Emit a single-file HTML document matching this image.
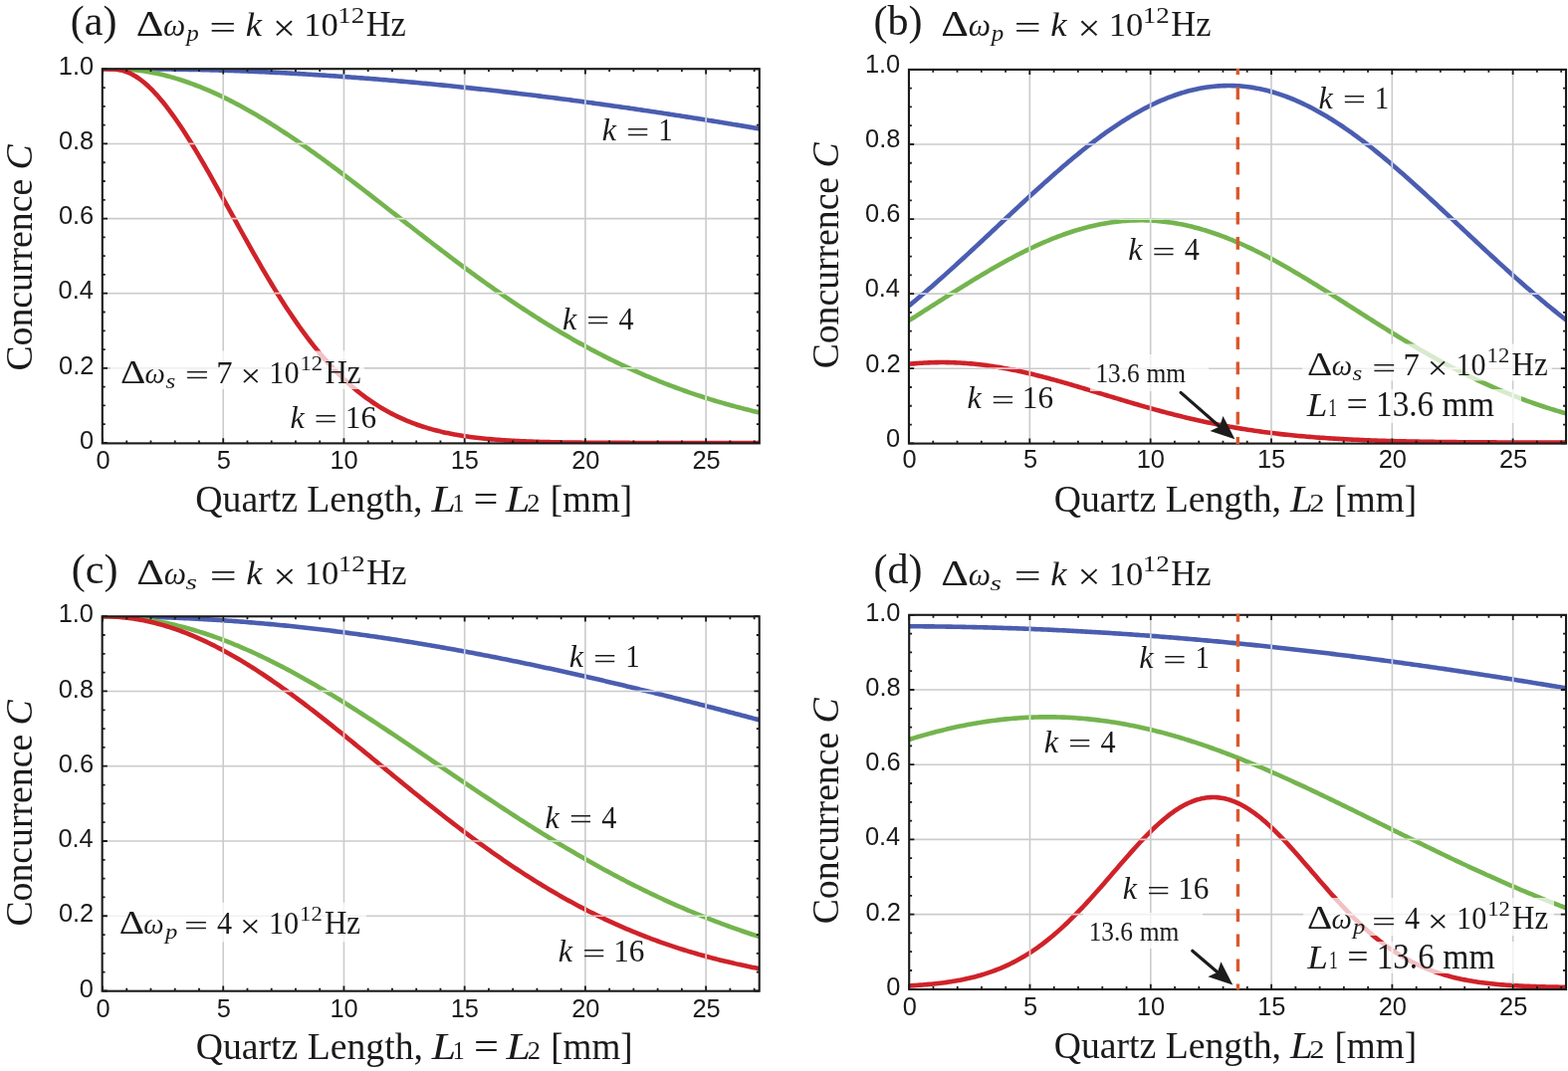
<!DOCTYPE html><html><head><meta charset="utf-8"><title>Concurrence vs quartz length</title><style>html,body{margin:0;padding:0;background:#fff;}svg{display:block;}</style></head><body>
<svg width="1575" height="1076" viewBox="0 0 1575 1076">
<rect width="1575" height="1076" fill="#fff"/>
<defs>
<clipPath id="clipa"><rect x="102.8" y="69.2" width="660.0" height="376.2"/></clipPath>
<clipPath id="clipb"><rect x="912.95" y="69.9" width="660.05" height="375.70000000000005"/></clipPath>
<clipPath id="clipc"><rect x="102.65" y="619.3" width="660.0500000000001" height="376.4000000000001"/></clipPath>
<clipPath id="clipd"><rect x="913.2" y="617.8" width="659.8" height="376.20000000000005"/></clipPath>
</defs>
<g id="panel-a">
<path d="M224.23 69.20V445.40M345.45 69.20V445.40M466.68 69.20V445.40M587.90 69.20V445.40M709.12 69.20V445.40M102.80 369.86H762.80M102.80 294.72H762.80M102.80 219.58H762.80M102.80 144.44H762.80" stroke="#cbcbcb" stroke-width="1.6" fill="none"/>
<g clip-path="url(#clipa)" fill="none" stroke-width="4.6" stroke-linejoin="round" stroke-linecap="round">
<polyline points="103.00,69.30 105.22,69.30 107.44,69.30 109.67,69.30 111.89,69.30 114.11,69.30 116.33,69.30 118.55,69.30 120.77,69.30 123.00,69.30 125.22,69.30 127.44,69.31 129.66,69.31 131.88,69.31 134.10,69.31 136.33,69.32 138.55,69.32 140.77,69.33 142.99,69.34 145.21,69.35 147.44,69.35 149.66,69.37 151.88,69.38 154.10,69.39 156.32,69.41 158.54,69.42 160.77,69.44 162.99,69.46 165.21,69.48 167.43,69.50 169.65,69.53 171.88,69.55 174.10,69.58 176.32,69.61 178.54,69.64 180.76,69.67 182.98,69.71 185.21,69.75 187.43,69.79 189.65,69.83 191.87,69.87 194.09,69.91 196.31,69.96 198.54,70.01 200.76,70.06 202.98,70.11 205.20,70.16 207.42,70.22 209.65,70.28 211.87,70.34 214.09,70.40 216.31,70.46 218.53,70.53 220.75,70.59 222.98,70.66 225.20,70.73 227.42,70.80 229.64,70.88 231.86,70.95 234.09,71.03 236.31,71.11 238.53,71.19 240.75,71.28 242.97,71.36 245.19,71.45 247.42,71.54 249.64,71.63 251.86,71.72 254.08,71.81 256.30,71.91 258.52,72.00 260.75,72.10 262.97,72.20 265.19,72.30 267.41,72.41 269.63,72.51 271.86,72.62 274.08,72.73 276.30,72.84 278.52,72.95 280.74,73.06 282.96,73.18 285.19,73.29 287.41,73.41 289.63,73.53 291.85,73.65 294.07,73.78 296.30,73.90 298.52,74.03 300.74,74.15 302.96,74.28 305.18,74.41 307.40,74.55 309.63,74.68 311.85,74.82 314.07,74.95 316.29,75.09 318.51,75.23 320.73,75.37 322.96,75.52 325.18,75.66 327.40,75.81 329.62,75.95 331.84,76.10 334.07,76.25 336.29,76.41 338.51,76.56 340.73,76.71 342.95,76.87 345.17,77.03 347.40,77.19 349.62,77.35 351.84,77.51 354.06,77.68 356.28,77.84 358.50,78.01 360.73,78.18 362.95,78.35 365.17,78.52 367.39,78.69 369.61,78.87 371.84,79.04 374.06,79.22 376.28,79.40 378.50,79.58 380.72,79.76 382.94,79.94 385.17,80.13 387.39,80.31 389.61,80.50 391.83,80.69 394.05,80.88 396.28,81.07 398.50,81.26 400.72,81.45 402.94,81.65 405.16,81.85 407.38,82.04 409.61,82.24 411.83,82.45 414.05,82.65 416.27,82.85 418.49,83.06 420.71,83.26 422.94,83.47 425.16,83.68 427.38,83.89 429.60,84.10 431.82,84.32 434.05,84.53 436.27,84.75 438.49,84.96 440.71,85.18 442.93,85.40 445.15,85.62 447.38,85.85 449.60,86.07 451.82,86.29 454.04,86.52 456.26,86.75 458.49,86.98 460.71,87.21 462.93,87.44 465.15,87.67 467.37,87.91 469.59,88.14 471.82,88.38 474.04,88.62 476.26,88.86 478.48,89.10 480.70,89.34 482.92,89.59 485.15,89.83 487.37,90.08 489.59,90.32 491.81,90.57 494.03,90.82 496.26,91.07 498.48,91.33 500.70,91.58 502.92,91.84 505.14,92.09 507.36,92.35 509.59,92.61 511.81,92.87 514.03,93.13 516.25,93.39 518.47,93.65 520.70,93.92 522.92,94.19 525.14,94.45 527.36,94.72 529.58,94.99 531.80,95.26 534.03,95.53 536.25,95.81 538.47,96.08 540.69,96.36 542.91,96.63 545.13,96.91 547.36,97.19 549.58,97.47 551.80,97.75 554.02,98.04 556.24,98.32 558.47,98.61 560.69,98.89 562.91,99.18 565.13,99.47 567.35,99.76 569.57,100.05 571.80,100.34 574.02,100.63 576.24,100.93 578.46,101.22 580.68,101.52 582.91,101.82 585.13,102.12 587.35,102.42 589.57,102.72 591.79,103.02 594.01,103.32 596.24,103.63 598.46,103.93 600.68,104.24 602.90,104.55 605.12,104.86 607.34,105.17 609.57,105.48 611.79,105.79 614.01,106.11 616.23,106.42 618.45,106.73 620.68,107.05 622.90,107.37 625.12,107.69 627.34,108.01 629.56,108.33 631.78,108.65 634.01,108.97 636.23,109.30 638.45,109.62 640.67,109.95 642.89,110.27 645.11,110.60 647.34,110.93 649.56,111.26 651.78,111.59 654.00,111.93 656.22,112.26 658.45,112.59 660.67,112.93 662.89,113.26 665.11,113.60 667.33,113.94 669.55,114.28 671.78,114.62 674.00,114.96 676.22,115.30 678.44,115.65 680.66,115.99 682.89,116.33 685.11,116.68 687.33,117.03 689.55,117.38 691.77,117.72 693.99,118.07 696.22,118.43 698.44,118.78 700.66,119.13 702.88,119.48 705.10,119.84 707.32,120.19 709.55,120.55 711.77,120.91 713.99,121.27 716.21,121.62 718.43,121.98 720.66,122.35 722.88,122.71 725.10,123.07 727.32,123.43 729.54,123.80 731.76,124.16 733.99,124.53 736.21,124.90 738.43,125.26 740.65,125.63 742.87,126.00 745.10,126.37 747.32,126.75 749.54,127.12 751.76,127.49 753.98,127.86 756.20,128.24 758.43,128.62 760.65,128.99 762.87,129.37 765.09,129.75 767.31,130.13" stroke="#4a5db0"/>
<polyline points="103.00,69.30 105.22,69.30 107.44,69.30 109.67,69.30 111.89,69.31 114.11,69.32 116.33,69.35 118.55,69.39 120.77,69.44 123.00,69.51 125.22,69.60 127.44,69.72 129.66,69.86 131.88,70.03 134.10,70.22 136.33,70.43 138.55,70.68 140.77,70.95 142.99,71.25 145.21,71.57 147.44,71.92 149.66,72.29 151.88,72.69 154.10,73.12 156.32,73.57 158.54,74.04 160.77,74.54 162.99,75.06 165.21,75.60 167.43,76.17 169.65,76.76 171.88,77.37 174.10,78.00 176.32,78.66 178.54,79.34 180.76,80.03 182.98,80.75 185.21,81.49 187.43,82.25 189.65,83.03 191.87,83.83 194.09,84.65 196.31,85.49 198.54,86.35 200.76,87.22 202.98,88.12 205.20,89.04 207.42,89.97 209.65,90.92 211.87,91.89 214.09,92.88 216.31,93.88 218.53,94.91 220.75,95.95 222.98,97.01 225.20,98.08 227.42,99.17 229.64,100.28 231.86,101.40 234.09,102.55 236.31,103.70 238.53,104.87 240.75,106.06 242.97,107.26 245.19,108.48 247.42,109.72 249.64,110.96 251.86,112.23 254.08,113.50 256.30,114.79 258.52,116.10 260.75,117.42 262.97,118.75 265.19,120.09 267.41,121.45 269.63,122.82 271.86,124.21 274.08,125.60 276.30,127.01 278.52,128.43 280.74,129.86 282.96,131.31 285.19,132.76 287.41,134.23 289.63,135.70 291.85,137.19 294.07,138.69 296.30,140.19 298.52,141.71 300.74,143.24 302.96,144.78 305.18,146.32 307.40,147.88 309.63,149.44 311.85,151.01 314.07,152.60 316.29,154.18 318.51,155.78 320.73,157.39 322.96,159.00 325.18,160.62 327.40,162.24 329.62,163.88 331.84,165.52 334.07,167.16 336.29,168.82 338.51,170.47 340.73,172.14 342.95,173.81 345.17,175.48 347.40,177.16 349.62,178.84 351.84,180.53 354.06,182.23 356.28,183.92 358.50,185.62 360.73,187.33 362.95,189.04 365.17,190.75 367.39,192.46 369.61,194.18 371.84,195.90 374.06,197.62 376.28,199.34 378.50,201.07 380.72,202.80 382.94,204.53 385.17,206.26 387.39,207.99 389.61,209.72 391.83,211.45 394.05,213.19 396.28,214.92 398.50,216.65 400.72,218.39 402.94,220.12 405.16,221.85 407.38,223.59 409.61,225.32 411.83,227.05 414.05,228.78 416.27,230.51 418.49,232.23 420.71,233.96 422.94,235.68 425.16,237.40 427.38,239.11 429.60,240.83 431.82,242.54 434.05,244.25 436.27,245.96 438.49,247.66 440.71,249.36 442.93,251.06 445.15,252.75 447.38,254.44 449.60,256.12 451.82,257.80 454.04,259.48 456.26,261.15 458.49,262.82 460.71,264.48 462.93,266.14 465.15,267.79 467.37,269.43 469.59,271.08 471.82,272.71 474.04,274.34 476.26,275.97 478.48,277.58 480.70,279.20 482.92,280.80 485.15,282.40 487.37,284.00 489.59,285.58 491.81,287.16 494.03,288.74 496.26,290.31 498.48,291.87 500.70,293.42 502.92,294.96 505.14,296.50 507.36,298.03 509.59,299.56 511.81,301.07 514.03,302.58 516.25,304.08 518.47,305.57 520.70,307.06 522.92,308.54 525.14,310.00 527.36,311.47 529.58,312.92 531.80,314.36 534.03,315.80 536.25,317.22 538.47,318.64 540.69,320.05 542.91,321.45 545.13,322.85 547.36,324.23 549.58,325.60 551.80,326.97 554.02,328.33 556.24,329.68 558.47,331.01 560.69,332.34 562.91,333.66 565.13,334.98 567.35,336.28 569.57,337.57 571.80,338.85 574.02,340.13 576.24,341.39 578.46,342.65 580.68,343.89 582.91,345.13 585.13,346.36 587.35,347.58 589.57,348.78 591.79,349.98 594.01,351.17 596.24,352.35 598.46,353.52 600.68,354.68 602.90,355.83 605.12,356.97 607.34,358.10 609.57,359.22 611.79,360.34 614.01,361.44 616.23,362.53 618.45,363.61 620.68,364.69 622.90,365.75 625.12,366.81 627.34,367.85 629.56,368.88 631.78,369.91 634.01,370.93 636.23,371.93 638.45,372.93 640.67,373.92 642.89,374.89 645.11,375.86 647.34,376.82 649.56,377.77 651.78,378.71 654.00,379.64 656.22,380.56 658.45,381.47 660.67,382.37 662.89,383.27 665.11,384.15 667.33,385.03 669.55,385.89 671.78,386.75 674.00,387.59 676.22,388.43 678.44,389.26 680.66,390.08 682.89,390.89 685.11,391.69 687.33,392.49 689.55,393.27 691.77,394.05 693.99,394.81 696.22,395.57 698.44,396.32 700.66,397.06 702.88,397.79 705.10,398.52 707.32,399.23 709.55,399.94 711.77,400.64 713.99,401.33 716.21,402.01 718.43,402.68 720.66,403.35 722.88,404.00 725.10,404.65 727.32,405.29 729.54,405.93 731.76,406.55 733.99,407.17 736.21,407.78 738.43,408.38 740.65,408.98 742.87,409.56 745.10,410.14 747.32,410.71 749.54,411.28 751.76,411.83 753.98,412.38 756.20,412.93 758.43,413.46 760.65,413.99 762.87,414.51 765.09,415.02 767.31,415.53" stroke="#74b44e"/>
<polyline points="103.00,69.30 105.22,69.30 107.44,69.31 109.67,69.33 111.89,69.38 114.11,69.50 116.33,69.68 118.55,69.97 120.77,70.36 123.00,70.87 125.22,71.51 127.44,72.29 129.66,73.20 131.88,74.25 134.10,75.44 136.33,76.76 138.55,78.21 140.77,79.79 142.99,81.49 145.21,83.32 147.44,85.25 149.66,87.31 151.88,89.47 154.10,91.73 156.32,94.10 158.54,96.57 160.77,99.14 162.99,101.79 165.21,104.54 167.43,107.37 169.65,110.29 171.88,113.28 174.10,116.36 176.32,119.50 178.54,122.72 180.76,126.00 182.98,129.35 185.21,132.76 187.43,136.23 189.65,139.75 191.87,143.33 194.09,146.95 196.31,150.62 198.54,154.34 200.76,158.10 202.98,161.89 205.20,165.72 207.42,169.58 209.65,173.48 211.87,177.39 214.09,181.34 216.31,185.30 218.53,189.28 220.75,193.27 222.98,197.28 225.20,201.30 227.42,205.32 229.64,209.36 231.86,213.39 234.09,217.42 236.31,221.45 238.53,225.48 240.75,229.49 242.97,233.50 245.19,237.50 247.42,241.48 249.64,245.45 251.86,249.39 254.08,253.32 256.30,257.23 258.52,261.11 260.75,264.96 262.97,268.79 265.19,272.59 267.41,276.35 269.63,280.09 271.86,283.79 274.08,287.45 276.30,291.08 278.52,294.67 280.74,298.22 282.96,301.73 285.19,305.20 287.41,308.63 289.63,312.01 291.85,315.34 294.07,318.63 296.30,321.88 298.52,325.07 300.74,328.22 302.96,331.32 305.18,334.38 307.40,337.38 309.63,340.33 311.85,343.23 314.07,346.08 316.29,348.88 318.51,351.63 320.73,354.33 322.96,356.98 325.18,359.57 327.40,362.12 329.62,364.61 331.84,367.05 334.07,369.44 336.29,371.78 338.51,374.06 340.73,376.30 342.95,378.48 345.17,380.62 347.40,382.71 349.62,384.74 351.84,386.73 354.06,388.67 356.28,390.56 358.50,392.40 360.73,394.20 362.95,395.95 365.17,397.65 367.39,399.31 369.61,400.92 371.84,402.49 374.06,404.01 376.28,405.50 378.50,406.94 380.72,408.34 382.94,409.69 385.17,411.01 387.39,412.29 389.61,413.53 391.83,414.73 394.05,415.90 396.28,417.03 398.50,418.12 400.72,419.18 402.94,420.20 405.16,421.19 407.38,422.15 409.61,423.08 411.83,423.97 414.05,424.83 416.27,425.67 418.49,426.47 420.71,427.25 422.94,428.00 425.16,428.72 427.38,429.42 429.60,430.09 431.82,430.74 434.05,431.36 436.27,431.96 438.49,432.54 440.71,433.09 442.93,433.63 445.15,434.14 447.38,434.63 449.60,435.11 451.82,435.56 454.04,436.00 456.26,436.42 458.49,436.82 460.71,437.21 462.93,437.58 465.15,437.93 467.37,438.27 469.59,438.59 471.82,438.91 474.04,439.20 476.26,439.49 478.48,439.76 480.70,440.02 482.92,440.27 485.15,440.51 487.37,440.73 489.59,440.95 491.81,441.16 494.03,441.36 496.26,441.54 498.48,441.72 500.70,441.90 502.92,442.06 505.14,442.21 507.36,442.36 509.59,442.50 511.81,442.64 514.03,442.76 516.25,442.89 518.47,443.00 520.70,443.11 522.92,443.21 525.14,443.31 527.36,443.41 529.58,443.50 531.80,443.58 534.03,443.66 536.25,443.74 538.47,443.81 540.69,443.88 542.91,443.94 545.13,444.00 547.36,444.06 549.58,444.12 551.80,444.17 554.02,444.22 556.24,444.26 558.47,444.31 560.69,444.35 562.91,444.39 565.13,444.43 567.35,444.46 569.57,444.49 571.80,444.52 574.02,444.55 576.24,444.58 578.46,444.61 580.68,444.63 582.91,444.66 585.13,444.68 587.35,444.70 589.57,444.72 591.79,444.73 594.01,444.75 596.24,444.77 598.46,444.78 600.68,444.80 602.90,444.81 605.12,444.82 607.34,444.83 609.57,444.85 611.79,444.86 614.01,444.87 616.23,444.87 618.45,444.88 620.68,444.89 622.90,444.90 625.12,444.91 627.34,444.91 629.56,444.92 631.78,444.92 634.01,444.93 636.23,444.93 638.45,444.94 640.67,444.94 642.89,444.95 645.11,444.95 647.34,444.95 649.56,444.96 651.78,444.96 654.00,444.96 656.22,444.97 658.45,444.97 660.67,444.97 662.89,444.97 665.11,444.97 667.33,444.98 669.55,444.98 671.78,444.98 674.00,444.98 676.22,444.98 678.44,444.98 680.66,444.99 682.89,444.99 685.11,444.99 687.33,444.99 689.55,444.99 691.77,444.99 693.99,444.99 696.22,444.99 698.44,444.99 700.66,444.99 702.88,444.99 705.10,444.99 707.32,444.99 709.55,444.99 711.77,445.00 713.99,445.00 716.21,445.00 718.43,445.00 720.66,445.00 722.88,445.00 725.10,445.00 727.32,445.00 729.54,445.00 731.76,445.00 733.99,445.00 736.21,445.00 738.43,445.00 740.65,445.00 742.87,445.00 745.10,445.00 747.32,445.00 749.54,445.00 751.76,445.00 753.98,445.00 756.20,445.00 758.43,445.00 760.65,445.00 762.87,445.00 765.09,445.00 767.31,445.00" stroke="#cf2229"/>
</g>
<mask id="mka" maskUnits="userSpaceOnUse" x="0" y="0" width="1575" height="1076"><g fill="none" stroke="#fff" stroke-width="4.6" stroke-linejoin="round">
<polyline points="103.00,69.30 105.22,69.30 107.44,69.30 109.67,69.30 111.89,69.30 114.11,69.30 116.33,69.30 118.55,69.30 120.77,69.30 123.00,69.30 125.22,69.30 127.44,69.31 129.66,69.31 131.88,69.31 134.10,69.31 136.33,69.32 138.55,69.32 140.77,69.33 142.99,69.34 145.21,69.35 147.44,69.35 149.66,69.37 151.88,69.38 154.10,69.39 156.32,69.41 158.54,69.42 160.77,69.44 162.99,69.46 165.21,69.48 167.43,69.50 169.65,69.53 171.88,69.55 174.10,69.58 176.32,69.61 178.54,69.64 180.76,69.67 182.98,69.71 185.21,69.75 187.43,69.79 189.65,69.83 191.87,69.87 194.09,69.91 196.31,69.96 198.54,70.01 200.76,70.06 202.98,70.11 205.20,70.16 207.42,70.22 209.65,70.28 211.87,70.34 214.09,70.40 216.31,70.46 218.53,70.53 220.75,70.59 222.98,70.66 225.20,70.73 227.42,70.80 229.64,70.88 231.86,70.95 234.09,71.03 236.31,71.11 238.53,71.19 240.75,71.28 242.97,71.36 245.19,71.45 247.42,71.54 249.64,71.63 251.86,71.72 254.08,71.81 256.30,71.91 258.52,72.00 260.75,72.10 262.97,72.20 265.19,72.30 267.41,72.41 269.63,72.51 271.86,72.62 274.08,72.73 276.30,72.84 278.52,72.95 280.74,73.06 282.96,73.18 285.19,73.29 287.41,73.41 289.63,73.53 291.85,73.65 294.07,73.78 296.30,73.90 298.52,74.03 300.74,74.15 302.96,74.28 305.18,74.41 307.40,74.55 309.63,74.68 311.85,74.82 314.07,74.95 316.29,75.09 318.51,75.23 320.73,75.37 322.96,75.52 325.18,75.66 327.40,75.81 329.62,75.95 331.84,76.10 334.07,76.25 336.29,76.41 338.51,76.56 340.73,76.71 342.95,76.87 345.17,77.03 347.40,77.19 349.62,77.35 351.84,77.51 354.06,77.68 356.28,77.84 358.50,78.01 360.73,78.18 362.95,78.35 365.17,78.52 367.39,78.69 369.61,78.87 371.84,79.04 374.06,79.22 376.28,79.40 378.50,79.58 380.72,79.76 382.94,79.94 385.17,80.13 387.39,80.31 389.61,80.50 391.83,80.69 394.05,80.88 396.28,81.07 398.50,81.26 400.72,81.45 402.94,81.65 405.16,81.85 407.38,82.04 409.61,82.24 411.83,82.45 414.05,82.65 416.27,82.85 418.49,83.06 420.71,83.26 422.94,83.47 425.16,83.68 427.38,83.89 429.60,84.10 431.82,84.32 434.05,84.53 436.27,84.75 438.49,84.96 440.71,85.18 442.93,85.40 445.15,85.62 447.38,85.85 449.60,86.07 451.82,86.29 454.04,86.52 456.26,86.75 458.49,86.98 460.71,87.21 462.93,87.44 465.15,87.67 467.37,87.91 469.59,88.14 471.82,88.38 474.04,88.62 476.26,88.86 478.48,89.10 480.70,89.34 482.92,89.59 485.15,89.83 487.37,90.08 489.59,90.32 491.81,90.57 494.03,90.82 496.26,91.07 498.48,91.33 500.70,91.58 502.92,91.84 505.14,92.09 507.36,92.35 509.59,92.61 511.81,92.87 514.03,93.13 516.25,93.39 518.47,93.65 520.70,93.92 522.92,94.19 525.14,94.45 527.36,94.72 529.58,94.99 531.80,95.26 534.03,95.53 536.25,95.81 538.47,96.08 540.69,96.36 542.91,96.63 545.13,96.91 547.36,97.19 549.58,97.47 551.80,97.75 554.02,98.04 556.24,98.32 558.47,98.61 560.69,98.89 562.91,99.18 565.13,99.47 567.35,99.76 569.57,100.05 571.80,100.34 574.02,100.63 576.24,100.93 578.46,101.22 580.68,101.52 582.91,101.82 585.13,102.12 587.35,102.42 589.57,102.72 591.79,103.02 594.01,103.32 596.24,103.63 598.46,103.93 600.68,104.24 602.90,104.55 605.12,104.86 607.34,105.17 609.57,105.48 611.79,105.79 614.01,106.11 616.23,106.42 618.45,106.73 620.68,107.05 622.90,107.37 625.12,107.69 627.34,108.01 629.56,108.33 631.78,108.65 634.01,108.97 636.23,109.30 638.45,109.62 640.67,109.95 642.89,110.27 645.11,110.60 647.34,110.93 649.56,111.26 651.78,111.59 654.00,111.93 656.22,112.26 658.45,112.59 660.67,112.93 662.89,113.26 665.11,113.60 667.33,113.94 669.55,114.28 671.78,114.62 674.00,114.96 676.22,115.30 678.44,115.65 680.66,115.99 682.89,116.33 685.11,116.68 687.33,117.03 689.55,117.38 691.77,117.72 693.99,118.07 696.22,118.43 698.44,118.78 700.66,119.13 702.88,119.48 705.10,119.84 707.32,120.19 709.55,120.55 711.77,120.91 713.99,121.27 716.21,121.62 718.43,121.98 720.66,122.35 722.88,122.71 725.10,123.07 727.32,123.43 729.54,123.80 731.76,124.16 733.99,124.53 736.21,124.90 738.43,125.26 740.65,125.63 742.87,126.00 745.10,126.37 747.32,126.75 749.54,127.12 751.76,127.49 753.98,127.86 756.20,128.24 758.43,128.62 760.65,128.99 762.87,129.37 765.09,129.75 767.31,130.13"/>
<polyline points="103.00,69.30 105.22,69.30 107.44,69.30 109.67,69.30 111.89,69.31 114.11,69.32 116.33,69.35 118.55,69.39 120.77,69.44 123.00,69.51 125.22,69.60 127.44,69.72 129.66,69.86 131.88,70.03 134.10,70.22 136.33,70.43 138.55,70.68 140.77,70.95 142.99,71.25 145.21,71.57 147.44,71.92 149.66,72.29 151.88,72.69 154.10,73.12 156.32,73.57 158.54,74.04 160.77,74.54 162.99,75.06 165.21,75.60 167.43,76.17 169.65,76.76 171.88,77.37 174.10,78.00 176.32,78.66 178.54,79.34 180.76,80.03 182.98,80.75 185.21,81.49 187.43,82.25 189.65,83.03 191.87,83.83 194.09,84.65 196.31,85.49 198.54,86.35 200.76,87.22 202.98,88.12 205.20,89.04 207.42,89.97 209.65,90.92 211.87,91.89 214.09,92.88 216.31,93.88 218.53,94.91 220.75,95.95 222.98,97.01 225.20,98.08 227.42,99.17 229.64,100.28 231.86,101.40 234.09,102.55 236.31,103.70 238.53,104.87 240.75,106.06 242.97,107.26 245.19,108.48 247.42,109.72 249.64,110.96 251.86,112.23 254.08,113.50 256.30,114.79 258.52,116.10 260.75,117.42 262.97,118.75 265.19,120.09 267.41,121.45 269.63,122.82 271.86,124.21 274.08,125.60 276.30,127.01 278.52,128.43 280.74,129.86 282.96,131.31 285.19,132.76 287.41,134.23 289.63,135.70 291.85,137.19 294.07,138.69 296.30,140.19 298.52,141.71 300.74,143.24 302.96,144.78 305.18,146.32 307.40,147.88 309.63,149.44 311.85,151.01 314.07,152.60 316.29,154.18 318.51,155.78 320.73,157.39 322.96,159.00 325.18,160.62 327.40,162.24 329.62,163.88 331.84,165.52 334.07,167.16 336.29,168.82 338.51,170.47 340.73,172.14 342.95,173.81 345.17,175.48 347.40,177.16 349.62,178.84 351.84,180.53 354.06,182.23 356.28,183.92 358.50,185.62 360.73,187.33 362.95,189.04 365.17,190.75 367.39,192.46 369.61,194.18 371.84,195.90 374.06,197.62 376.28,199.34 378.50,201.07 380.72,202.80 382.94,204.53 385.17,206.26 387.39,207.99 389.61,209.72 391.83,211.45 394.05,213.19 396.28,214.92 398.50,216.65 400.72,218.39 402.94,220.12 405.16,221.85 407.38,223.59 409.61,225.32 411.83,227.05 414.05,228.78 416.27,230.51 418.49,232.23 420.71,233.96 422.94,235.68 425.16,237.40 427.38,239.11 429.60,240.83 431.82,242.54 434.05,244.25 436.27,245.96 438.49,247.66 440.71,249.36 442.93,251.06 445.15,252.75 447.38,254.44 449.60,256.12 451.82,257.80 454.04,259.48 456.26,261.15 458.49,262.82 460.71,264.48 462.93,266.14 465.15,267.79 467.37,269.43 469.59,271.08 471.82,272.71 474.04,274.34 476.26,275.97 478.48,277.58 480.70,279.20 482.92,280.80 485.15,282.40 487.37,284.00 489.59,285.58 491.81,287.16 494.03,288.74 496.26,290.31 498.48,291.87 500.70,293.42 502.92,294.96 505.14,296.50 507.36,298.03 509.59,299.56 511.81,301.07 514.03,302.58 516.25,304.08 518.47,305.57 520.70,307.06 522.92,308.54 525.14,310.00 527.36,311.47 529.58,312.92 531.80,314.36 534.03,315.80 536.25,317.22 538.47,318.64 540.69,320.05 542.91,321.45 545.13,322.85 547.36,324.23 549.58,325.60 551.80,326.97 554.02,328.33 556.24,329.68 558.47,331.01 560.69,332.34 562.91,333.66 565.13,334.98 567.35,336.28 569.57,337.57 571.80,338.85 574.02,340.13 576.24,341.39 578.46,342.65 580.68,343.89 582.91,345.13 585.13,346.36 587.35,347.58 589.57,348.78 591.79,349.98 594.01,351.17 596.24,352.35 598.46,353.52 600.68,354.68 602.90,355.83 605.12,356.97 607.34,358.10 609.57,359.22 611.79,360.34 614.01,361.44 616.23,362.53 618.45,363.61 620.68,364.69 622.90,365.75 625.12,366.81 627.34,367.85 629.56,368.88 631.78,369.91 634.01,370.93 636.23,371.93 638.45,372.93 640.67,373.92 642.89,374.89 645.11,375.86 647.34,376.82 649.56,377.77 651.78,378.71 654.00,379.64 656.22,380.56 658.45,381.47 660.67,382.37 662.89,383.27 665.11,384.15 667.33,385.03 669.55,385.89 671.78,386.75 674.00,387.59 676.22,388.43 678.44,389.26 680.66,390.08 682.89,390.89 685.11,391.69 687.33,392.49 689.55,393.27 691.77,394.05 693.99,394.81 696.22,395.57 698.44,396.32 700.66,397.06 702.88,397.79 705.10,398.52 707.32,399.23 709.55,399.94 711.77,400.64 713.99,401.33 716.21,402.01 718.43,402.68 720.66,403.35 722.88,404.00 725.10,404.65 727.32,405.29 729.54,405.93 731.76,406.55 733.99,407.17 736.21,407.78 738.43,408.38 740.65,408.98 742.87,409.56 745.10,410.14 747.32,410.71 749.54,411.28 751.76,411.83 753.98,412.38 756.20,412.93 758.43,413.46 760.65,413.99 762.87,414.51 765.09,415.02 767.31,415.53"/>
<polyline points="103.00,69.30 105.22,69.30 107.44,69.31 109.67,69.33 111.89,69.38 114.11,69.50 116.33,69.68 118.55,69.97 120.77,70.36 123.00,70.87 125.22,71.51 127.44,72.29 129.66,73.20 131.88,74.25 134.10,75.44 136.33,76.76 138.55,78.21 140.77,79.79 142.99,81.49 145.21,83.32 147.44,85.25 149.66,87.31 151.88,89.47 154.10,91.73 156.32,94.10 158.54,96.57 160.77,99.14 162.99,101.79 165.21,104.54 167.43,107.37 169.65,110.29 171.88,113.28 174.10,116.36 176.32,119.50 178.54,122.72 180.76,126.00 182.98,129.35 185.21,132.76 187.43,136.23 189.65,139.75 191.87,143.33 194.09,146.95 196.31,150.62 198.54,154.34 200.76,158.10 202.98,161.89 205.20,165.72 207.42,169.58 209.65,173.48 211.87,177.39 214.09,181.34 216.31,185.30 218.53,189.28 220.75,193.27 222.98,197.28 225.20,201.30 227.42,205.32 229.64,209.36 231.86,213.39 234.09,217.42 236.31,221.45 238.53,225.48 240.75,229.49 242.97,233.50 245.19,237.50 247.42,241.48 249.64,245.45 251.86,249.39 254.08,253.32 256.30,257.23 258.52,261.11 260.75,264.96 262.97,268.79 265.19,272.59 267.41,276.35 269.63,280.09 271.86,283.79 274.08,287.45 276.30,291.08 278.52,294.67 280.74,298.22 282.96,301.73 285.19,305.20 287.41,308.63 289.63,312.01 291.85,315.34 294.07,318.63 296.30,321.88 298.52,325.07 300.74,328.22 302.96,331.32 305.18,334.38 307.40,337.38 309.63,340.33 311.85,343.23 314.07,346.08 316.29,348.88 318.51,351.63 320.73,354.33 322.96,356.98 325.18,359.57 327.40,362.12 329.62,364.61 331.84,367.05 334.07,369.44 336.29,371.78 338.51,374.06 340.73,376.30 342.95,378.48 345.17,380.62 347.40,382.71 349.62,384.74 351.84,386.73 354.06,388.67 356.28,390.56 358.50,392.40 360.73,394.20 362.95,395.95 365.17,397.65 367.39,399.31 369.61,400.92 371.84,402.49 374.06,404.01 376.28,405.50 378.50,406.94 380.72,408.34 382.94,409.69 385.17,411.01 387.39,412.29 389.61,413.53 391.83,414.73 394.05,415.90 396.28,417.03 398.50,418.12 400.72,419.18 402.94,420.20 405.16,421.19 407.38,422.15 409.61,423.08 411.83,423.97 414.05,424.83 416.27,425.67 418.49,426.47 420.71,427.25 422.94,428.00 425.16,428.72 427.38,429.42 429.60,430.09 431.82,430.74 434.05,431.36 436.27,431.96 438.49,432.54 440.71,433.09 442.93,433.63 445.15,434.14 447.38,434.63 449.60,435.11 451.82,435.56 454.04,436.00 456.26,436.42 458.49,436.82 460.71,437.21 462.93,437.58 465.15,437.93 467.37,438.27 469.59,438.59 471.82,438.91 474.04,439.20 476.26,439.49 478.48,439.76 480.70,440.02 482.92,440.27 485.15,440.51 487.37,440.73 489.59,440.95 491.81,441.16 494.03,441.36 496.26,441.54 498.48,441.72 500.70,441.90 502.92,442.06 505.14,442.21 507.36,442.36 509.59,442.50 511.81,442.64 514.03,442.76 516.25,442.89 518.47,443.00 520.70,443.11 522.92,443.21 525.14,443.31 527.36,443.41 529.58,443.50 531.80,443.58 534.03,443.66 536.25,443.74 538.47,443.81 540.69,443.88 542.91,443.94 545.13,444.00 547.36,444.06 549.58,444.12 551.80,444.17 554.02,444.22 556.24,444.26 558.47,444.31 560.69,444.35 562.91,444.39 565.13,444.43 567.35,444.46 569.57,444.49 571.80,444.52 574.02,444.55 576.24,444.58 578.46,444.61 580.68,444.63 582.91,444.66 585.13,444.68 587.35,444.70 589.57,444.72 591.79,444.73 594.01,444.75 596.24,444.77 598.46,444.78 600.68,444.80 602.90,444.81 605.12,444.82 607.34,444.83 609.57,444.85 611.79,444.86 614.01,444.87 616.23,444.87 618.45,444.88 620.68,444.89 622.90,444.90 625.12,444.91 627.34,444.91 629.56,444.92 631.78,444.92 634.01,444.93 636.23,444.93 638.45,444.94 640.67,444.94 642.89,444.95 645.11,444.95 647.34,444.95 649.56,444.96 651.78,444.96 654.00,444.96 656.22,444.97 658.45,444.97 660.67,444.97 662.89,444.97 665.11,444.97 667.33,444.98 669.55,444.98 671.78,444.98 674.00,444.98 676.22,444.98 678.44,444.98 680.66,444.99 682.89,444.99 685.11,444.99 687.33,444.99 689.55,444.99 691.77,444.99 693.99,444.99 696.22,444.99 698.44,444.99 700.66,444.99 702.88,444.99 705.10,444.99 707.32,444.99 709.55,444.99 711.77,445.00 713.99,445.00 716.21,445.00 718.43,445.00 720.66,445.00 722.88,445.00 725.10,445.00 727.32,445.00 729.54,445.00 731.76,445.00 733.99,445.00 736.21,445.00 738.43,445.00 740.65,445.00 742.87,445.00 745.10,445.00 747.32,445.00 749.54,445.00 751.76,445.00 753.98,445.00 756.20,445.00 758.43,445.00 760.65,445.00 762.87,445.00 765.09,445.00 767.31,445.00"/>
</g></mask>
<path d="M224.23 69.20V445.40M345.45 69.20V445.40M466.68 69.20V445.40M587.90 69.20V445.40M709.12 69.20V445.40M102.80 369.86H762.80M102.80 294.72H762.80M102.80 219.58H762.80M102.80 144.44H762.80" stroke="#fff" stroke-opacity="0.72" stroke-width="1.7" fill="none" mask="url(#mka)" clip-path="url(#clipa)"/>
<rect x="111" y="352.5" width="255" height="38.5" fill="#fff" fill-opacity="0.72"/>
<path d="M103.00 445.40v-5.2M103.00 69.20v5.2M127.25 445.40v-2.9M127.25 69.20v2.9M151.49 445.40v-2.9M151.49 69.20v2.9M175.74 445.40v-2.9M175.74 69.20v2.9M199.98 445.40v-2.9M199.98 69.20v2.9M224.23 445.40v-5.2M224.23 69.20v5.2M248.47 445.40v-2.9M248.47 69.20v2.9M272.72 445.40v-2.9M272.72 69.20v2.9M296.96 445.40v-2.9M296.96 69.20v2.9M321.21 445.40v-2.9M321.21 69.20v2.9M345.45 445.40v-5.2M345.45 69.20v5.2M369.69 445.40v-2.9M369.69 69.20v2.9M393.94 445.40v-2.9M393.94 69.20v2.9M418.19 445.40v-2.9M418.19 69.20v2.9M442.43 445.40v-2.9M442.43 69.20v2.9M466.68 445.40v-5.2M466.68 69.20v5.2M490.92 445.40v-2.9M490.92 69.20v2.9M515.16 445.40v-2.9M515.16 69.20v2.9M539.41 445.40v-2.9M539.41 69.20v2.9M563.65 445.40v-2.9M563.65 69.20v2.9M587.90 445.40v-5.2M587.90 69.20v5.2M612.14 445.40v-2.9M612.14 69.20v2.9M636.39 445.40v-2.9M636.39 69.20v2.9M660.63 445.40v-2.9M660.63 69.20v2.9M684.88 445.40v-2.9M684.88 69.20v2.9M709.12 445.40v-5.2M709.12 69.20v5.2M733.37 445.40v-2.9M733.37 69.20v2.9M757.62 445.40v-2.9M757.62 69.20v2.9M102.80 445.00h5.2M762.80 445.00h-5.2M102.80 426.21h2.9M762.80 426.21h-2.9M102.80 407.43h2.9M762.80 407.43h-2.9M102.80 388.64h2.9M762.80 388.64h-2.9M102.80 369.86h5.2M762.80 369.86h-5.2M102.80 351.07h2.9M762.80 351.07h-2.9M102.80 332.29h2.9M762.80 332.29h-2.9M102.80 313.50h2.9M762.80 313.50h-2.9M102.80 294.72h5.2M762.80 294.72h-5.2M102.80 275.94h2.9M762.80 275.94h-2.9M102.80 257.15h2.9M762.80 257.15h-2.9M102.80 238.36h2.9M762.80 238.36h-2.9M102.80 219.58h5.2M762.80 219.58h-5.2M102.80 200.79h2.9M762.80 200.79h-2.9M102.80 182.01h2.9M762.80 182.01h-2.9M102.80 163.23h2.9M762.80 163.23h-2.9M102.80 144.44h5.2M762.80 144.44h-5.2M102.80 125.65h2.9M762.80 125.65h-2.9M102.80 106.87h2.9M762.80 106.87h-2.9M102.80 88.08h2.9M762.80 88.08h-2.9M102.80 69.30h5.2M762.80 69.30h-5.2" stroke="#1a1a1a" stroke-width="1.8" fill="none"/>
<rect x="102.80" y="69.20" width="660.00" height="376.20" fill="none" stroke="#1a1a1a" stroke-width="2.1"/>
<text x="79.97" y="450.75" font-family="'Liberation Sans',sans-serif" font-size="25.4" style="" fill="#1a1a1a" >0</text>
<text x="59.07" y="375.61" font-family="'Liberation Sans',sans-serif" font-size="25.4" style="" fill="#1a1a1a" >0.2</text>
<text x="58.53" y="300.47" font-family="'Liberation Sans',sans-serif" font-size="25.4" style="" fill="#1a1a1a" >0.4</text>
<text x="58.91" y="225.33" font-family="'Liberation Sans',sans-serif" font-size="25.4" style="" fill="#1a1a1a" >0.6</text>
<text x="58.89" y="150.19" font-family="'Liberation Sans',sans-serif" font-size="25.4" style="" fill="#1a1a1a" >0.8</text>
<text x="58.78" y="75.05" font-family="'Liberation Sans',sans-serif" font-size="25.4" style="" fill="#1a1a1a" >1.0</text>
<text x="96.54" y="471.30" font-family="'Liberation Sans',sans-serif" font-size="25.4" style="" fill="#1a1a1a" >0</text>
<text x="217.79" y="471.30" font-family="'Liberation Sans',sans-serif" font-size="25.4" style="" fill="#1a1a1a" >5</text>
<text x="331.45" y="471.30" font-family="'Liberation Sans',sans-serif" font-size="25.4" style="" fill="#1a1a1a" >10</text>
<text x="452.71" y="471.30" font-family="'Liberation Sans',sans-serif" font-size="25.4" style="" fill="#1a1a1a" >15</text>
<text x="574.23" y="471.30" font-family="'Liberation Sans',sans-serif" font-size="25.4" style="" fill="#1a1a1a" >20</text>
<text x="695.49" y="471.30" font-family="'Liberation Sans',sans-serif" font-size="25.4" style="" fill="#1a1a1a" >25</text>
</g>
<g id="panel-b">
<path d="M1034.33 69.90V445.60M1155.65 69.90V445.60M1276.97 69.90V445.60M1398.30 69.90V445.60M1519.62 69.90V445.60M912.95 370.22H1573.00M912.95 295.14H1573.00M912.95 220.06H1573.00M912.95 144.98H1573.00" stroke="#cbcbcb" stroke-width="1.6" fill="none"/>
<g clip-path="url(#clipb)" fill="none" stroke-width="4.6" stroke-linejoin="round" stroke-linecap="round">
<polyline points="913.00,307.21 915.22,305.38 917.45,303.53 919.67,301.68 921.89,299.81 924.12,297.93 926.34,296.04 928.57,294.14 930.79,292.23 933.01,290.31 935.24,288.39 937.46,286.45 939.68,284.50 941.91,282.54 944.13,280.58 946.35,278.60 948.58,276.62 950.80,274.63 953.03,272.63 955.25,270.63 957.47,268.62 959.70,266.60 961.92,264.57 964.14,262.54 966.37,260.50 968.59,258.46 970.81,256.41 973.04,254.36 975.26,252.30 977.48,250.24 979.71,248.17 981.93,246.10 984.16,244.03 986.38,241.95 988.60,239.88 990.83,237.79 993.05,235.71 995.27,233.63 997.50,231.54 999.72,229.46 1001.94,227.37 1004.17,225.28 1006.39,223.20 1008.62,221.11 1010.84,219.03 1013.06,216.95 1015.29,214.87 1017.51,212.79 1019.73,210.71 1021.96,208.64 1024.18,206.57 1026.40,204.51 1028.63,202.45 1030.85,200.39 1033.08,198.34 1035.30,196.30 1037.52,194.26 1039.75,192.23 1041.97,190.20 1044.19,188.19 1046.42,186.18 1048.64,184.17 1050.86,182.18 1053.09,180.20 1055.31,178.22 1057.54,176.26 1059.76,174.31 1061.98,172.36 1064.21,170.43 1066.43,168.51 1068.65,166.60 1070.88,164.71 1073.10,162.83 1075.32,160.96 1077.55,159.10 1079.77,157.26 1081.99,155.44 1084.22,153.62 1086.44,151.83 1088.67,150.05 1090.89,148.29 1093.11,146.54 1095.34,144.81 1097.56,143.10 1099.78,141.41 1102.01,139.74 1104.23,138.08 1106.45,136.44 1108.68,134.83 1110.90,133.23 1113.13,131.66 1115.35,130.10 1117.57,128.57 1119.80,127.06 1122.02,125.57 1124.24,124.10 1126.47,122.66 1128.69,121.24 1130.91,119.84 1133.14,118.47 1135.36,117.12 1137.59,115.79 1139.81,114.49 1142.03,113.22 1144.26,111.97 1146.48,110.75 1148.70,109.55 1150.93,108.38 1153.15,107.24 1155.37,106.13 1157.60,105.04 1159.82,103.98 1162.04,102.95 1164.27,101.94 1166.49,100.97 1168.72,100.02 1170.94,99.11 1173.16,98.22 1175.39,97.36 1177.61,96.53 1179.83,95.73 1182.06,94.97 1184.28,94.23 1186.50,93.52 1188.73,92.85 1190.95,92.20 1193.18,91.59 1195.40,91.01 1197.62,90.46 1199.85,89.94 1202.07,89.45 1204.29,89.00 1206.52,88.58 1208.74,88.19 1210.96,87.83 1213.19,87.50 1215.41,87.21 1217.64,86.95 1219.86,86.72 1222.08,86.53 1224.31,86.36 1226.53,86.24 1228.75,86.14 1230.98,86.08 1233.20,86.05 1235.42,86.05 1237.65,86.08 1239.87,86.15 1242.10,86.25 1244.32,86.39 1246.54,86.55 1248.77,86.75 1250.99,86.99 1253.21,87.25 1255.44,87.55 1257.66,87.88 1259.88,88.24 1262.11,88.64 1264.33,89.06 1266.55,89.52 1268.78,90.01 1271.00,90.54 1273.23,91.09 1275.45,91.68 1277.67,92.30 1279.90,92.95 1282.12,93.63 1284.34,94.34 1286.57,95.08 1288.79,95.85 1291.01,96.65 1293.24,97.49 1295.46,98.35 1297.69,99.24 1299.91,100.16 1302.13,101.11 1304.36,102.09 1306.58,103.10 1308.80,104.13 1311.03,105.20 1313.25,106.29 1315.47,107.41 1317.70,108.56 1319.92,109.73 1322.15,110.93 1324.37,112.16 1326.59,113.41 1328.82,114.69 1331.04,115.99 1333.26,117.32 1335.49,118.67 1337.71,120.05 1339.93,121.45 1342.16,122.87 1344.38,124.32 1346.61,125.79 1348.83,127.28 1351.05,128.80 1353.28,130.33 1355.50,131.89 1357.72,133.47 1359.95,135.07 1362.17,136.69 1364.39,138.32 1366.62,139.98 1368.84,141.66 1371.06,143.36 1373.29,145.07 1375.51,146.80 1377.74,148.55 1379.96,150.31 1382.18,152.09 1384.41,153.89 1386.63,155.71 1388.85,157.53 1391.08,159.38 1393.30,161.23 1395.52,163.10 1397.75,164.99 1399.97,166.89 1402.20,168.80 1404.42,170.72 1406.64,172.65 1408.87,174.60 1411.09,176.55 1413.31,178.52 1415.54,180.49 1417.76,182.48 1419.98,184.47 1422.21,186.47 1424.43,188.48 1426.66,190.50 1428.88,192.53 1431.10,194.56 1433.33,196.60 1435.55,198.65 1437.77,200.70 1440.00,202.75 1442.22,204.81 1444.44,206.88 1446.67,208.95 1448.89,211.02 1451.11,213.10 1453.34,215.18 1455.56,217.26 1457.79,219.34 1460.01,221.42 1462.23,223.51 1464.46,225.59 1466.68,227.68 1468.90,229.77 1471.13,231.85 1473.35,233.94 1475.57,236.02 1477.80,238.10 1480.02,240.18 1482.25,242.26 1484.47,244.34 1486.69,246.41 1488.92,248.48 1491.14,250.55 1493.36,252.61 1495.59,254.66 1497.81,256.72 1500.03,258.76 1502.26,260.81 1504.48,262.84 1506.71,264.87 1508.93,266.90 1511.15,268.92 1513.38,270.93 1515.60,272.93 1517.82,274.93 1520.05,276.92 1522.27,278.90 1524.49,280.87 1526.72,282.83 1528.94,284.79 1531.17,286.74 1533.39,288.67 1535.61,290.60 1537.84,292.52 1540.06,294.43 1542.28,296.32 1544.51,298.21 1546.73,300.09 1548.95,301.95 1551.18,303.81 1553.40,305.65 1555.62,307.49 1557.85,309.31 1560.07,311.12 1562.30,312.91 1564.52,314.70 1566.74,316.47 1568.97,318.23 1571.19,319.98 1573.41,321.71 1575.64,323.44 1577.86,325.15" stroke="#4a5db0"/>
<polyline points="913.00,322.08 915.22,320.67 917.45,319.26 919.67,317.85 921.89,316.43 924.12,315.02 926.34,313.60 928.57,312.18 930.79,310.76 933.01,309.34 935.24,307.93 937.46,306.51 939.68,305.09 941.91,303.67 944.13,302.26 946.35,300.84 948.58,299.43 950.80,298.02 953.03,296.61 955.25,295.21 957.47,293.81 959.70,292.41 961.92,291.02 964.14,289.63 966.37,288.24 968.59,286.87 970.81,285.49 973.04,284.12 975.26,282.76 977.48,281.40 979.71,280.05 981.93,278.71 984.16,277.38 986.38,276.05 988.60,274.73 990.83,273.42 993.05,272.12 995.27,270.82 997.50,269.54 999.72,268.27 1001.94,267.01 1004.17,265.75 1006.39,264.51 1008.62,263.28 1010.84,262.06 1013.06,260.85 1015.29,259.66 1017.51,258.48 1019.73,257.31 1021.96,256.15 1024.18,255.01 1026.40,253.88 1028.63,252.77 1030.85,251.67 1033.08,250.59 1035.30,249.52 1037.52,248.47 1039.75,247.43 1041.97,246.41 1044.19,245.40 1046.42,244.42 1048.64,243.44 1050.86,242.49 1053.09,241.56 1055.31,240.64 1057.54,239.74 1059.76,238.86 1061.98,238.00 1064.21,237.16 1066.43,236.33 1068.65,235.53 1070.88,234.74 1073.10,233.98 1075.32,233.24 1077.55,232.52 1079.77,231.81 1081.99,231.13 1084.22,230.47 1086.44,229.84 1088.67,229.22 1090.89,228.62 1093.11,228.05 1095.34,227.50 1097.56,226.97 1099.78,226.47 1102.01,225.99 1104.23,225.53 1106.45,225.09 1108.68,224.68 1110.90,224.29 1113.13,223.92 1115.35,223.58 1117.57,223.26 1119.80,222.96 1122.02,222.69 1124.24,222.44 1126.47,222.22 1128.69,222.02 1130.91,221.85 1133.14,221.69 1135.36,221.57 1137.59,221.47 1139.81,221.39 1142.03,221.33 1144.26,221.30 1146.48,221.30 1148.70,221.32 1150.93,221.36 1153.15,221.43 1155.37,221.53 1157.60,221.64 1159.82,221.78 1162.04,221.95 1164.27,222.14 1166.49,222.35 1168.72,222.59 1170.94,222.85 1173.16,223.14 1175.39,223.45 1177.61,223.78 1179.83,224.14 1182.06,224.52 1184.28,224.93 1186.50,225.35 1188.73,225.81 1190.95,226.28 1193.18,226.78 1195.40,227.29 1197.62,227.84 1199.85,228.40 1202.07,228.99 1204.29,229.59 1206.52,230.22 1208.74,230.87 1210.96,231.55 1213.19,232.24 1215.41,232.96 1217.64,233.69 1219.86,234.45 1222.08,235.22 1224.31,236.02 1226.53,236.83 1228.75,237.67 1230.98,238.52 1233.20,239.40 1235.42,240.29 1237.65,241.20 1239.87,242.13 1242.10,243.07 1244.32,244.04 1246.54,245.02 1248.77,246.02 1250.99,247.03 1253.21,248.06 1255.44,249.11 1257.66,250.17 1259.88,251.25 1262.11,252.34 1264.33,253.45 1266.55,254.57 1268.78,255.71 1271.00,256.86 1273.23,258.02 1275.45,259.20 1277.67,260.39 1279.90,261.59 1282.12,262.81 1284.34,264.03 1286.57,265.27 1288.79,266.52 1291.01,267.78 1293.24,269.05 1295.46,270.33 1297.69,271.62 1299.91,272.91 1302.13,274.22 1304.36,275.54 1306.58,276.86 1308.80,278.19 1311.03,279.53 1313.25,280.88 1315.47,282.23 1317.70,283.59 1319.92,284.96 1322.15,286.33 1324.37,287.71 1326.59,289.09 1328.82,290.48 1331.04,291.87 1333.26,293.27 1335.49,294.67 1337.71,296.07 1339.93,297.48 1342.16,298.88 1344.38,300.30 1346.61,301.71 1348.83,303.12 1351.05,304.54 1353.28,305.96 1355.50,307.38 1357.72,308.79 1359.95,310.21 1362.17,311.63 1364.39,313.05 1366.62,314.47 1368.84,315.88 1371.06,317.30 1373.29,318.71 1375.51,320.12 1377.74,321.53 1379.96,322.94 1382.18,324.34 1384.41,325.74 1386.63,327.14 1388.85,328.53 1391.08,329.92 1393.30,331.31 1395.52,332.69 1397.75,334.07 1399.97,335.44 1402.20,336.81 1404.42,338.17 1406.64,339.53 1408.87,340.88 1411.09,342.22 1413.31,343.56 1415.54,344.89 1417.76,346.21 1419.98,347.53 1422.21,348.84 1424.43,350.15 1426.66,351.44 1428.88,352.73 1431.10,354.01 1433.33,355.29 1435.55,356.55 1437.77,357.81 1440.00,359.06 1442.22,360.30 1444.44,361.53 1446.67,362.75 1448.89,363.97 1451.11,365.17 1453.34,366.37 1455.56,367.55 1457.79,368.73 1460.01,369.89 1462.23,371.05 1464.46,372.20 1466.68,373.34 1468.90,374.46 1471.13,375.58 1473.35,376.69 1475.57,377.79 1477.80,378.87 1480.02,379.95 1482.25,381.02 1484.47,382.07 1486.69,383.12 1488.92,384.15 1491.14,385.17 1493.36,386.19 1495.59,387.19 1497.81,388.18 1500.03,389.16 1502.26,390.13 1504.48,391.09 1506.71,392.04 1508.93,392.98 1511.15,393.90 1513.38,394.82 1515.60,395.72 1517.82,396.62 1520.05,397.50 1522.27,398.37 1524.49,399.23 1526.72,400.08 1528.94,400.92 1531.17,401.75 1533.39,402.57 1535.61,403.37 1537.84,404.17 1540.06,404.96 1542.28,405.73 1544.51,406.49 1546.73,407.25 1548.95,407.99 1551.18,408.72 1553.40,409.45 1555.62,410.16 1557.85,410.86 1560.07,411.55 1562.30,412.23 1564.52,412.90 1566.74,413.56 1568.97,414.21 1571.19,414.85 1573.41,415.48 1575.64,416.10 1577.86,416.71" stroke="#74b44e"/>
<polyline points="913.00,365.77 915.22,365.55 917.45,365.35 919.67,365.16 921.89,364.98 924.12,364.82 926.34,364.68 928.57,364.55 930.79,364.43 933.01,364.34 935.24,364.25 937.46,364.18 939.68,364.13 941.91,364.09 944.13,364.07 946.35,364.06 948.58,364.07 950.80,364.10 953.03,364.14 955.25,364.19 957.47,364.26 959.70,364.35 961.92,364.45 964.14,364.56 966.37,364.70 968.59,364.84 970.81,365.00 973.04,365.18 975.26,365.37 977.48,365.58 979.71,365.80 981.93,366.03 984.16,366.28 986.38,366.54 988.60,366.82 990.83,367.11 993.05,367.42 995.27,367.74 997.50,368.07 999.72,368.41 1001.94,368.77 1004.17,369.14 1006.39,369.53 1008.62,369.92 1010.84,370.33 1013.06,370.75 1015.29,371.18 1017.51,371.62 1019.73,372.08 1021.96,372.54 1024.18,373.02 1026.40,373.51 1028.63,374.00 1030.85,374.51 1033.08,375.03 1035.30,375.55 1037.52,376.09 1039.75,376.63 1041.97,377.18 1044.19,377.75 1046.42,378.31 1048.64,378.89 1050.86,379.48 1053.09,380.07 1055.31,380.66 1057.54,381.27 1059.76,381.88 1061.98,382.50 1064.21,383.12 1066.43,383.75 1068.65,384.38 1070.88,385.02 1073.10,385.66 1075.32,386.31 1077.55,386.96 1079.77,387.62 1081.99,388.28 1084.22,388.94 1086.44,389.60 1088.67,390.27 1090.89,390.94 1093.11,391.61 1095.34,392.28 1097.56,392.95 1099.78,393.63 1102.01,394.30 1104.23,394.98 1106.45,395.66 1108.68,396.33 1110.90,397.01 1113.13,397.69 1115.35,398.36 1117.57,399.03 1119.80,399.71 1122.02,400.38 1124.24,401.05 1126.47,401.72 1128.69,402.38 1130.91,403.05 1133.14,403.71 1135.36,404.37 1137.59,405.02 1139.81,405.67 1142.03,406.32 1144.26,406.97 1146.48,407.61 1148.70,408.24 1150.93,408.88 1153.15,409.51 1155.37,410.13 1157.60,410.75 1159.82,411.37 1162.04,411.98 1164.27,412.58 1166.49,413.18 1168.72,413.78 1170.94,414.36 1173.16,414.95 1175.39,415.53 1177.61,416.10 1179.83,416.66 1182.06,417.22 1184.28,417.78 1186.50,418.33 1188.73,418.87 1190.95,419.40 1193.18,419.93 1195.40,420.46 1197.62,420.97 1199.85,421.48 1202.07,421.98 1204.29,422.48 1206.52,422.97 1208.74,423.45 1210.96,423.93 1213.19,424.40 1215.41,424.86 1217.64,425.31 1219.86,425.76 1222.08,426.20 1224.31,426.64 1226.53,427.07 1228.75,427.49 1230.98,427.90 1233.20,428.31 1235.42,428.71 1237.65,429.10 1239.87,429.49 1242.10,429.87 1244.32,430.24 1246.54,430.61 1248.77,430.97 1250.99,431.32 1253.21,431.67 1255.44,432.01 1257.66,432.34 1259.88,432.67 1262.11,432.99 1264.33,433.30 1266.55,433.61 1268.78,433.91 1271.00,434.20 1273.23,434.49 1275.45,434.78 1277.67,435.05 1279.90,435.32 1282.12,435.59 1284.34,435.85 1286.57,436.10 1288.79,436.35 1291.01,436.59 1293.24,436.83 1295.46,437.06 1297.69,437.28 1299.91,437.50 1302.13,437.72 1304.36,437.93 1306.58,438.13 1308.80,438.33 1311.03,438.52 1313.25,438.71 1315.47,438.90 1317.70,439.08 1319.92,439.25 1322.15,439.42 1324.37,439.59 1326.59,439.75 1328.82,439.91 1331.04,440.06 1333.26,440.21 1335.49,440.36 1337.71,440.50 1339.93,440.64 1342.16,440.77 1344.38,440.90 1346.61,441.03 1348.83,441.15 1351.05,441.27 1353.28,441.38 1355.50,441.49 1357.72,441.60 1359.95,441.71 1362.17,441.81 1364.39,441.91 1366.62,442.01 1368.84,442.10 1371.06,442.19 1373.29,442.28 1375.51,442.36 1377.74,442.45 1379.96,442.53 1382.18,442.60 1384.41,442.68 1386.63,442.75 1388.85,442.82 1391.08,442.89 1393.30,442.95 1395.52,443.02 1397.75,443.08 1399.97,443.14 1402.20,443.19 1404.42,443.25 1406.64,443.30 1408.87,443.35 1411.09,443.40 1413.31,443.45 1415.54,443.50 1417.76,443.54 1419.98,443.59 1422.21,443.63 1424.43,443.67 1426.66,443.71 1428.88,443.74 1431.10,443.78 1433.33,443.82 1435.55,443.85 1437.77,443.88 1440.00,443.91 1442.22,443.94 1444.44,443.97 1446.67,444.00 1448.89,444.02 1451.11,444.05 1453.34,444.07 1455.56,444.10 1457.79,444.12 1460.01,444.14 1462.23,444.16 1464.46,444.18 1466.68,444.20 1468.90,444.22 1471.13,444.24 1473.35,444.26 1475.57,444.27 1477.80,444.29 1480.02,444.30 1482.25,444.32 1484.47,444.33 1486.69,444.34 1488.92,444.36 1491.14,444.37 1493.36,444.38 1495.59,444.39 1497.81,444.40 1500.03,444.41 1502.26,444.42 1504.48,444.43 1506.71,444.44 1508.93,444.45 1511.15,444.46 1513.38,444.47 1515.60,444.47 1517.82,444.48 1520.05,444.49 1522.27,444.49 1524.49,444.50 1526.72,444.51 1528.94,444.51 1531.17,444.52 1533.39,444.52 1535.61,444.53 1537.84,444.53 1540.06,444.54 1542.28,444.54 1544.51,444.55 1546.73,444.55 1548.95,444.55 1551.18,444.56 1553.40,444.56 1555.62,444.56 1557.85,444.57 1560.07,444.57 1562.30,444.57 1564.52,444.58 1566.74,444.58 1568.97,444.58 1571.19,444.58 1573.41,444.59 1575.64,444.59 1577.86,444.59" stroke="#cf2229"/>
</g>
<mask id="mkb" maskUnits="userSpaceOnUse" x="0" y="0" width="1575" height="1076"><g fill="none" stroke="#fff" stroke-width="4.6" stroke-linejoin="round">
<polyline points="913.00,307.21 915.22,305.38 917.45,303.53 919.67,301.68 921.89,299.81 924.12,297.93 926.34,296.04 928.57,294.14 930.79,292.23 933.01,290.31 935.24,288.39 937.46,286.45 939.68,284.50 941.91,282.54 944.13,280.58 946.35,278.60 948.58,276.62 950.80,274.63 953.03,272.63 955.25,270.63 957.47,268.62 959.70,266.60 961.92,264.57 964.14,262.54 966.37,260.50 968.59,258.46 970.81,256.41 973.04,254.36 975.26,252.30 977.48,250.24 979.71,248.17 981.93,246.10 984.16,244.03 986.38,241.95 988.60,239.88 990.83,237.79 993.05,235.71 995.27,233.63 997.50,231.54 999.72,229.46 1001.94,227.37 1004.17,225.28 1006.39,223.20 1008.62,221.11 1010.84,219.03 1013.06,216.95 1015.29,214.87 1017.51,212.79 1019.73,210.71 1021.96,208.64 1024.18,206.57 1026.40,204.51 1028.63,202.45 1030.85,200.39 1033.08,198.34 1035.30,196.30 1037.52,194.26 1039.75,192.23 1041.97,190.20 1044.19,188.19 1046.42,186.18 1048.64,184.17 1050.86,182.18 1053.09,180.20 1055.31,178.22 1057.54,176.26 1059.76,174.31 1061.98,172.36 1064.21,170.43 1066.43,168.51 1068.65,166.60 1070.88,164.71 1073.10,162.83 1075.32,160.96 1077.55,159.10 1079.77,157.26 1081.99,155.44 1084.22,153.62 1086.44,151.83 1088.67,150.05 1090.89,148.29 1093.11,146.54 1095.34,144.81 1097.56,143.10 1099.78,141.41 1102.01,139.74 1104.23,138.08 1106.45,136.44 1108.68,134.83 1110.90,133.23 1113.13,131.66 1115.35,130.10 1117.57,128.57 1119.80,127.06 1122.02,125.57 1124.24,124.10 1126.47,122.66 1128.69,121.24 1130.91,119.84 1133.14,118.47 1135.36,117.12 1137.59,115.79 1139.81,114.49 1142.03,113.22 1144.26,111.97 1146.48,110.75 1148.70,109.55 1150.93,108.38 1153.15,107.24 1155.37,106.13 1157.60,105.04 1159.82,103.98 1162.04,102.95 1164.27,101.94 1166.49,100.97 1168.72,100.02 1170.94,99.11 1173.16,98.22 1175.39,97.36 1177.61,96.53 1179.83,95.73 1182.06,94.97 1184.28,94.23 1186.50,93.52 1188.73,92.85 1190.95,92.20 1193.18,91.59 1195.40,91.01 1197.62,90.46 1199.85,89.94 1202.07,89.45 1204.29,89.00 1206.52,88.58 1208.74,88.19 1210.96,87.83 1213.19,87.50 1215.41,87.21 1217.64,86.95 1219.86,86.72 1222.08,86.53 1224.31,86.36 1226.53,86.24 1228.75,86.14 1230.98,86.08 1233.20,86.05 1235.42,86.05 1237.65,86.08 1239.87,86.15 1242.10,86.25 1244.32,86.39 1246.54,86.55 1248.77,86.75 1250.99,86.99 1253.21,87.25 1255.44,87.55 1257.66,87.88 1259.88,88.24 1262.11,88.64 1264.33,89.06 1266.55,89.52 1268.78,90.01 1271.00,90.54 1273.23,91.09 1275.45,91.68 1277.67,92.30 1279.90,92.95 1282.12,93.63 1284.34,94.34 1286.57,95.08 1288.79,95.85 1291.01,96.65 1293.24,97.49 1295.46,98.35 1297.69,99.24 1299.91,100.16 1302.13,101.11 1304.36,102.09 1306.58,103.10 1308.80,104.13 1311.03,105.20 1313.25,106.29 1315.47,107.41 1317.70,108.56 1319.92,109.73 1322.15,110.93 1324.37,112.16 1326.59,113.41 1328.82,114.69 1331.04,115.99 1333.26,117.32 1335.49,118.67 1337.71,120.05 1339.93,121.45 1342.16,122.87 1344.38,124.32 1346.61,125.79 1348.83,127.28 1351.05,128.80 1353.28,130.33 1355.50,131.89 1357.72,133.47 1359.95,135.07 1362.17,136.69 1364.39,138.32 1366.62,139.98 1368.84,141.66 1371.06,143.36 1373.29,145.07 1375.51,146.80 1377.74,148.55 1379.96,150.31 1382.18,152.09 1384.41,153.89 1386.63,155.71 1388.85,157.53 1391.08,159.38 1393.30,161.23 1395.52,163.10 1397.75,164.99 1399.97,166.89 1402.20,168.80 1404.42,170.72 1406.64,172.65 1408.87,174.60 1411.09,176.55 1413.31,178.52 1415.54,180.49 1417.76,182.48 1419.98,184.47 1422.21,186.47 1424.43,188.48 1426.66,190.50 1428.88,192.53 1431.10,194.56 1433.33,196.60 1435.55,198.65 1437.77,200.70 1440.00,202.75 1442.22,204.81 1444.44,206.88 1446.67,208.95 1448.89,211.02 1451.11,213.10 1453.34,215.18 1455.56,217.26 1457.79,219.34 1460.01,221.42 1462.23,223.51 1464.46,225.59 1466.68,227.68 1468.90,229.77 1471.13,231.85 1473.35,233.94 1475.57,236.02 1477.80,238.10 1480.02,240.18 1482.25,242.26 1484.47,244.34 1486.69,246.41 1488.92,248.48 1491.14,250.55 1493.36,252.61 1495.59,254.66 1497.81,256.72 1500.03,258.76 1502.26,260.81 1504.48,262.84 1506.71,264.87 1508.93,266.90 1511.15,268.92 1513.38,270.93 1515.60,272.93 1517.82,274.93 1520.05,276.92 1522.27,278.90 1524.49,280.87 1526.72,282.83 1528.94,284.79 1531.17,286.74 1533.39,288.67 1535.61,290.60 1537.84,292.52 1540.06,294.43 1542.28,296.32 1544.51,298.21 1546.73,300.09 1548.95,301.95 1551.18,303.81 1553.40,305.65 1555.62,307.49 1557.85,309.31 1560.07,311.12 1562.30,312.91 1564.52,314.70 1566.74,316.47 1568.97,318.23 1571.19,319.98 1573.41,321.71 1575.64,323.44 1577.86,325.15"/>
<polyline points="913.00,322.08 915.22,320.67 917.45,319.26 919.67,317.85 921.89,316.43 924.12,315.02 926.34,313.60 928.57,312.18 930.79,310.76 933.01,309.34 935.24,307.93 937.46,306.51 939.68,305.09 941.91,303.67 944.13,302.26 946.35,300.84 948.58,299.43 950.80,298.02 953.03,296.61 955.25,295.21 957.47,293.81 959.70,292.41 961.92,291.02 964.14,289.63 966.37,288.24 968.59,286.87 970.81,285.49 973.04,284.12 975.26,282.76 977.48,281.40 979.71,280.05 981.93,278.71 984.16,277.38 986.38,276.05 988.60,274.73 990.83,273.42 993.05,272.12 995.27,270.82 997.50,269.54 999.72,268.27 1001.94,267.01 1004.17,265.75 1006.39,264.51 1008.62,263.28 1010.84,262.06 1013.06,260.85 1015.29,259.66 1017.51,258.48 1019.73,257.31 1021.96,256.15 1024.18,255.01 1026.40,253.88 1028.63,252.77 1030.85,251.67 1033.08,250.59 1035.30,249.52 1037.52,248.47 1039.75,247.43 1041.97,246.41 1044.19,245.40 1046.42,244.42 1048.64,243.44 1050.86,242.49 1053.09,241.56 1055.31,240.64 1057.54,239.74 1059.76,238.86 1061.98,238.00 1064.21,237.16 1066.43,236.33 1068.65,235.53 1070.88,234.74 1073.10,233.98 1075.32,233.24 1077.55,232.52 1079.77,231.81 1081.99,231.13 1084.22,230.47 1086.44,229.84 1088.67,229.22 1090.89,228.62 1093.11,228.05 1095.34,227.50 1097.56,226.97 1099.78,226.47 1102.01,225.99 1104.23,225.53 1106.45,225.09 1108.68,224.68 1110.90,224.29 1113.13,223.92 1115.35,223.58 1117.57,223.26 1119.80,222.96 1122.02,222.69 1124.24,222.44 1126.47,222.22 1128.69,222.02 1130.91,221.85 1133.14,221.69 1135.36,221.57 1137.59,221.47 1139.81,221.39 1142.03,221.33 1144.26,221.30 1146.48,221.30 1148.70,221.32 1150.93,221.36 1153.15,221.43 1155.37,221.53 1157.60,221.64 1159.82,221.78 1162.04,221.95 1164.27,222.14 1166.49,222.35 1168.72,222.59 1170.94,222.85 1173.16,223.14 1175.39,223.45 1177.61,223.78 1179.83,224.14 1182.06,224.52 1184.28,224.93 1186.50,225.35 1188.73,225.81 1190.95,226.28 1193.18,226.78 1195.40,227.29 1197.62,227.84 1199.85,228.40 1202.07,228.99 1204.29,229.59 1206.52,230.22 1208.74,230.87 1210.96,231.55 1213.19,232.24 1215.41,232.96 1217.64,233.69 1219.86,234.45 1222.08,235.22 1224.31,236.02 1226.53,236.83 1228.75,237.67 1230.98,238.52 1233.20,239.40 1235.42,240.29 1237.65,241.20 1239.87,242.13 1242.10,243.07 1244.32,244.04 1246.54,245.02 1248.77,246.02 1250.99,247.03 1253.21,248.06 1255.44,249.11 1257.66,250.17 1259.88,251.25 1262.11,252.34 1264.33,253.45 1266.55,254.57 1268.78,255.71 1271.00,256.86 1273.23,258.02 1275.45,259.20 1277.67,260.39 1279.90,261.59 1282.12,262.81 1284.34,264.03 1286.57,265.27 1288.79,266.52 1291.01,267.78 1293.24,269.05 1295.46,270.33 1297.69,271.62 1299.91,272.91 1302.13,274.22 1304.36,275.54 1306.58,276.86 1308.80,278.19 1311.03,279.53 1313.25,280.88 1315.47,282.23 1317.70,283.59 1319.92,284.96 1322.15,286.33 1324.37,287.71 1326.59,289.09 1328.82,290.48 1331.04,291.87 1333.26,293.27 1335.49,294.67 1337.71,296.07 1339.93,297.48 1342.16,298.88 1344.38,300.30 1346.61,301.71 1348.83,303.12 1351.05,304.54 1353.28,305.96 1355.50,307.38 1357.72,308.79 1359.95,310.21 1362.17,311.63 1364.39,313.05 1366.62,314.47 1368.84,315.88 1371.06,317.30 1373.29,318.71 1375.51,320.12 1377.74,321.53 1379.96,322.94 1382.18,324.34 1384.41,325.74 1386.63,327.14 1388.85,328.53 1391.08,329.92 1393.30,331.31 1395.52,332.69 1397.75,334.07 1399.97,335.44 1402.20,336.81 1404.42,338.17 1406.64,339.53 1408.87,340.88 1411.09,342.22 1413.31,343.56 1415.54,344.89 1417.76,346.21 1419.98,347.53 1422.21,348.84 1424.43,350.15 1426.66,351.44 1428.88,352.73 1431.10,354.01 1433.33,355.29 1435.55,356.55 1437.77,357.81 1440.00,359.06 1442.22,360.30 1444.44,361.53 1446.67,362.75 1448.89,363.97 1451.11,365.17 1453.34,366.37 1455.56,367.55 1457.79,368.73 1460.01,369.89 1462.23,371.05 1464.46,372.20 1466.68,373.34 1468.90,374.46 1471.13,375.58 1473.35,376.69 1475.57,377.79 1477.80,378.87 1480.02,379.95 1482.25,381.02 1484.47,382.07 1486.69,383.12 1488.92,384.15 1491.14,385.17 1493.36,386.19 1495.59,387.19 1497.81,388.18 1500.03,389.16 1502.26,390.13 1504.48,391.09 1506.71,392.04 1508.93,392.98 1511.15,393.90 1513.38,394.82 1515.60,395.72 1517.82,396.62 1520.05,397.50 1522.27,398.37 1524.49,399.23 1526.72,400.08 1528.94,400.92 1531.17,401.75 1533.39,402.57 1535.61,403.37 1537.84,404.17 1540.06,404.96 1542.28,405.73 1544.51,406.49 1546.73,407.25 1548.95,407.99 1551.18,408.72 1553.40,409.45 1555.62,410.16 1557.85,410.86 1560.07,411.55 1562.30,412.23 1564.52,412.90 1566.74,413.56 1568.97,414.21 1571.19,414.85 1573.41,415.48 1575.64,416.10 1577.86,416.71"/>
<polyline points="913.00,365.77 915.22,365.55 917.45,365.35 919.67,365.16 921.89,364.98 924.12,364.82 926.34,364.68 928.57,364.55 930.79,364.43 933.01,364.34 935.24,364.25 937.46,364.18 939.68,364.13 941.91,364.09 944.13,364.07 946.35,364.06 948.58,364.07 950.80,364.10 953.03,364.14 955.25,364.19 957.47,364.26 959.70,364.35 961.92,364.45 964.14,364.56 966.37,364.70 968.59,364.84 970.81,365.00 973.04,365.18 975.26,365.37 977.48,365.58 979.71,365.80 981.93,366.03 984.16,366.28 986.38,366.54 988.60,366.82 990.83,367.11 993.05,367.42 995.27,367.74 997.50,368.07 999.72,368.41 1001.94,368.77 1004.17,369.14 1006.39,369.53 1008.62,369.92 1010.84,370.33 1013.06,370.75 1015.29,371.18 1017.51,371.62 1019.73,372.08 1021.96,372.54 1024.18,373.02 1026.40,373.51 1028.63,374.00 1030.85,374.51 1033.08,375.03 1035.30,375.55 1037.52,376.09 1039.75,376.63 1041.97,377.18 1044.19,377.75 1046.42,378.31 1048.64,378.89 1050.86,379.48 1053.09,380.07 1055.31,380.66 1057.54,381.27 1059.76,381.88 1061.98,382.50 1064.21,383.12 1066.43,383.75 1068.65,384.38 1070.88,385.02 1073.10,385.66 1075.32,386.31 1077.55,386.96 1079.77,387.62 1081.99,388.28 1084.22,388.94 1086.44,389.60 1088.67,390.27 1090.89,390.94 1093.11,391.61 1095.34,392.28 1097.56,392.95 1099.78,393.63 1102.01,394.30 1104.23,394.98 1106.45,395.66 1108.68,396.33 1110.90,397.01 1113.13,397.69 1115.35,398.36 1117.57,399.03 1119.80,399.71 1122.02,400.38 1124.24,401.05 1126.47,401.72 1128.69,402.38 1130.91,403.05 1133.14,403.71 1135.36,404.37 1137.59,405.02 1139.81,405.67 1142.03,406.32 1144.26,406.97 1146.48,407.61 1148.70,408.24 1150.93,408.88 1153.15,409.51 1155.37,410.13 1157.60,410.75 1159.82,411.37 1162.04,411.98 1164.27,412.58 1166.49,413.18 1168.72,413.78 1170.94,414.36 1173.16,414.95 1175.39,415.53 1177.61,416.10 1179.83,416.66 1182.06,417.22 1184.28,417.78 1186.50,418.33 1188.73,418.87 1190.95,419.40 1193.18,419.93 1195.40,420.46 1197.62,420.97 1199.85,421.48 1202.07,421.98 1204.29,422.48 1206.52,422.97 1208.74,423.45 1210.96,423.93 1213.19,424.40 1215.41,424.86 1217.64,425.31 1219.86,425.76 1222.08,426.20 1224.31,426.64 1226.53,427.07 1228.75,427.49 1230.98,427.90 1233.20,428.31 1235.42,428.71 1237.65,429.10 1239.87,429.49 1242.10,429.87 1244.32,430.24 1246.54,430.61 1248.77,430.97 1250.99,431.32 1253.21,431.67 1255.44,432.01 1257.66,432.34 1259.88,432.67 1262.11,432.99 1264.33,433.30 1266.55,433.61 1268.78,433.91 1271.00,434.20 1273.23,434.49 1275.45,434.78 1277.67,435.05 1279.90,435.32 1282.12,435.59 1284.34,435.85 1286.57,436.10 1288.79,436.35 1291.01,436.59 1293.24,436.83 1295.46,437.06 1297.69,437.28 1299.91,437.50 1302.13,437.72 1304.36,437.93 1306.58,438.13 1308.80,438.33 1311.03,438.52 1313.25,438.71 1315.47,438.90 1317.70,439.08 1319.92,439.25 1322.15,439.42 1324.37,439.59 1326.59,439.75 1328.82,439.91 1331.04,440.06 1333.26,440.21 1335.49,440.36 1337.71,440.50 1339.93,440.64 1342.16,440.77 1344.38,440.90 1346.61,441.03 1348.83,441.15 1351.05,441.27 1353.28,441.38 1355.50,441.49 1357.72,441.60 1359.95,441.71 1362.17,441.81 1364.39,441.91 1366.62,442.01 1368.84,442.10 1371.06,442.19 1373.29,442.28 1375.51,442.36 1377.74,442.45 1379.96,442.53 1382.18,442.60 1384.41,442.68 1386.63,442.75 1388.85,442.82 1391.08,442.89 1393.30,442.95 1395.52,443.02 1397.75,443.08 1399.97,443.14 1402.20,443.19 1404.42,443.25 1406.64,443.30 1408.87,443.35 1411.09,443.40 1413.31,443.45 1415.54,443.50 1417.76,443.54 1419.98,443.59 1422.21,443.63 1424.43,443.67 1426.66,443.71 1428.88,443.74 1431.10,443.78 1433.33,443.82 1435.55,443.85 1437.77,443.88 1440.00,443.91 1442.22,443.94 1444.44,443.97 1446.67,444.00 1448.89,444.02 1451.11,444.05 1453.34,444.07 1455.56,444.10 1457.79,444.12 1460.01,444.14 1462.23,444.16 1464.46,444.18 1466.68,444.20 1468.90,444.22 1471.13,444.24 1473.35,444.26 1475.57,444.27 1477.80,444.29 1480.02,444.30 1482.25,444.32 1484.47,444.33 1486.69,444.34 1488.92,444.36 1491.14,444.37 1493.36,444.38 1495.59,444.39 1497.81,444.40 1500.03,444.41 1502.26,444.42 1504.48,444.43 1506.71,444.44 1508.93,444.45 1511.15,444.46 1513.38,444.47 1515.60,444.47 1517.82,444.48 1520.05,444.49 1522.27,444.49 1524.49,444.50 1526.72,444.51 1528.94,444.51 1531.17,444.52 1533.39,444.52 1535.61,444.53 1537.84,444.53 1540.06,444.54 1542.28,444.54 1544.51,444.55 1546.73,444.55 1548.95,444.55 1551.18,444.56 1553.40,444.56 1555.62,444.56 1557.85,444.57 1560.07,444.57 1562.30,444.57 1564.52,444.58 1566.74,444.58 1568.97,444.58 1571.19,444.58 1573.41,444.59 1575.64,444.59 1577.86,444.59"/>
</g></mask>
<path d="M1034.33 69.90V445.60M1155.65 69.90V445.60M1276.97 69.90V445.60M1398.30 69.90V445.60M1519.62 69.90V445.60M912.95 370.22H1573.00M912.95 295.14H1573.00M912.95 220.06H1573.00M912.95 144.98H1573.00" stroke="#fff" stroke-opacity="0.72" stroke-width="1.7" fill="none" mask="url(#mkb)" clip-path="url(#clipb)"/>
<rect x="1095" y="356" width="119" height="37" fill="#fff" fill-opacity="0.72"/>
<rect x="1308" y="345.5" width="251" height="37.0" fill="#fff" fill-opacity="0.72"/>
<rect x="1308" y="391" width="220" height="34" fill="#fff" fill-opacity="0.72"/>
<path d="M913.00 445.60v-5.2M913.00 69.90v5.2M937.26 445.60v-2.9M937.26 69.90v2.9M961.53 445.60v-2.9M961.53 69.90v2.9M985.79 445.60v-2.9M985.79 69.90v2.9M1010.06 445.60v-2.9M1010.06 69.90v2.9M1034.33 445.60v-5.2M1034.33 69.90v5.2M1058.59 445.60v-2.9M1058.59 69.90v2.9M1082.86 445.60v-2.9M1082.86 69.90v2.9M1107.12 445.60v-2.9M1107.12 69.90v2.9M1131.38 445.60v-2.9M1131.38 69.90v2.9M1155.65 445.60v-5.2M1155.65 69.90v5.2M1179.91 445.60v-2.9M1179.91 69.90v2.9M1204.18 445.60v-2.9M1204.18 69.90v2.9M1228.44 445.60v-2.9M1228.44 69.90v2.9M1252.71 445.60v-2.9M1252.71 69.90v2.9M1276.97 445.60v-5.2M1276.97 69.90v5.2M1301.24 445.60v-2.9M1301.24 69.90v2.9M1325.51 445.60v-2.9M1325.51 69.90v2.9M1349.77 445.60v-2.9M1349.77 69.90v2.9M1374.04 445.60v-2.9M1374.04 69.90v2.9M1398.30 445.60v-5.2M1398.30 69.90v5.2M1422.57 445.60v-2.9M1422.57 69.90v2.9M1446.83 445.60v-2.9M1446.83 69.90v2.9M1471.10 445.60v-2.9M1471.10 69.90v2.9M1495.36 445.60v-2.9M1495.36 69.90v2.9M1519.62 445.60v-5.2M1519.62 69.90v5.2M1543.89 445.60v-2.9M1543.89 69.90v2.9M1568.15 445.60v-2.9M1568.15 69.90v2.9M912.95 445.30h5.2M1573.00 445.30h-5.2M912.95 426.53h2.9M1573.00 426.53h-2.9M912.95 407.76h2.9M1573.00 407.76h-2.9M912.95 388.99h2.9M1573.00 388.99h-2.9M912.95 370.22h5.2M1573.00 370.22h-5.2M912.95 351.45h2.9M1573.00 351.45h-2.9M912.95 332.68h2.9M1573.00 332.68h-2.9M912.95 313.91h2.9M1573.00 313.91h-2.9M912.95 295.14h5.2M1573.00 295.14h-5.2M912.95 276.37h2.9M1573.00 276.37h-2.9M912.95 257.60h2.9M1573.00 257.60h-2.9M912.95 238.83h2.9M1573.00 238.83h-2.9M912.95 220.06h5.2M1573.00 220.06h-5.2M912.95 201.29h2.9M1573.00 201.29h-2.9M912.95 182.52h2.9M1573.00 182.52h-2.9M912.95 163.75h2.9M1573.00 163.75h-2.9M912.95 144.98h5.2M1573.00 144.98h-5.2M912.95 126.21h2.9M1573.00 126.21h-2.9M912.95 107.44h2.9M1573.00 107.44h-2.9M912.95 88.67h2.9M1573.00 88.67h-2.9M912.95 69.90h5.2M1573.00 69.90h-5.2" stroke="#1a1a1a" stroke-width="1.8" fill="none"/>
<rect x="912.95" y="69.90" width="660.05" height="375.70" fill="none" stroke="#1a1a1a" stroke-width="2.1"/>
<line x1="1243.30" y1="68.90" x2="1243.30" y2="446.20" stroke="#d9582c" stroke-width="3.4" stroke-dasharray="12.6 12.5" stroke-dashoffset="6.5"/>
<text x="890.12" y="448.65" font-family="'Liberation Sans',sans-serif" font-size="25.4" style="" fill="#1a1a1a" >0</text>
<text x="869.22" y="373.57" font-family="'Liberation Sans',sans-serif" font-size="25.4" style="" fill="#1a1a1a" >0.2</text>
<text x="868.68" y="298.49" font-family="'Liberation Sans',sans-serif" font-size="25.4" style="" fill="#1a1a1a" >0.4</text>
<text x="869.06" y="223.41" font-family="'Liberation Sans',sans-serif" font-size="25.4" style="" fill="#1a1a1a" >0.6</text>
<text x="869.04" y="148.33" font-family="'Liberation Sans',sans-serif" font-size="25.4" style="" fill="#1a1a1a" >0.8</text>
<text x="868.93" y="73.25" font-family="'Liberation Sans',sans-serif" font-size="25.4" style="" fill="#1a1a1a" >1.0</text>
<text x="906.54" y="469.80" font-family="'Liberation Sans',sans-serif" font-size="25.4" style="" fill="#1a1a1a" >0</text>
<text x="1027.89" y="469.80" font-family="'Liberation Sans',sans-serif" font-size="25.4" style="" fill="#1a1a1a" >5</text>
<text x="1141.65" y="469.80" font-family="'Liberation Sans',sans-serif" font-size="25.4" style="" fill="#1a1a1a" >10</text>
<text x="1263.01" y="469.80" font-family="'Liberation Sans',sans-serif" font-size="25.4" style="" fill="#1a1a1a" >15</text>
<text x="1384.63" y="469.80" font-family="'Liberation Sans',sans-serif" font-size="25.4" style="" fill="#1a1a1a" >20</text>
<text x="1505.99" y="469.80" font-family="'Liberation Sans',sans-serif" font-size="25.4" style="" fill="#1a1a1a" >25</text>
</g>
<g id="panel-c">
<path d="M224.23 619.30V995.70M345.45 619.30V995.70M466.68 619.30V995.70M587.90 619.30V995.70M709.12 619.30V995.70M102.65 920.24H762.70M102.65 844.98H762.70M102.65 769.72H762.70M102.65 694.46H762.70" stroke="#cbcbcb" stroke-width="1.6" fill="none"/>
<g clip-path="url(#clipc)" fill="none" stroke-width="4.6" stroke-linejoin="round" stroke-linecap="round">
<polyline points="103.00,619.20 105.22,619.20 107.44,619.21 109.67,619.21 111.89,619.22 114.11,619.23 116.33,619.25 118.55,619.27 120.77,619.29 123.00,619.31 125.22,619.34 127.44,619.37 129.66,619.40 131.88,619.43 134.10,619.47 136.33,619.51 138.55,619.55 140.77,619.60 142.99,619.65 145.21,619.70 147.44,619.75 149.66,619.81 151.88,619.87 154.10,619.93 156.32,620.00 158.54,620.06 160.77,620.13 162.99,620.21 165.21,620.28 167.43,620.36 169.65,620.44 171.88,620.53 174.10,620.61 176.32,620.70 178.54,620.80 180.76,620.89 182.98,620.99 185.21,621.09 187.43,621.19 189.65,621.30 191.87,621.41 194.09,621.52 196.31,621.63 198.54,621.75 200.76,621.87 202.98,621.99 205.20,622.12 207.42,622.24 209.65,622.37 211.87,622.51 214.09,622.64 216.31,622.78 218.53,622.92 220.75,623.06 222.98,623.21 225.20,623.36 227.42,623.51 229.64,623.67 231.86,623.82 234.09,623.98 236.31,624.15 238.53,624.31 240.75,624.48 242.97,624.65 245.19,624.82 247.42,625.00 249.64,625.18 251.86,625.36 254.08,625.54 256.30,625.73 258.52,625.92 260.75,626.11 262.97,626.30 265.19,626.50 267.41,626.70 269.63,626.90 271.86,627.10 274.08,627.31 276.30,627.52 278.52,627.73 280.74,627.95 282.96,628.17 285.19,628.39 287.41,628.61 289.63,628.83 291.85,629.06 294.07,629.29 296.30,629.52 298.52,629.76 300.74,630.00 302.96,630.24 305.18,630.48 307.40,630.73 309.63,630.97 311.85,631.22 314.07,631.48 316.29,631.73 318.51,631.99 320.73,632.25 322.96,632.51 325.18,632.78 327.40,633.05 329.62,633.32 331.84,633.59 334.07,633.87 336.29,634.14 338.51,634.42 340.73,634.71 342.95,634.99 345.17,635.28 347.40,635.57 349.62,635.86 351.84,636.16 354.06,636.45 356.28,636.75 358.50,637.05 360.73,637.36 362.95,637.66 365.17,637.97 367.39,638.28 369.61,638.60 371.84,638.91 374.06,639.23 376.28,639.55 378.50,639.88 380.72,640.20 382.94,640.53 385.17,640.86 387.39,641.19 389.61,641.53 391.83,641.86 394.05,642.20 396.28,642.54 398.50,642.89 400.72,643.23 402.94,643.58 405.16,643.93 407.38,644.28 409.61,644.64 411.83,645.00 414.05,645.35 416.27,645.72 418.49,646.08 420.71,646.45 422.94,646.81 425.16,647.18 427.38,647.56 429.60,647.93 431.82,648.31 434.05,648.69 436.27,649.07 438.49,649.45 440.71,649.83 442.93,650.22 445.15,650.61 447.38,651.00 449.60,651.40 451.82,651.79 454.04,652.19 456.26,652.59 458.49,652.99 460.71,653.40 462.93,653.80 465.15,654.21 467.37,654.62 469.59,655.03 471.82,655.44 474.04,655.86 476.26,656.28 478.48,656.70 480.70,657.12 482.92,657.54 485.15,657.97 487.37,658.40 489.59,658.83 491.81,659.26 494.03,659.69 496.26,660.13 498.48,660.57 500.70,661.00 502.92,661.45 505.14,661.89 507.36,662.33 509.59,662.78 511.81,663.23 514.03,663.68 516.25,664.13 518.47,664.58 520.70,665.04 522.92,665.50 525.14,665.96 527.36,666.42 529.58,666.88 531.80,667.35 534.03,667.81 536.25,668.28 538.47,668.75 540.69,669.22 542.91,669.70 545.13,670.17 547.36,670.65 549.58,671.13 551.80,671.61 554.02,672.09 556.24,672.57 558.47,673.06 560.69,673.54 562.91,674.03 565.13,674.52 567.35,675.01 569.57,675.51 571.80,676.00 574.02,676.50 576.24,677.00 578.46,677.49 580.68,678.00 582.91,678.50 585.13,679.00 587.35,679.51 589.57,680.01 591.79,680.52 594.01,681.03 596.24,681.55 598.46,682.06 600.68,682.57 602.90,683.09 605.12,683.61 607.34,684.13 609.57,684.65 611.79,685.17 614.01,685.69 616.23,686.21 618.45,686.74 620.68,687.27 622.90,687.80 625.12,688.33 627.34,688.86 629.56,689.39 631.78,689.92 634.01,690.46 636.23,691.00 638.45,691.53 640.67,692.07 642.89,692.61 645.11,693.15 647.34,693.70 649.56,694.24 651.78,694.79 654.00,695.33 656.22,695.88 658.45,696.43 660.67,696.98 662.89,697.53 665.11,698.08 667.33,698.64 669.55,699.19 671.78,699.75 674.00,700.31 676.22,700.86 678.44,701.42 680.66,701.98 682.89,702.55 685.11,703.11 687.33,703.67 689.55,704.24 691.77,704.80 693.99,705.37 696.22,705.94 698.44,706.51 700.66,707.08 702.88,707.65 705.10,708.22 707.32,708.79 709.55,709.36 711.77,709.94 713.99,710.52 716.21,711.09 718.43,711.67 720.66,712.25 722.88,712.83 725.10,713.41 727.32,713.99 729.54,714.57 731.76,715.15 733.99,715.74 736.21,716.32 738.43,716.91 740.65,717.49 742.87,718.08 745.10,718.67 747.32,719.26 749.54,719.84 751.76,720.43 753.98,721.03 756.20,721.62 758.43,722.21 760.65,722.80 762.87,723.40 765.09,723.99 767.31,724.59" stroke="#4a5db0"/>
<polyline points="103.00,619.20 105.22,619.21 107.44,619.23 109.67,619.27 111.89,619.33 114.11,619.41 116.33,619.50 118.55,619.60 120.77,619.73 123.00,619.87 125.22,620.02 127.44,620.20 129.66,620.39 131.88,620.59 134.10,620.81 136.33,621.05 138.55,621.31 140.77,621.58 142.99,621.86 145.21,622.17 147.44,622.49 149.66,622.82 151.88,623.17 154.10,623.54 156.32,623.92 158.54,624.32 160.77,624.74 162.99,625.17 165.21,625.61 167.43,626.08 169.65,626.55 171.88,627.05 174.10,627.55 176.32,628.08 178.54,628.62 180.76,629.17 182.98,629.74 185.21,630.33 187.43,630.93 189.65,631.54 191.87,632.17 194.09,632.82 196.31,633.48 198.54,634.15 200.76,634.84 202.98,635.54 205.20,636.26 207.42,636.99 209.65,637.74 211.87,638.50 214.09,639.27 216.31,640.06 218.53,640.86 220.75,641.68 222.98,642.51 225.20,643.35 227.42,644.21 229.64,645.08 231.86,645.96 234.09,646.85 236.31,647.76 238.53,648.68 240.75,649.62 242.97,650.56 245.19,651.52 247.42,652.49 249.64,653.48 251.86,654.47 254.08,655.48 256.30,656.50 258.52,657.53 260.75,658.58 262.97,659.63 265.19,660.70 267.41,661.78 269.63,662.86 271.86,663.96 274.08,665.07 276.30,666.20 278.52,667.33 280.74,668.47 282.96,669.62 285.19,670.78 287.41,671.96 289.63,673.14 291.85,674.33 294.07,675.53 296.30,676.75 298.52,677.97 300.74,679.20 302.96,680.44 305.18,681.68 307.40,682.94 309.63,684.21 311.85,685.48 314.07,686.76 316.29,688.05 318.51,689.35 320.73,690.66 322.96,691.97 325.18,693.29 327.40,694.62 329.62,695.96 331.84,697.30 334.07,698.65 336.29,700.01 338.51,701.37 340.73,702.74 342.95,704.12 345.17,705.50 347.40,706.89 349.62,708.29 351.84,709.69 354.06,711.09 356.28,712.51 358.50,713.92 360.73,715.35 362.95,716.77 365.17,718.21 367.39,719.64 369.61,721.09 371.84,722.53 374.06,723.98 376.28,725.44 378.50,726.90 380.72,728.36 382.94,729.82 385.17,731.29 387.39,732.77 389.61,734.24 391.83,735.72 394.05,737.21 396.28,738.69 398.50,740.18 400.72,741.67 402.94,743.16 405.16,744.66 407.38,746.15 409.61,747.65 411.83,749.15 414.05,750.66 416.27,752.16 418.49,753.67 420.71,755.17 422.94,756.68 425.16,758.19 427.38,759.70 429.60,761.21 431.82,762.72 434.05,764.23 436.27,765.74 438.49,767.25 440.71,768.76 442.93,770.27 445.15,771.79 447.38,773.30 449.60,774.81 451.82,776.32 454.04,777.82 456.26,779.33 458.49,780.84 460.71,782.34 462.93,783.85 465.15,785.35 467.37,786.85 469.59,788.35 471.82,789.85 474.04,791.35 476.26,792.84 478.48,794.33 480.70,795.82 482.92,797.31 485.15,798.80 487.37,800.28 489.59,801.76 491.81,803.23 494.03,804.71 496.26,806.18 498.48,807.65 500.70,809.11 502.92,810.57 505.14,812.03 507.36,813.49 509.59,814.94 511.81,816.38 514.03,817.83 516.25,819.27 518.47,820.70 520.70,822.13 522.92,823.56 525.14,824.98 527.36,826.40 529.58,827.82 531.80,829.23 534.03,830.63 536.25,832.03 538.47,833.43 540.69,834.82 542.91,836.20 545.13,837.58 547.36,838.96 549.58,840.33 551.80,841.70 554.02,843.06 556.24,844.41 558.47,845.76 560.69,847.10 562.91,848.44 565.13,849.77 567.35,851.10 569.57,852.42 571.80,853.73 574.02,855.04 576.24,856.35 578.46,857.64 580.68,858.93 582.91,860.22 585.13,861.50 587.35,862.77 589.57,864.03 591.79,865.29 594.01,866.55 596.24,867.79 598.46,869.03 600.68,870.27 602.90,871.49 605.12,872.71 607.34,873.93 609.57,875.13 611.79,876.33 614.01,877.53 616.23,878.71 618.45,879.89 620.68,881.07 622.90,882.23 625.12,883.39 627.34,884.54 629.56,885.69 631.78,886.83 634.01,887.96 636.23,889.08 638.45,890.20 640.67,891.31 642.89,892.41 645.11,893.50 647.34,894.59 649.56,895.67 651.78,896.74 654.00,897.81 656.22,898.87 658.45,899.92 660.67,900.96 662.89,902.00 665.11,903.03 667.33,904.05 669.55,905.07 671.78,906.08 674.00,907.08 676.22,908.07 678.44,909.05 680.66,910.03 682.89,911.00 685.11,911.97 687.33,912.92 689.55,913.87 691.77,914.81 693.99,915.75 696.22,916.67 698.44,917.59 700.66,918.51 702.88,919.41 705.10,920.31 707.32,921.20 709.55,922.08 711.77,922.96 713.99,923.82 716.21,924.68 718.43,925.54 720.66,926.38 722.88,927.22 725.10,928.05 727.32,928.88 729.54,929.70 731.76,930.51 733.99,931.31 736.21,932.11 738.43,932.89 740.65,933.68 742.87,934.45 745.10,935.22 747.32,935.98 749.54,936.73 751.76,937.48 753.98,938.22 756.20,938.95 758.43,939.68 760.65,940.40 762.87,941.11 765.09,941.81 767.31,942.51" stroke="#74b44e"/>
<polyline points="103.00,619.20 105.22,619.21 107.44,619.25 109.67,619.31 111.89,619.39 114.11,619.50 116.33,619.63 118.55,619.79 120.77,619.97 123.00,620.18 125.22,620.40 127.44,620.66 129.66,620.93 131.88,621.23 134.10,621.56 136.33,621.90 138.55,622.27 140.77,622.67 142.99,623.09 145.21,623.53 147.44,623.99 149.66,624.48 151.88,624.99 154.10,625.52 156.32,626.08 158.54,626.66 160.77,627.26 162.99,627.89 165.21,628.53 167.43,629.20 169.65,629.90 171.88,630.61 174.10,631.34 176.32,632.10 178.54,632.88 180.76,633.68 182.98,634.50 185.21,635.35 187.43,636.21 189.65,637.10 191.87,638.00 194.09,638.93 196.31,639.88 198.54,640.84 200.76,641.83 202.98,642.84 205.20,643.86 207.42,644.91 209.65,645.98 211.87,647.06 214.09,648.16 216.31,649.29 218.53,650.43 220.75,651.59 222.98,652.76 225.20,653.96 227.42,655.17 229.64,656.40 231.86,657.65 234.09,658.91 236.31,660.19 238.53,661.49 240.75,662.80 242.97,664.13 245.19,665.48 247.42,666.84 249.64,668.22 251.86,669.61 254.08,671.01 256.30,672.43 258.52,673.87 260.75,675.32 262.97,676.78 265.19,678.26 267.41,679.75 269.63,681.25 271.86,682.77 274.08,684.30 276.30,685.84 278.52,687.40 280.74,688.96 282.96,690.54 285.19,692.13 287.41,693.73 289.63,695.34 291.85,696.96 294.07,698.59 296.30,700.23 298.52,701.88 300.74,703.54 302.96,705.21 305.18,706.89 307.40,708.58 309.63,710.27 311.85,711.98 314.07,713.69 316.29,715.41 318.51,717.13 320.73,718.87 322.96,720.61 325.18,722.35 327.40,724.11 329.62,725.87 331.84,727.63 334.07,729.40 336.29,731.18 338.51,732.96 340.73,734.74 342.95,736.53 345.17,738.33 347.40,740.13 349.62,741.93 351.84,743.73 354.06,745.54 356.28,747.35 358.50,749.17 360.73,750.98 362.95,752.80 365.17,754.62 367.39,756.44 369.61,758.27 371.84,760.09 374.06,761.92 376.28,763.74 378.50,765.57 380.72,767.40 382.94,769.22 385.17,771.05 387.39,772.88 389.61,774.70 391.83,776.53 394.05,778.35 396.28,780.17 398.50,781.99 400.72,783.81 402.94,785.63 405.16,787.44 407.38,789.25 409.61,791.06 411.83,792.87 414.05,794.67 416.27,796.47 418.49,798.27 420.71,800.06 422.94,801.85 425.16,803.64 427.38,805.42 429.60,807.19 431.82,808.96 434.05,810.73 436.27,812.49 438.49,814.25 440.71,816.00 442.93,817.74 445.15,819.48 447.38,821.22 449.60,822.95 451.82,824.67 454.04,826.38 456.26,828.09 458.49,829.79 460.71,831.49 462.93,833.18 465.15,834.86 467.37,836.53 469.59,838.20 471.82,839.86 474.04,841.51 476.26,843.16 478.48,844.79 480.70,846.42 482.92,848.04 485.15,849.65 487.37,851.25 489.59,852.85 491.81,854.43 494.03,856.01 496.26,857.58 498.48,859.14 500.70,860.69 502.92,862.23 505.14,863.77 507.36,865.29 509.59,866.80 511.81,868.31 514.03,869.80 516.25,871.29 518.47,872.76 520.70,874.23 522.92,875.68 525.14,877.13 527.36,878.57 529.58,879.99 531.80,881.41 534.03,882.81 536.25,884.21 538.47,885.60 540.69,886.97 542.91,888.33 545.13,889.69 547.36,891.03 549.58,892.37 551.80,893.69 554.02,895.00 556.24,896.30 558.47,897.60 560.69,898.88 562.91,900.15 565.13,901.41 567.35,902.65 569.57,903.89 571.80,905.12 574.02,906.34 576.24,907.54 578.46,908.74 580.68,909.92 582.91,911.10 585.13,912.26 587.35,913.41 589.57,914.55 591.79,915.68 594.01,916.80 596.24,917.91 598.46,919.01 600.68,920.10 602.90,921.17 605.12,922.24 607.34,923.30 609.57,924.34 611.79,925.37 614.01,926.40 616.23,927.41 618.45,928.41 620.68,929.41 622.90,930.39 625.12,931.36 627.34,932.32 629.56,933.27 631.78,934.21 634.01,935.14 636.23,936.06 638.45,936.97 640.67,937.87 642.89,938.75 645.11,939.63 647.34,940.50 649.56,941.36 651.78,942.21 654.00,943.05 656.22,943.88 658.45,944.69 660.67,945.50 662.89,946.30 665.11,947.09 667.33,947.87 669.55,948.64 671.78,949.40 674.00,950.15 676.22,950.90 678.44,951.63 680.66,952.35 682.89,953.07 685.11,953.77 687.33,954.47 689.55,955.15 691.77,955.83 693.99,956.50 696.22,957.16 698.44,957.81 700.66,958.46 702.88,959.09 705.10,959.72 707.32,960.33 709.55,960.94 711.77,961.54 713.99,962.13 716.21,962.72 718.43,963.29 720.66,963.86 722.88,964.42 725.10,964.97 727.32,965.52 729.54,966.05 731.76,966.58 733.99,967.10 736.21,967.61 738.43,968.12 740.65,968.62 742.87,969.11 745.10,969.59 747.32,970.07 749.54,970.54 751.76,971.00 753.98,971.45 756.20,971.90 758.43,972.34 760.65,972.78 762.87,973.21 765.09,973.63 767.31,974.04" stroke="#cf2229"/>
</g>
<mask id="mkc" maskUnits="userSpaceOnUse" x="0" y="0" width="1575" height="1076"><g fill="none" stroke="#fff" stroke-width="4.6" stroke-linejoin="round">
<polyline points="103.00,619.20 105.22,619.20 107.44,619.21 109.67,619.21 111.89,619.22 114.11,619.23 116.33,619.25 118.55,619.27 120.77,619.29 123.00,619.31 125.22,619.34 127.44,619.37 129.66,619.40 131.88,619.43 134.10,619.47 136.33,619.51 138.55,619.55 140.77,619.60 142.99,619.65 145.21,619.70 147.44,619.75 149.66,619.81 151.88,619.87 154.10,619.93 156.32,620.00 158.54,620.06 160.77,620.13 162.99,620.21 165.21,620.28 167.43,620.36 169.65,620.44 171.88,620.53 174.10,620.61 176.32,620.70 178.54,620.80 180.76,620.89 182.98,620.99 185.21,621.09 187.43,621.19 189.65,621.30 191.87,621.41 194.09,621.52 196.31,621.63 198.54,621.75 200.76,621.87 202.98,621.99 205.20,622.12 207.42,622.24 209.65,622.37 211.87,622.51 214.09,622.64 216.31,622.78 218.53,622.92 220.75,623.06 222.98,623.21 225.20,623.36 227.42,623.51 229.64,623.67 231.86,623.82 234.09,623.98 236.31,624.15 238.53,624.31 240.75,624.48 242.97,624.65 245.19,624.82 247.42,625.00 249.64,625.18 251.86,625.36 254.08,625.54 256.30,625.73 258.52,625.92 260.75,626.11 262.97,626.30 265.19,626.50 267.41,626.70 269.63,626.90 271.86,627.10 274.08,627.31 276.30,627.52 278.52,627.73 280.74,627.95 282.96,628.17 285.19,628.39 287.41,628.61 289.63,628.83 291.85,629.06 294.07,629.29 296.30,629.52 298.52,629.76 300.74,630.00 302.96,630.24 305.18,630.48 307.40,630.73 309.63,630.97 311.85,631.22 314.07,631.48 316.29,631.73 318.51,631.99 320.73,632.25 322.96,632.51 325.18,632.78 327.40,633.05 329.62,633.32 331.84,633.59 334.07,633.87 336.29,634.14 338.51,634.42 340.73,634.71 342.95,634.99 345.17,635.28 347.40,635.57 349.62,635.86 351.84,636.16 354.06,636.45 356.28,636.75 358.50,637.05 360.73,637.36 362.95,637.66 365.17,637.97 367.39,638.28 369.61,638.60 371.84,638.91 374.06,639.23 376.28,639.55 378.50,639.88 380.72,640.20 382.94,640.53 385.17,640.86 387.39,641.19 389.61,641.53 391.83,641.86 394.05,642.20 396.28,642.54 398.50,642.89 400.72,643.23 402.94,643.58 405.16,643.93 407.38,644.28 409.61,644.64 411.83,645.00 414.05,645.35 416.27,645.72 418.49,646.08 420.71,646.45 422.94,646.81 425.16,647.18 427.38,647.56 429.60,647.93 431.82,648.31 434.05,648.69 436.27,649.07 438.49,649.45 440.71,649.83 442.93,650.22 445.15,650.61 447.38,651.00 449.60,651.40 451.82,651.79 454.04,652.19 456.26,652.59 458.49,652.99 460.71,653.40 462.93,653.80 465.15,654.21 467.37,654.62 469.59,655.03 471.82,655.44 474.04,655.86 476.26,656.28 478.48,656.70 480.70,657.12 482.92,657.54 485.15,657.97 487.37,658.40 489.59,658.83 491.81,659.26 494.03,659.69 496.26,660.13 498.48,660.57 500.70,661.00 502.92,661.45 505.14,661.89 507.36,662.33 509.59,662.78 511.81,663.23 514.03,663.68 516.25,664.13 518.47,664.58 520.70,665.04 522.92,665.50 525.14,665.96 527.36,666.42 529.58,666.88 531.80,667.35 534.03,667.81 536.25,668.28 538.47,668.75 540.69,669.22 542.91,669.70 545.13,670.17 547.36,670.65 549.58,671.13 551.80,671.61 554.02,672.09 556.24,672.57 558.47,673.06 560.69,673.54 562.91,674.03 565.13,674.52 567.35,675.01 569.57,675.51 571.80,676.00 574.02,676.50 576.24,677.00 578.46,677.49 580.68,678.00 582.91,678.50 585.13,679.00 587.35,679.51 589.57,680.01 591.79,680.52 594.01,681.03 596.24,681.55 598.46,682.06 600.68,682.57 602.90,683.09 605.12,683.61 607.34,684.13 609.57,684.65 611.79,685.17 614.01,685.69 616.23,686.21 618.45,686.74 620.68,687.27 622.90,687.80 625.12,688.33 627.34,688.86 629.56,689.39 631.78,689.92 634.01,690.46 636.23,691.00 638.45,691.53 640.67,692.07 642.89,692.61 645.11,693.15 647.34,693.70 649.56,694.24 651.78,694.79 654.00,695.33 656.22,695.88 658.45,696.43 660.67,696.98 662.89,697.53 665.11,698.08 667.33,698.64 669.55,699.19 671.78,699.75 674.00,700.31 676.22,700.86 678.44,701.42 680.66,701.98 682.89,702.55 685.11,703.11 687.33,703.67 689.55,704.24 691.77,704.80 693.99,705.37 696.22,705.94 698.44,706.51 700.66,707.08 702.88,707.65 705.10,708.22 707.32,708.79 709.55,709.36 711.77,709.94 713.99,710.52 716.21,711.09 718.43,711.67 720.66,712.25 722.88,712.83 725.10,713.41 727.32,713.99 729.54,714.57 731.76,715.15 733.99,715.74 736.21,716.32 738.43,716.91 740.65,717.49 742.87,718.08 745.10,718.67 747.32,719.26 749.54,719.84 751.76,720.43 753.98,721.03 756.20,721.62 758.43,722.21 760.65,722.80 762.87,723.40 765.09,723.99 767.31,724.59"/>
<polyline points="103.00,619.20 105.22,619.21 107.44,619.23 109.67,619.27 111.89,619.33 114.11,619.41 116.33,619.50 118.55,619.60 120.77,619.73 123.00,619.87 125.22,620.02 127.44,620.20 129.66,620.39 131.88,620.59 134.10,620.81 136.33,621.05 138.55,621.31 140.77,621.58 142.99,621.86 145.21,622.17 147.44,622.49 149.66,622.82 151.88,623.17 154.10,623.54 156.32,623.92 158.54,624.32 160.77,624.74 162.99,625.17 165.21,625.61 167.43,626.08 169.65,626.55 171.88,627.05 174.10,627.55 176.32,628.08 178.54,628.62 180.76,629.17 182.98,629.74 185.21,630.33 187.43,630.93 189.65,631.54 191.87,632.17 194.09,632.82 196.31,633.48 198.54,634.15 200.76,634.84 202.98,635.54 205.20,636.26 207.42,636.99 209.65,637.74 211.87,638.50 214.09,639.27 216.31,640.06 218.53,640.86 220.75,641.68 222.98,642.51 225.20,643.35 227.42,644.21 229.64,645.08 231.86,645.96 234.09,646.85 236.31,647.76 238.53,648.68 240.75,649.62 242.97,650.56 245.19,651.52 247.42,652.49 249.64,653.48 251.86,654.47 254.08,655.48 256.30,656.50 258.52,657.53 260.75,658.58 262.97,659.63 265.19,660.70 267.41,661.78 269.63,662.86 271.86,663.96 274.08,665.07 276.30,666.20 278.52,667.33 280.74,668.47 282.96,669.62 285.19,670.78 287.41,671.96 289.63,673.14 291.85,674.33 294.07,675.53 296.30,676.75 298.52,677.97 300.74,679.20 302.96,680.44 305.18,681.68 307.40,682.94 309.63,684.21 311.85,685.48 314.07,686.76 316.29,688.05 318.51,689.35 320.73,690.66 322.96,691.97 325.18,693.29 327.40,694.62 329.62,695.96 331.84,697.30 334.07,698.65 336.29,700.01 338.51,701.37 340.73,702.74 342.95,704.12 345.17,705.50 347.40,706.89 349.62,708.29 351.84,709.69 354.06,711.09 356.28,712.51 358.50,713.92 360.73,715.35 362.95,716.77 365.17,718.21 367.39,719.64 369.61,721.09 371.84,722.53 374.06,723.98 376.28,725.44 378.50,726.90 380.72,728.36 382.94,729.82 385.17,731.29 387.39,732.77 389.61,734.24 391.83,735.72 394.05,737.21 396.28,738.69 398.50,740.18 400.72,741.67 402.94,743.16 405.16,744.66 407.38,746.15 409.61,747.65 411.83,749.15 414.05,750.66 416.27,752.16 418.49,753.67 420.71,755.17 422.94,756.68 425.16,758.19 427.38,759.70 429.60,761.21 431.82,762.72 434.05,764.23 436.27,765.74 438.49,767.25 440.71,768.76 442.93,770.27 445.15,771.79 447.38,773.30 449.60,774.81 451.82,776.32 454.04,777.82 456.26,779.33 458.49,780.84 460.71,782.34 462.93,783.85 465.15,785.35 467.37,786.85 469.59,788.35 471.82,789.85 474.04,791.35 476.26,792.84 478.48,794.33 480.70,795.82 482.92,797.31 485.15,798.80 487.37,800.28 489.59,801.76 491.81,803.23 494.03,804.71 496.26,806.18 498.48,807.65 500.70,809.11 502.92,810.57 505.14,812.03 507.36,813.49 509.59,814.94 511.81,816.38 514.03,817.83 516.25,819.27 518.47,820.70 520.70,822.13 522.92,823.56 525.14,824.98 527.36,826.40 529.58,827.82 531.80,829.23 534.03,830.63 536.25,832.03 538.47,833.43 540.69,834.82 542.91,836.20 545.13,837.58 547.36,838.96 549.58,840.33 551.80,841.70 554.02,843.06 556.24,844.41 558.47,845.76 560.69,847.10 562.91,848.44 565.13,849.77 567.35,851.10 569.57,852.42 571.80,853.73 574.02,855.04 576.24,856.35 578.46,857.64 580.68,858.93 582.91,860.22 585.13,861.50 587.35,862.77 589.57,864.03 591.79,865.29 594.01,866.55 596.24,867.79 598.46,869.03 600.68,870.27 602.90,871.49 605.12,872.71 607.34,873.93 609.57,875.13 611.79,876.33 614.01,877.53 616.23,878.71 618.45,879.89 620.68,881.07 622.90,882.23 625.12,883.39 627.34,884.54 629.56,885.69 631.78,886.83 634.01,887.96 636.23,889.08 638.45,890.20 640.67,891.31 642.89,892.41 645.11,893.50 647.34,894.59 649.56,895.67 651.78,896.74 654.00,897.81 656.22,898.87 658.45,899.92 660.67,900.96 662.89,902.00 665.11,903.03 667.33,904.05 669.55,905.07 671.78,906.08 674.00,907.08 676.22,908.07 678.44,909.05 680.66,910.03 682.89,911.00 685.11,911.97 687.33,912.92 689.55,913.87 691.77,914.81 693.99,915.75 696.22,916.67 698.44,917.59 700.66,918.51 702.88,919.41 705.10,920.31 707.32,921.20 709.55,922.08 711.77,922.96 713.99,923.82 716.21,924.68 718.43,925.54 720.66,926.38 722.88,927.22 725.10,928.05 727.32,928.88 729.54,929.70 731.76,930.51 733.99,931.31 736.21,932.11 738.43,932.89 740.65,933.68 742.87,934.45 745.10,935.22 747.32,935.98 749.54,936.73 751.76,937.48 753.98,938.22 756.20,938.95 758.43,939.68 760.65,940.40 762.87,941.11 765.09,941.81 767.31,942.51"/>
<polyline points="103.00,619.20 105.22,619.21 107.44,619.25 109.67,619.31 111.89,619.39 114.11,619.50 116.33,619.63 118.55,619.79 120.77,619.97 123.00,620.18 125.22,620.40 127.44,620.66 129.66,620.93 131.88,621.23 134.10,621.56 136.33,621.90 138.55,622.27 140.77,622.67 142.99,623.09 145.21,623.53 147.44,623.99 149.66,624.48 151.88,624.99 154.10,625.52 156.32,626.08 158.54,626.66 160.77,627.26 162.99,627.89 165.21,628.53 167.43,629.20 169.65,629.90 171.88,630.61 174.10,631.34 176.32,632.10 178.54,632.88 180.76,633.68 182.98,634.50 185.21,635.35 187.43,636.21 189.65,637.10 191.87,638.00 194.09,638.93 196.31,639.88 198.54,640.84 200.76,641.83 202.98,642.84 205.20,643.86 207.42,644.91 209.65,645.98 211.87,647.06 214.09,648.16 216.31,649.29 218.53,650.43 220.75,651.59 222.98,652.76 225.20,653.96 227.42,655.17 229.64,656.40 231.86,657.65 234.09,658.91 236.31,660.19 238.53,661.49 240.75,662.80 242.97,664.13 245.19,665.48 247.42,666.84 249.64,668.22 251.86,669.61 254.08,671.01 256.30,672.43 258.52,673.87 260.75,675.32 262.97,676.78 265.19,678.26 267.41,679.75 269.63,681.25 271.86,682.77 274.08,684.30 276.30,685.84 278.52,687.40 280.74,688.96 282.96,690.54 285.19,692.13 287.41,693.73 289.63,695.34 291.85,696.96 294.07,698.59 296.30,700.23 298.52,701.88 300.74,703.54 302.96,705.21 305.18,706.89 307.40,708.58 309.63,710.27 311.85,711.98 314.07,713.69 316.29,715.41 318.51,717.13 320.73,718.87 322.96,720.61 325.18,722.35 327.40,724.11 329.62,725.87 331.84,727.63 334.07,729.40 336.29,731.18 338.51,732.96 340.73,734.74 342.95,736.53 345.17,738.33 347.40,740.13 349.62,741.93 351.84,743.73 354.06,745.54 356.28,747.35 358.50,749.17 360.73,750.98 362.95,752.80 365.17,754.62 367.39,756.44 369.61,758.27 371.84,760.09 374.06,761.92 376.28,763.74 378.50,765.57 380.72,767.40 382.94,769.22 385.17,771.05 387.39,772.88 389.61,774.70 391.83,776.53 394.05,778.35 396.28,780.17 398.50,781.99 400.72,783.81 402.94,785.63 405.16,787.44 407.38,789.25 409.61,791.06 411.83,792.87 414.05,794.67 416.27,796.47 418.49,798.27 420.71,800.06 422.94,801.85 425.16,803.64 427.38,805.42 429.60,807.19 431.82,808.96 434.05,810.73 436.27,812.49 438.49,814.25 440.71,816.00 442.93,817.74 445.15,819.48 447.38,821.22 449.60,822.95 451.82,824.67 454.04,826.38 456.26,828.09 458.49,829.79 460.71,831.49 462.93,833.18 465.15,834.86 467.37,836.53 469.59,838.20 471.82,839.86 474.04,841.51 476.26,843.16 478.48,844.79 480.70,846.42 482.92,848.04 485.15,849.65 487.37,851.25 489.59,852.85 491.81,854.43 494.03,856.01 496.26,857.58 498.48,859.14 500.70,860.69 502.92,862.23 505.14,863.77 507.36,865.29 509.59,866.80 511.81,868.31 514.03,869.80 516.25,871.29 518.47,872.76 520.70,874.23 522.92,875.68 525.14,877.13 527.36,878.57 529.58,879.99 531.80,881.41 534.03,882.81 536.25,884.21 538.47,885.60 540.69,886.97 542.91,888.33 545.13,889.69 547.36,891.03 549.58,892.37 551.80,893.69 554.02,895.00 556.24,896.30 558.47,897.60 560.69,898.88 562.91,900.15 565.13,901.41 567.35,902.65 569.57,903.89 571.80,905.12 574.02,906.34 576.24,907.54 578.46,908.74 580.68,909.92 582.91,911.10 585.13,912.26 587.35,913.41 589.57,914.55 591.79,915.68 594.01,916.80 596.24,917.91 598.46,919.01 600.68,920.10 602.90,921.17 605.12,922.24 607.34,923.30 609.57,924.34 611.79,925.37 614.01,926.40 616.23,927.41 618.45,928.41 620.68,929.41 622.90,930.39 625.12,931.36 627.34,932.32 629.56,933.27 631.78,934.21 634.01,935.14 636.23,936.06 638.45,936.97 640.67,937.87 642.89,938.75 645.11,939.63 647.34,940.50 649.56,941.36 651.78,942.21 654.00,943.05 656.22,943.88 658.45,944.69 660.67,945.50 662.89,946.30 665.11,947.09 667.33,947.87 669.55,948.64 671.78,949.40 674.00,950.15 676.22,950.90 678.44,951.63 680.66,952.35 682.89,953.07 685.11,953.77 687.33,954.47 689.55,955.15 691.77,955.83 693.99,956.50 696.22,957.16 698.44,957.81 700.66,958.46 702.88,959.09 705.10,959.72 707.32,960.33 709.55,960.94 711.77,961.54 713.99,962.13 716.21,962.72 718.43,963.29 720.66,963.86 722.88,964.42 725.10,964.97 727.32,965.52 729.54,966.05 731.76,966.58 733.99,967.10 736.21,967.61 738.43,968.12 740.65,968.62 742.87,969.11 745.10,969.59 747.32,970.07 749.54,970.54 751.76,971.00 753.98,971.45 756.20,971.90 758.43,972.34 760.65,972.78 762.87,973.21 765.09,973.63 767.31,974.04"/>
</g></mask>
<path d="M224.23 619.30V995.70M345.45 619.30V995.70M466.68 619.30V995.70M587.90 619.30V995.70M709.12 619.30V995.70M102.65 920.24H762.70M102.65 844.98H762.70M102.65 769.72H762.70M102.65 694.46H762.70" stroke="#fff" stroke-opacity="0.72" stroke-width="1.7" fill="none" mask="url(#mkc)" clip-path="url(#clipc)"/>
<rect x="108" y="906.7" width="260" height="39.59999999999991" fill="#fff" fill-opacity="0.72"/>
<path d="M103.00 995.70v-5.2M103.00 619.30v5.2M127.25 995.70v-2.9M127.25 619.30v2.9M151.49 995.70v-2.9M151.49 619.30v2.9M175.74 995.70v-2.9M175.74 619.30v2.9M199.98 995.70v-2.9M199.98 619.30v2.9M224.23 995.70v-5.2M224.23 619.30v5.2M248.47 995.70v-2.9M248.47 619.30v2.9M272.72 995.70v-2.9M272.72 619.30v2.9M296.96 995.70v-2.9M296.96 619.30v2.9M321.21 995.70v-2.9M321.21 619.30v2.9M345.45 995.70v-5.2M345.45 619.30v5.2M369.69 995.70v-2.9M369.69 619.30v2.9M393.94 995.70v-2.9M393.94 619.30v2.9M418.19 995.70v-2.9M418.19 619.30v2.9M442.43 995.70v-2.9M442.43 619.30v2.9M466.68 995.70v-5.2M466.68 619.30v5.2M490.92 995.70v-2.9M490.92 619.30v2.9M515.16 995.70v-2.9M515.16 619.30v2.9M539.41 995.70v-2.9M539.41 619.30v2.9M563.65 995.70v-2.9M563.65 619.30v2.9M587.90 995.70v-5.2M587.90 619.30v5.2M612.14 995.70v-2.9M612.14 619.30v2.9M636.39 995.70v-2.9M636.39 619.30v2.9M660.63 995.70v-2.9M660.63 619.30v2.9M684.88 995.70v-2.9M684.88 619.30v2.9M709.12 995.70v-5.2M709.12 619.30v5.2M733.37 995.70v-2.9M733.37 619.30v2.9M757.62 995.70v-2.9M757.62 619.30v2.9M102.65 995.50h5.2M762.70 995.50h-5.2M102.65 976.68h2.9M762.70 976.68h-2.9M102.65 957.87h2.9M762.70 957.87h-2.9M102.65 939.05h2.9M762.70 939.05h-2.9M102.65 920.24h5.2M762.70 920.24h-5.2M102.65 901.42h2.9M762.70 901.42h-2.9M102.65 882.61h2.9M762.70 882.61h-2.9M102.65 863.80h2.9M762.70 863.80h-2.9M102.65 844.98h5.2M762.70 844.98h-5.2M102.65 826.16h2.9M762.70 826.16h-2.9M102.65 807.35h2.9M762.70 807.35h-2.9M102.65 788.53h2.9M762.70 788.53h-2.9M102.65 769.72h5.2M762.70 769.72h-5.2M102.65 750.90h2.9M762.70 750.90h-2.9M102.65 732.09h2.9M762.70 732.09h-2.9M102.65 713.28h2.9M762.70 713.28h-2.9M102.65 694.46h5.2M762.70 694.46h-5.2M102.65 675.64h2.9M762.70 675.64h-2.9M102.65 656.83h2.9M762.70 656.83h-2.9M102.65 638.02h2.9M762.70 638.02h-2.9M102.65 619.20h5.2M762.70 619.20h-5.2" stroke="#1a1a1a" stroke-width="1.8" fill="none"/>
<rect x="102.65" y="619.30" width="660.05" height="376.40" fill="none" stroke="#1a1a1a" stroke-width="2.1"/>
<text x="79.82" y="1001.55" font-family="'Liberation Sans',sans-serif" font-size="25.4" style="" fill="#1a1a1a" >0</text>
<text x="58.92" y="926.29" font-family="'Liberation Sans',sans-serif" font-size="25.4" style="" fill="#1a1a1a" >0.2</text>
<text x="58.38" y="851.03" font-family="'Liberation Sans',sans-serif" font-size="25.4" style="" fill="#1a1a1a" >0.4</text>
<text x="58.76" y="775.77" font-family="'Liberation Sans',sans-serif" font-size="25.4" style="" fill="#1a1a1a" >0.6</text>
<text x="58.74" y="700.51" font-family="'Liberation Sans',sans-serif" font-size="25.4" style="" fill="#1a1a1a" >0.8</text>
<text x="58.63" y="625.25" font-family="'Liberation Sans',sans-serif" font-size="25.4" style="" fill="#1a1a1a" >1.0</text>
<text x="96.54" y="1021.90" font-family="'Liberation Sans',sans-serif" font-size="25.4" style="" fill="#1a1a1a" >0</text>
<text x="217.79" y="1021.90" font-family="'Liberation Sans',sans-serif" font-size="25.4" style="" fill="#1a1a1a" >5</text>
<text x="331.45" y="1021.90" font-family="'Liberation Sans',sans-serif" font-size="25.4" style="" fill="#1a1a1a" >10</text>
<text x="452.71" y="1021.90" font-family="'Liberation Sans',sans-serif" font-size="25.4" style="" fill="#1a1a1a" >15</text>
<text x="574.23" y="1021.90" font-family="'Liberation Sans',sans-serif" font-size="25.4" style="" fill="#1a1a1a" >20</text>
<text x="695.49" y="1021.90" font-family="'Liberation Sans',sans-serif" font-size="25.4" style="" fill="#1a1a1a" >25</text>
</g>
<g id="panel-d">
<path d="M1034.50 617.80V994.00M1155.80 617.80V994.00M1277.10 617.80V994.00M1398.40 617.80V994.00M1519.70 617.80V994.00M913.20 918.60H1573.00M913.20 843.40H1573.00M913.20 768.20H1573.00M913.20 693.00H1573.00" stroke="#cbcbcb" stroke-width="1.6" fill="none"/>
<g clip-path="url(#clipd)" fill="none" stroke-width="4.6" stroke-linejoin="round" stroke-linecap="round">
<polyline points="913.20,629.25 915.42,629.26 917.65,629.27 919.87,629.28 922.09,629.29 924.32,629.30 926.54,629.32 928.76,629.34 930.99,629.36 933.21,629.38 935.43,629.40 937.65,629.42 939.88,629.45 942.10,629.47 944.32,629.50 946.55,629.53 948.77,629.56 950.99,629.59 953.22,629.62 955.44,629.66 957.66,629.70 959.89,629.73 962.11,629.77 964.33,629.81 966.56,629.86 968.78,629.90 971.00,629.95 973.23,629.99 975.45,630.04 977.67,630.09 979.89,630.14 982.12,630.20 984.34,630.25 986.56,630.31 988.79,630.36 991.01,630.42 993.23,630.48 995.46,630.55 997.68,630.61 999.90,630.67 1002.13,630.74 1004.35,630.81 1006.57,630.88 1008.80,630.95 1011.02,631.02 1013.24,631.09 1015.47,631.17 1017.69,631.24 1019.91,631.32 1022.13,631.40 1024.36,631.48 1026.58,631.57 1028.80,631.65 1031.03,631.74 1033.25,631.82 1035.47,631.91 1037.70,632.00 1039.92,632.09 1042.14,632.18 1044.37,632.28 1046.59,632.37 1048.81,632.47 1051.04,632.57 1053.26,632.67 1055.48,632.77 1057.71,632.87 1059.93,632.98 1062.15,633.08 1064.37,633.19 1066.60,633.30 1068.82,633.41 1071.04,633.52 1073.27,633.64 1075.49,633.75 1077.71,633.87 1079.94,633.98 1082.16,634.10 1084.38,634.22 1086.61,634.34 1088.83,634.47 1091.05,634.59 1093.28,634.72 1095.50,634.85 1097.72,634.97 1099.95,635.10 1102.17,635.24 1104.39,635.37 1106.61,635.50 1108.84,635.64 1111.06,635.78 1113.28,635.92 1115.51,636.06 1117.73,636.20 1119.95,636.34 1122.18,636.49 1124.40,636.63 1126.62,636.78 1128.85,636.93 1131.07,637.08 1133.29,637.23 1135.52,637.38 1137.74,637.54 1139.96,637.69 1142.19,637.85 1144.41,638.01 1146.63,638.17 1148.85,638.33 1151.08,638.49 1153.30,638.65 1155.52,638.82 1157.75,638.99 1159.97,639.16 1162.19,639.32 1164.42,639.50 1166.64,639.67 1168.86,639.84 1171.09,640.02 1173.31,640.19 1175.53,640.37 1177.76,640.55 1179.98,640.73 1182.20,640.91 1184.43,641.09 1186.65,641.28 1188.87,641.47 1191.09,641.65 1193.32,641.84 1195.54,642.03 1197.76,642.22 1199.99,642.41 1202.21,642.61 1204.43,642.80 1206.66,643.00 1208.88,643.20 1211.10,643.40 1213.33,643.60 1215.55,643.80 1217.77,644.00 1220.00,644.21 1222.22,644.41 1224.44,644.62 1226.67,644.83 1228.89,645.04 1231.11,645.25 1233.33,645.46 1235.56,645.68 1237.78,645.89 1240.00,646.11 1242.23,646.32 1244.45,646.54 1246.67,646.76 1248.90,646.99 1251.12,647.21 1253.34,647.43 1255.57,647.66 1257.79,647.88 1260.01,648.11 1262.24,648.34 1264.46,648.57 1266.68,648.80 1268.91,649.04 1271.13,649.27 1273.35,649.50 1275.57,649.74 1277.80,649.98 1280.02,650.22 1282.24,650.46 1284.47,650.70 1286.69,650.94 1288.91,651.19 1291.14,651.43 1293.36,651.68 1295.58,651.93 1297.81,652.18 1300.03,652.43 1302.25,652.68 1304.48,652.93 1306.70,653.18 1308.92,653.44 1311.15,653.70 1313.37,653.95 1315.59,654.21 1317.81,654.47 1320.04,654.73 1322.26,654.99 1324.48,655.26 1326.71,655.52 1328.93,655.79 1331.15,656.06 1333.38,656.32 1335.60,656.59 1337.82,656.86 1340.05,657.14 1342.27,657.41 1344.49,657.68 1346.72,657.96 1348.94,658.23 1351.16,658.51 1353.39,658.79 1355.61,659.07 1357.83,659.35 1360.05,659.63 1362.28,659.91 1364.50,660.20 1366.72,660.48 1368.95,660.77 1371.17,661.06 1373.39,661.35 1375.62,661.64 1377.84,661.93 1380.06,662.22 1382.29,662.51 1384.51,662.81 1386.73,663.10 1388.96,663.40 1391.18,663.70 1393.40,664.00 1395.63,664.30 1397.85,664.60 1400.07,664.90 1402.29,665.20 1404.52,665.51 1406.74,665.81 1408.96,666.12 1411.19,666.42 1413.41,666.73 1415.63,667.04 1417.86,667.35 1420.08,667.66 1422.30,667.98 1424.53,668.29 1426.75,668.60 1428.97,668.92 1431.20,669.24 1433.42,669.55 1435.64,669.87 1437.87,670.19 1440.09,670.51 1442.31,670.83 1444.53,671.16 1446.76,671.48 1448.98,671.80 1451.20,672.13 1453.43,672.46 1455.65,672.78 1457.87,673.11 1460.10,673.44 1462.32,673.77 1464.54,674.10 1466.77,674.44 1468.99,674.77 1471.21,675.10 1473.44,675.44 1475.66,675.78 1477.88,676.11 1480.11,676.45 1482.33,676.79 1484.55,677.13 1486.77,677.47 1489.00,677.81 1491.22,678.16 1493.44,678.50 1495.67,678.85 1497.89,679.19 1500.11,679.54 1502.34,679.89 1504.56,680.23 1506.78,680.58 1509.01,680.93 1511.23,681.28 1513.45,681.64 1515.68,681.99 1517.90,682.34 1520.12,682.70 1522.35,683.05 1524.57,683.41 1526.79,683.77 1529.01,684.12 1531.24,684.48 1533.46,684.84 1535.68,685.20 1537.91,685.57 1540.13,685.93 1542.35,686.29 1544.58,686.65 1546.80,687.02 1549.02,687.38 1551.25,687.75 1553.47,688.12 1555.69,688.49 1557.92,688.86 1560.14,689.23 1562.36,689.60 1564.59,689.97 1566.81,690.34 1569.03,690.71 1571.25,691.09 1573.48,691.46 1575.70,691.84 1577.92,692.21" stroke="#4a5db0"/>
<polyline points="913.20,742.95 915.42,742.26 917.65,741.58 919.87,740.92 922.09,740.26 924.32,739.61 926.54,738.97 928.76,738.34 930.99,737.71 933.21,737.10 935.43,736.50 937.65,735.91 939.88,735.33 942.10,734.76 944.32,734.20 946.55,733.65 948.77,733.11 950.99,732.58 953.22,732.06 955.44,731.55 957.66,731.05 959.89,730.56 962.11,730.08 964.33,729.62 966.56,729.16 968.78,728.72 971.00,728.28 973.23,727.86 975.45,727.45 977.67,727.05 979.89,726.66 982.12,726.28 984.34,725.91 986.56,725.56 988.79,725.21 991.01,724.88 993.23,724.56 995.46,724.25 997.68,723.95 999.90,723.67 1002.13,723.39 1004.35,723.13 1006.57,722.88 1008.80,722.64 1011.02,722.41 1013.24,722.19 1015.47,721.99 1017.69,721.79 1019.91,721.61 1022.13,721.44 1024.36,721.29 1026.58,721.14 1028.80,721.01 1031.03,720.89 1033.25,720.78 1035.47,720.68 1037.70,720.60 1039.92,720.52 1042.14,720.46 1044.37,720.41 1046.59,720.38 1048.81,720.35 1051.04,720.34 1053.26,720.34 1055.48,720.35 1057.71,720.37 1059.93,720.41 1062.15,720.45 1064.37,720.51 1066.60,720.58 1068.82,720.67 1071.04,720.76 1073.27,720.87 1075.49,720.99 1077.71,721.12 1079.94,721.26 1082.16,721.42 1084.38,721.59 1086.61,721.76 1088.83,721.95 1091.05,722.16 1093.28,722.37 1095.50,722.60 1097.72,722.84 1099.95,723.09 1102.17,723.35 1104.39,723.62 1106.61,723.91 1108.84,724.20 1111.06,724.51 1113.28,724.83 1115.51,725.16 1117.73,725.50 1119.95,725.85 1122.18,726.22 1124.40,726.60 1126.62,726.98 1128.85,727.38 1131.07,727.79 1133.29,728.21 1135.52,728.64 1137.74,729.09 1139.96,729.54 1142.19,730.01 1144.41,730.48 1146.63,730.97 1148.85,731.46 1151.08,731.97 1153.30,732.49 1155.52,733.02 1157.75,733.56 1159.97,734.11 1162.19,734.66 1164.42,735.23 1166.64,735.81 1168.86,736.40 1171.09,737.00 1173.31,737.61 1175.53,738.23 1177.76,738.86 1179.98,739.50 1182.20,740.15 1184.43,740.81 1186.65,741.47 1188.87,742.15 1191.09,742.84 1193.32,743.53 1195.54,744.24 1197.76,744.95 1199.99,745.67 1202.21,746.40 1204.43,747.14 1206.66,747.89 1208.88,748.65 1211.10,749.41 1213.33,750.18 1215.55,750.97 1217.77,751.76 1220.00,752.55 1222.22,753.36 1224.44,754.17 1226.67,755.00 1228.89,755.82 1231.11,756.66 1233.33,757.51 1235.56,758.36 1237.78,759.22 1240.00,760.08 1242.23,760.96 1244.45,761.84 1246.67,762.72 1248.90,763.62 1251.12,764.52 1253.34,765.42 1255.57,766.34 1257.79,767.26 1260.01,768.18 1262.24,769.11 1264.46,770.05 1266.68,771.00 1268.91,771.95 1271.13,772.90 1273.35,773.86 1275.57,774.83 1277.80,775.80 1280.02,776.78 1282.24,777.76 1284.47,778.75 1286.69,779.74 1288.91,780.74 1291.14,781.74 1293.36,782.75 1295.58,783.76 1297.81,784.77 1300.03,785.79 1302.25,786.81 1304.48,787.84 1306.70,788.87 1308.92,789.91 1311.15,790.95 1313.37,791.99 1315.59,793.04 1317.81,794.09 1320.04,795.14 1322.26,796.20 1324.48,797.26 1326.71,798.32 1328.93,799.38 1331.15,800.45 1333.38,801.52 1335.60,802.59 1337.82,803.67 1340.05,804.74 1342.27,805.82 1344.49,806.91 1346.72,807.99 1348.94,809.08 1351.16,810.16 1353.39,811.25 1355.61,812.34 1357.83,813.43 1360.05,814.53 1362.28,815.62 1364.50,816.72 1366.72,817.81 1368.95,818.91 1371.17,820.01 1373.39,821.11 1375.62,822.21 1377.84,823.31 1380.06,824.41 1382.29,825.51 1384.51,826.61 1386.73,827.71 1388.96,828.81 1391.18,829.91 1393.40,831.01 1395.63,832.11 1397.85,833.22 1400.07,834.32 1402.29,835.41 1404.52,836.51 1406.74,837.61 1408.96,838.71 1411.19,839.80 1413.41,840.90 1415.63,841.99 1417.86,843.09 1420.08,844.18 1422.30,845.27 1424.53,846.36 1426.75,847.44 1428.97,848.53 1431.20,849.61 1433.42,850.70 1435.64,851.78 1437.87,852.85 1440.09,853.93 1442.31,855.01 1444.53,856.08 1446.76,857.15 1448.98,858.21 1451.20,859.28 1453.43,860.34 1455.65,861.40 1457.87,862.46 1460.10,863.51 1462.32,864.57 1464.54,865.62 1466.77,866.66 1468.99,867.71 1471.21,868.75 1473.44,869.78 1475.66,870.82 1477.88,871.85 1480.11,872.87 1482.33,873.90 1484.55,874.92 1486.77,875.94 1489.00,876.95 1491.22,877.96 1493.44,878.97 1495.67,879.97 1497.89,880.97 1500.11,881.96 1502.34,882.95 1504.56,883.94 1506.78,884.92 1509.01,885.90 1511.23,886.88 1513.45,887.85 1515.68,888.81 1517.90,889.78 1520.12,890.73 1522.35,891.69 1524.57,892.64 1526.79,893.58 1529.01,894.52 1531.24,895.46 1533.46,896.39 1535.68,897.32 1537.91,898.24 1540.13,899.16 1542.35,900.07 1544.58,900.98 1546.80,901.88 1549.02,902.78 1551.25,903.67 1553.47,904.56 1555.69,905.45 1557.92,906.33 1560.14,907.20 1562.36,908.07 1564.59,908.94 1566.81,909.79 1569.03,910.65 1571.25,911.50 1573.48,912.34 1575.70,913.18 1577.92,914.02" stroke="#74b44e"/>
<polyline points="913.20,990.34 915.42,990.21 917.65,990.08 919.87,989.94 922.09,989.79 924.32,989.63 926.54,989.47 928.76,989.29 930.99,989.10 933.21,988.90 935.43,988.69 937.65,988.47 939.88,988.24 942.10,987.99 944.32,987.73 946.55,987.45 948.77,987.16 950.99,986.86 953.22,986.53 955.44,986.20 957.66,985.84 959.89,985.47 962.11,985.07 964.33,984.66 966.56,984.23 968.78,983.77 971.00,983.30 973.23,982.80 975.45,982.28 977.67,981.73 979.89,981.16 982.12,980.56 984.34,979.94 986.56,979.29 988.79,978.61 991.01,977.90 993.23,977.17 995.46,976.40 997.68,975.60 999.90,974.77 1002.13,973.91 1004.35,973.01 1006.57,972.08 1008.80,971.12 1011.02,970.12 1013.24,969.08 1015.47,968.01 1017.69,966.89 1019.91,965.74 1022.13,964.56 1024.36,963.33 1026.58,962.06 1028.80,960.75 1031.03,959.40 1033.25,958.01 1035.47,956.58 1037.70,955.11 1039.92,953.59 1042.14,952.04 1044.37,950.44 1046.59,948.80 1048.81,947.11 1051.04,945.39 1053.26,943.62 1055.48,941.81 1057.71,939.95 1059.93,938.06 1062.15,936.13 1064.37,934.15 1066.60,932.14 1068.82,930.08 1071.04,927.99 1073.27,925.86 1075.49,923.69 1077.71,921.49 1079.94,919.25 1082.16,916.98 1084.38,914.68 1086.61,912.35 1088.83,909.98 1091.05,907.59 1093.28,905.17 1095.50,902.73 1097.72,900.26 1099.95,897.77 1102.17,895.27 1104.39,892.74 1106.61,890.20 1108.84,887.65 1111.06,885.09 1113.28,882.52 1115.51,879.94 1117.73,877.36 1119.95,874.77 1122.18,872.19 1124.40,869.62 1126.62,867.05 1128.85,864.49 1131.07,861.94 1133.29,859.40 1135.52,856.89 1137.74,854.39 1139.96,851.92 1142.19,849.48 1144.41,847.06 1146.63,844.68 1148.85,842.33 1151.08,840.02 1153.30,837.75 1155.52,835.53 1157.75,833.35 1159.97,831.22 1162.19,829.14 1164.42,827.12 1166.64,825.16 1168.86,823.26 1171.09,821.42 1173.31,819.64 1175.53,817.94 1177.76,816.30 1179.98,814.74 1182.20,813.25 1184.43,811.84 1186.65,810.51 1188.87,809.26 1191.09,808.09 1193.32,807.01 1195.54,806.01 1197.76,805.10 1199.99,804.28 1202.21,803.55 1204.43,802.91 1206.66,802.36 1208.88,801.91 1211.10,801.55 1213.33,801.28 1215.55,801.11 1217.77,801.03 1220.00,801.05 1222.22,801.16 1224.44,801.36 1226.67,801.67 1228.89,802.06 1231.11,802.55 1233.33,803.13 1235.56,803.80 1237.78,804.56 1240.00,805.42 1242.23,806.36 1244.45,807.39 1246.67,808.50 1248.90,809.70 1251.12,810.98 1253.34,812.34 1255.57,813.78 1257.79,815.29 1260.01,816.88 1262.24,818.54 1264.46,820.27 1266.68,822.07 1268.91,823.93 1271.13,825.85 1273.35,827.84 1275.57,829.88 1277.80,831.97 1280.02,834.12 1282.24,836.32 1284.47,838.56 1286.69,840.84 1288.91,843.16 1291.14,845.52 1293.36,847.92 1295.58,850.35 1297.81,852.80 1300.03,855.28 1302.25,857.78 1304.48,860.31 1306.70,862.84 1308.92,865.40 1311.15,867.96 1313.37,870.53 1315.59,873.11 1317.81,875.70 1320.04,878.28 1322.26,880.86 1324.48,883.43 1326.71,886.00 1328.93,888.56 1331.15,891.11 1333.38,893.64 1335.60,896.16 1337.82,898.66 1340.05,901.14 1342.27,903.60 1344.49,906.04 1346.72,908.45 1348.94,910.83 1351.16,913.18 1353.39,915.50 1355.61,917.80 1357.83,920.06 1360.05,922.28 1362.28,924.47 1364.50,926.62 1366.72,928.74 1368.95,930.82 1371.17,932.86 1373.39,934.86 1375.62,936.82 1377.84,938.74 1380.06,940.62 1382.29,942.46 1384.51,944.25 1386.73,946.01 1388.96,947.72 1391.18,949.39 1393.40,951.01 1395.63,952.60 1397.85,954.14 1400.07,955.64 1402.29,957.10 1404.52,958.51 1406.74,959.89 1408.96,961.22 1411.19,962.52 1413.41,963.77 1415.63,964.98 1417.86,966.16 1420.08,967.30 1422.30,968.39 1424.53,969.45 1426.75,970.48 1428.97,971.47 1431.20,972.42 1433.42,973.34 1435.64,974.22 1437.87,975.07 1440.09,975.89 1442.31,976.68 1444.53,977.43 1446.76,978.16 1448.98,978.86 1451.20,979.52 1453.43,980.16 1455.65,980.78 1457.87,981.37 1460.10,981.93 1462.32,982.46 1464.54,982.98 1466.77,983.47 1468.99,983.94 1471.21,984.38 1473.44,984.81 1475.66,985.21 1477.88,985.60 1480.11,985.97 1482.33,986.32 1484.55,986.65 1486.77,986.97 1489.00,987.27 1491.22,987.55 1493.44,987.82 1495.67,988.08 1497.89,988.32 1500.11,988.55 1502.34,988.77 1504.56,988.98 1506.78,989.17 1509.01,989.35 1511.23,989.53 1513.45,989.69 1515.68,989.85 1517.90,989.99 1520.12,990.13 1522.35,990.26 1524.57,990.38 1526.79,990.49 1529.01,990.60 1531.24,990.70 1533.46,990.80 1535.68,990.89 1537.91,990.97 1540.13,991.05 1542.35,991.12 1544.58,991.19 1546.80,991.26 1549.02,991.32 1551.25,991.37 1553.47,991.43 1555.69,991.48 1557.92,991.52 1560.14,991.56 1562.36,991.60 1564.59,991.64 1566.81,991.68 1569.03,991.71 1571.25,991.74 1573.48,991.77 1575.70,991.79 1577.92,991.82" stroke="#cf2229"/>
</g>
<mask id="mkd" maskUnits="userSpaceOnUse" x="0" y="0" width="1575" height="1076"><g fill="none" stroke="#fff" stroke-width="4.6" stroke-linejoin="round">
<polyline points="913.20,629.25 915.42,629.26 917.65,629.27 919.87,629.28 922.09,629.29 924.32,629.30 926.54,629.32 928.76,629.34 930.99,629.36 933.21,629.38 935.43,629.40 937.65,629.42 939.88,629.45 942.10,629.47 944.32,629.50 946.55,629.53 948.77,629.56 950.99,629.59 953.22,629.62 955.44,629.66 957.66,629.70 959.89,629.73 962.11,629.77 964.33,629.81 966.56,629.86 968.78,629.90 971.00,629.95 973.23,629.99 975.45,630.04 977.67,630.09 979.89,630.14 982.12,630.20 984.34,630.25 986.56,630.31 988.79,630.36 991.01,630.42 993.23,630.48 995.46,630.55 997.68,630.61 999.90,630.67 1002.13,630.74 1004.35,630.81 1006.57,630.88 1008.80,630.95 1011.02,631.02 1013.24,631.09 1015.47,631.17 1017.69,631.24 1019.91,631.32 1022.13,631.40 1024.36,631.48 1026.58,631.57 1028.80,631.65 1031.03,631.74 1033.25,631.82 1035.47,631.91 1037.70,632.00 1039.92,632.09 1042.14,632.18 1044.37,632.28 1046.59,632.37 1048.81,632.47 1051.04,632.57 1053.26,632.67 1055.48,632.77 1057.71,632.87 1059.93,632.98 1062.15,633.08 1064.37,633.19 1066.60,633.30 1068.82,633.41 1071.04,633.52 1073.27,633.64 1075.49,633.75 1077.71,633.87 1079.94,633.98 1082.16,634.10 1084.38,634.22 1086.61,634.34 1088.83,634.47 1091.05,634.59 1093.28,634.72 1095.50,634.85 1097.72,634.97 1099.95,635.10 1102.17,635.24 1104.39,635.37 1106.61,635.50 1108.84,635.64 1111.06,635.78 1113.28,635.92 1115.51,636.06 1117.73,636.20 1119.95,636.34 1122.18,636.49 1124.40,636.63 1126.62,636.78 1128.85,636.93 1131.07,637.08 1133.29,637.23 1135.52,637.38 1137.74,637.54 1139.96,637.69 1142.19,637.85 1144.41,638.01 1146.63,638.17 1148.85,638.33 1151.08,638.49 1153.30,638.65 1155.52,638.82 1157.75,638.99 1159.97,639.16 1162.19,639.32 1164.42,639.50 1166.64,639.67 1168.86,639.84 1171.09,640.02 1173.31,640.19 1175.53,640.37 1177.76,640.55 1179.98,640.73 1182.20,640.91 1184.43,641.09 1186.65,641.28 1188.87,641.47 1191.09,641.65 1193.32,641.84 1195.54,642.03 1197.76,642.22 1199.99,642.41 1202.21,642.61 1204.43,642.80 1206.66,643.00 1208.88,643.20 1211.10,643.40 1213.33,643.60 1215.55,643.80 1217.77,644.00 1220.00,644.21 1222.22,644.41 1224.44,644.62 1226.67,644.83 1228.89,645.04 1231.11,645.25 1233.33,645.46 1235.56,645.68 1237.78,645.89 1240.00,646.11 1242.23,646.32 1244.45,646.54 1246.67,646.76 1248.90,646.99 1251.12,647.21 1253.34,647.43 1255.57,647.66 1257.79,647.88 1260.01,648.11 1262.24,648.34 1264.46,648.57 1266.68,648.80 1268.91,649.04 1271.13,649.27 1273.35,649.50 1275.57,649.74 1277.80,649.98 1280.02,650.22 1282.24,650.46 1284.47,650.70 1286.69,650.94 1288.91,651.19 1291.14,651.43 1293.36,651.68 1295.58,651.93 1297.81,652.18 1300.03,652.43 1302.25,652.68 1304.48,652.93 1306.70,653.18 1308.92,653.44 1311.15,653.70 1313.37,653.95 1315.59,654.21 1317.81,654.47 1320.04,654.73 1322.26,654.99 1324.48,655.26 1326.71,655.52 1328.93,655.79 1331.15,656.06 1333.38,656.32 1335.60,656.59 1337.82,656.86 1340.05,657.14 1342.27,657.41 1344.49,657.68 1346.72,657.96 1348.94,658.23 1351.16,658.51 1353.39,658.79 1355.61,659.07 1357.83,659.35 1360.05,659.63 1362.28,659.91 1364.50,660.20 1366.72,660.48 1368.95,660.77 1371.17,661.06 1373.39,661.35 1375.62,661.64 1377.84,661.93 1380.06,662.22 1382.29,662.51 1384.51,662.81 1386.73,663.10 1388.96,663.40 1391.18,663.70 1393.40,664.00 1395.63,664.30 1397.85,664.60 1400.07,664.90 1402.29,665.20 1404.52,665.51 1406.74,665.81 1408.96,666.12 1411.19,666.42 1413.41,666.73 1415.63,667.04 1417.86,667.35 1420.08,667.66 1422.30,667.98 1424.53,668.29 1426.75,668.60 1428.97,668.92 1431.20,669.24 1433.42,669.55 1435.64,669.87 1437.87,670.19 1440.09,670.51 1442.31,670.83 1444.53,671.16 1446.76,671.48 1448.98,671.80 1451.20,672.13 1453.43,672.46 1455.65,672.78 1457.87,673.11 1460.10,673.44 1462.32,673.77 1464.54,674.10 1466.77,674.44 1468.99,674.77 1471.21,675.10 1473.44,675.44 1475.66,675.78 1477.88,676.11 1480.11,676.45 1482.33,676.79 1484.55,677.13 1486.77,677.47 1489.00,677.81 1491.22,678.16 1493.44,678.50 1495.67,678.85 1497.89,679.19 1500.11,679.54 1502.34,679.89 1504.56,680.23 1506.78,680.58 1509.01,680.93 1511.23,681.28 1513.45,681.64 1515.68,681.99 1517.90,682.34 1520.12,682.70 1522.35,683.05 1524.57,683.41 1526.79,683.77 1529.01,684.12 1531.24,684.48 1533.46,684.84 1535.68,685.20 1537.91,685.57 1540.13,685.93 1542.35,686.29 1544.58,686.65 1546.80,687.02 1549.02,687.38 1551.25,687.75 1553.47,688.12 1555.69,688.49 1557.92,688.86 1560.14,689.23 1562.36,689.60 1564.59,689.97 1566.81,690.34 1569.03,690.71 1571.25,691.09 1573.48,691.46 1575.70,691.84 1577.92,692.21"/>
<polyline points="913.20,742.95 915.42,742.26 917.65,741.58 919.87,740.92 922.09,740.26 924.32,739.61 926.54,738.97 928.76,738.34 930.99,737.71 933.21,737.10 935.43,736.50 937.65,735.91 939.88,735.33 942.10,734.76 944.32,734.20 946.55,733.65 948.77,733.11 950.99,732.58 953.22,732.06 955.44,731.55 957.66,731.05 959.89,730.56 962.11,730.08 964.33,729.62 966.56,729.16 968.78,728.72 971.00,728.28 973.23,727.86 975.45,727.45 977.67,727.05 979.89,726.66 982.12,726.28 984.34,725.91 986.56,725.56 988.79,725.21 991.01,724.88 993.23,724.56 995.46,724.25 997.68,723.95 999.90,723.67 1002.13,723.39 1004.35,723.13 1006.57,722.88 1008.80,722.64 1011.02,722.41 1013.24,722.19 1015.47,721.99 1017.69,721.79 1019.91,721.61 1022.13,721.44 1024.36,721.29 1026.58,721.14 1028.80,721.01 1031.03,720.89 1033.25,720.78 1035.47,720.68 1037.70,720.60 1039.92,720.52 1042.14,720.46 1044.37,720.41 1046.59,720.38 1048.81,720.35 1051.04,720.34 1053.26,720.34 1055.48,720.35 1057.71,720.37 1059.93,720.41 1062.15,720.45 1064.37,720.51 1066.60,720.58 1068.82,720.67 1071.04,720.76 1073.27,720.87 1075.49,720.99 1077.71,721.12 1079.94,721.26 1082.16,721.42 1084.38,721.59 1086.61,721.76 1088.83,721.95 1091.05,722.16 1093.28,722.37 1095.50,722.60 1097.72,722.84 1099.95,723.09 1102.17,723.35 1104.39,723.62 1106.61,723.91 1108.84,724.20 1111.06,724.51 1113.28,724.83 1115.51,725.16 1117.73,725.50 1119.95,725.85 1122.18,726.22 1124.40,726.60 1126.62,726.98 1128.85,727.38 1131.07,727.79 1133.29,728.21 1135.52,728.64 1137.74,729.09 1139.96,729.54 1142.19,730.01 1144.41,730.48 1146.63,730.97 1148.85,731.46 1151.08,731.97 1153.30,732.49 1155.52,733.02 1157.75,733.56 1159.97,734.11 1162.19,734.66 1164.42,735.23 1166.64,735.81 1168.86,736.40 1171.09,737.00 1173.31,737.61 1175.53,738.23 1177.76,738.86 1179.98,739.50 1182.20,740.15 1184.43,740.81 1186.65,741.47 1188.87,742.15 1191.09,742.84 1193.32,743.53 1195.54,744.24 1197.76,744.95 1199.99,745.67 1202.21,746.40 1204.43,747.14 1206.66,747.89 1208.88,748.65 1211.10,749.41 1213.33,750.18 1215.55,750.97 1217.77,751.76 1220.00,752.55 1222.22,753.36 1224.44,754.17 1226.67,755.00 1228.89,755.82 1231.11,756.66 1233.33,757.51 1235.56,758.36 1237.78,759.22 1240.00,760.08 1242.23,760.96 1244.45,761.84 1246.67,762.72 1248.90,763.62 1251.12,764.52 1253.34,765.42 1255.57,766.34 1257.79,767.26 1260.01,768.18 1262.24,769.11 1264.46,770.05 1266.68,771.00 1268.91,771.95 1271.13,772.90 1273.35,773.86 1275.57,774.83 1277.80,775.80 1280.02,776.78 1282.24,777.76 1284.47,778.75 1286.69,779.74 1288.91,780.74 1291.14,781.74 1293.36,782.75 1295.58,783.76 1297.81,784.77 1300.03,785.79 1302.25,786.81 1304.48,787.84 1306.70,788.87 1308.92,789.91 1311.15,790.95 1313.37,791.99 1315.59,793.04 1317.81,794.09 1320.04,795.14 1322.26,796.20 1324.48,797.26 1326.71,798.32 1328.93,799.38 1331.15,800.45 1333.38,801.52 1335.60,802.59 1337.82,803.67 1340.05,804.74 1342.27,805.82 1344.49,806.91 1346.72,807.99 1348.94,809.08 1351.16,810.16 1353.39,811.25 1355.61,812.34 1357.83,813.43 1360.05,814.53 1362.28,815.62 1364.50,816.72 1366.72,817.81 1368.95,818.91 1371.17,820.01 1373.39,821.11 1375.62,822.21 1377.84,823.31 1380.06,824.41 1382.29,825.51 1384.51,826.61 1386.73,827.71 1388.96,828.81 1391.18,829.91 1393.40,831.01 1395.63,832.11 1397.85,833.22 1400.07,834.32 1402.29,835.41 1404.52,836.51 1406.74,837.61 1408.96,838.71 1411.19,839.80 1413.41,840.90 1415.63,841.99 1417.86,843.09 1420.08,844.18 1422.30,845.27 1424.53,846.36 1426.75,847.44 1428.97,848.53 1431.20,849.61 1433.42,850.70 1435.64,851.78 1437.87,852.85 1440.09,853.93 1442.31,855.01 1444.53,856.08 1446.76,857.15 1448.98,858.21 1451.20,859.28 1453.43,860.34 1455.65,861.40 1457.87,862.46 1460.10,863.51 1462.32,864.57 1464.54,865.62 1466.77,866.66 1468.99,867.71 1471.21,868.75 1473.44,869.78 1475.66,870.82 1477.88,871.85 1480.11,872.87 1482.33,873.90 1484.55,874.92 1486.77,875.94 1489.00,876.95 1491.22,877.96 1493.44,878.97 1495.67,879.97 1497.89,880.97 1500.11,881.96 1502.34,882.95 1504.56,883.94 1506.78,884.92 1509.01,885.90 1511.23,886.88 1513.45,887.85 1515.68,888.81 1517.90,889.78 1520.12,890.73 1522.35,891.69 1524.57,892.64 1526.79,893.58 1529.01,894.52 1531.24,895.46 1533.46,896.39 1535.68,897.32 1537.91,898.24 1540.13,899.16 1542.35,900.07 1544.58,900.98 1546.80,901.88 1549.02,902.78 1551.25,903.67 1553.47,904.56 1555.69,905.45 1557.92,906.33 1560.14,907.20 1562.36,908.07 1564.59,908.94 1566.81,909.79 1569.03,910.65 1571.25,911.50 1573.48,912.34 1575.70,913.18 1577.92,914.02"/>
<polyline points="913.20,990.34 915.42,990.21 917.65,990.08 919.87,989.94 922.09,989.79 924.32,989.63 926.54,989.47 928.76,989.29 930.99,989.10 933.21,988.90 935.43,988.69 937.65,988.47 939.88,988.24 942.10,987.99 944.32,987.73 946.55,987.45 948.77,987.16 950.99,986.86 953.22,986.53 955.44,986.20 957.66,985.84 959.89,985.47 962.11,985.07 964.33,984.66 966.56,984.23 968.78,983.77 971.00,983.30 973.23,982.80 975.45,982.28 977.67,981.73 979.89,981.16 982.12,980.56 984.34,979.94 986.56,979.29 988.79,978.61 991.01,977.90 993.23,977.17 995.46,976.40 997.68,975.60 999.90,974.77 1002.13,973.91 1004.35,973.01 1006.57,972.08 1008.80,971.12 1011.02,970.12 1013.24,969.08 1015.47,968.01 1017.69,966.89 1019.91,965.74 1022.13,964.56 1024.36,963.33 1026.58,962.06 1028.80,960.75 1031.03,959.40 1033.25,958.01 1035.47,956.58 1037.70,955.11 1039.92,953.59 1042.14,952.04 1044.37,950.44 1046.59,948.80 1048.81,947.11 1051.04,945.39 1053.26,943.62 1055.48,941.81 1057.71,939.95 1059.93,938.06 1062.15,936.13 1064.37,934.15 1066.60,932.14 1068.82,930.08 1071.04,927.99 1073.27,925.86 1075.49,923.69 1077.71,921.49 1079.94,919.25 1082.16,916.98 1084.38,914.68 1086.61,912.35 1088.83,909.98 1091.05,907.59 1093.28,905.17 1095.50,902.73 1097.72,900.26 1099.95,897.77 1102.17,895.27 1104.39,892.74 1106.61,890.20 1108.84,887.65 1111.06,885.09 1113.28,882.52 1115.51,879.94 1117.73,877.36 1119.95,874.77 1122.18,872.19 1124.40,869.62 1126.62,867.05 1128.85,864.49 1131.07,861.94 1133.29,859.40 1135.52,856.89 1137.74,854.39 1139.96,851.92 1142.19,849.48 1144.41,847.06 1146.63,844.68 1148.85,842.33 1151.08,840.02 1153.30,837.75 1155.52,835.53 1157.75,833.35 1159.97,831.22 1162.19,829.14 1164.42,827.12 1166.64,825.16 1168.86,823.26 1171.09,821.42 1173.31,819.64 1175.53,817.94 1177.76,816.30 1179.98,814.74 1182.20,813.25 1184.43,811.84 1186.65,810.51 1188.87,809.26 1191.09,808.09 1193.32,807.01 1195.54,806.01 1197.76,805.10 1199.99,804.28 1202.21,803.55 1204.43,802.91 1206.66,802.36 1208.88,801.91 1211.10,801.55 1213.33,801.28 1215.55,801.11 1217.77,801.03 1220.00,801.05 1222.22,801.16 1224.44,801.36 1226.67,801.67 1228.89,802.06 1231.11,802.55 1233.33,803.13 1235.56,803.80 1237.78,804.56 1240.00,805.42 1242.23,806.36 1244.45,807.39 1246.67,808.50 1248.90,809.70 1251.12,810.98 1253.34,812.34 1255.57,813.78 1257.79,815.29 1260.01,816.88 1262.24,818.54 1264.46,820.27 1266.68,822.07 1268.91,823.93 1271.13,825.85 1273.35,827.84 1275.57,829.88 1277.80,831.97 1280.02,834.12 1282.24,836.32 1284.47,838.56 1286.69,840.84 1288.91,843.16 1291.14,845.52 1293.36,847.92 1295.58,850.35 1297.81,852.80 1300.03,855.28 1302.25,857.78 1304.48,860.31 1306.70,862.84 1308.92,865.40 1311.15,867.96 1313.37,870.53 1315.59,873.11 1317.81,875.70 1320.04,878.28 1322.26,880.86 1324.48,883.43 1326.71,886.00 1328.93,888.56 1331.15,891.11 1333.38,893.64 1335.60,896.16 1337.82,898.66 1340.05,901.14 1342.27,903.60 1344.49,906.04 1346.72,908.45 1348.94,910.83 1351.16,913.18 1353.39,915.50 1355.61,917.80 1357.83,920.06 1360.05,922.28 1362.28,924.47 1364.50,926.62 1366.72,928.74 1368.95,930.82 1371.17,932.86 1373.39,934.86 1375.62,936.82 1377.84,938.74 1380.06,940.62 1382.29,942.46 1384.51,944.25 1386.73,946.01 1388.96,947.72 1391.18,949.39 1393.40,951.01 1395.63,952.60 1397.85,954.14 1400.07,955.64 1402.29,957.10 1404.52,958.51 1406.74,959.89 1408.96,961.22 1411.19,962.52 1413.41,963.77 1415.63,964.98 1417.86,966.16 1420.08,967.30 1422.30,968.39 1424.53,969.45 1426.75,970.48 1428.97,971.47 1431.20,972.42 1433.42,973.34 1435.64,974.22 1437.87,975.07 1440.09,975.89 1442.31,976.68 1444.53,977.43 1446.76,978.16 1448.98,978.86 1451.20,979.52 1453.43,980.16 1455.65,980.78 1457.87,981.37 1460.10,981.93 1462.32,982.46 1464.54,982.98 1466.77,983.47 1468.99,983.94 1471.21,984.38 1473.44,984.81 1475.66,985.21 1477.88,985.60 1480.11,985.97 1482.33,986.32 1484.55,986.65 1486.77,986.97 1489.00,987.27 1491.22,987.55 1493.44,987.82 1495.67,988.08 1497.89,988.32 1500.11,988.55 1502.34,988.77 1504.56,988.98 1506.78,989.17 1509.01,989.35 1511.23,989.53 1513.45,989.69 1515.68,989.85 1517.90,989.99 1520.12,990.13 1522.35,990.26 1524.57,990.38 1526.79,990.49 1529.01,990.60 1531.24,990.70 1533.46,990.80 1535.68,990.89 1537.91,990.97 1540.13,991.05 1542.35,991.12 1544.58,991.19 1546.80,991.26 1549.02,991.32 1551.25,991.37 1553.47,991.43 1555.69,991.48 1557.92,991.52 1560.14,991.56 1562.36,991.60 1564.59,991.64 1566.81,991.68 1569.03,991.71 1571.25,991.74 1573.48,991.77 1575.70,991.79 1577.92,991.82"/>
</g></mask>
<path d="M1034.50 617.80V994.00M1155.80 617.80V994.00M1277.10 617.80V994.00M1398.40 617.80V994.00M1519.70 617.80V994.00M913.20 918.60H1573.00M913.20 843.40H1573.00M913.20 768.20H1573.00M913.20 693.00H1573.00" stroke="#fff" stroke-opacity="0.72" stroke-width="1.7" fill="none" mask="url(#mkd)" clip-path="url(#clipd)"/>
<rect x="1088" y="917" width="120" height="36" fill="#fff" fill-opacity="0.72"/>
<rect x="1309" y="902" width="252" height="38" fill="#fff" fill-opacity="0.72"/>
<rect x="1309" y="946" width="219" height="32" fill="#fff" fill-opacity="0.72"/>
<path d="M913.20 994.00v-5.2M913.20 617.80v5.2M937.46 994.00v-2.9M937.46 617.80v2.9M961.72 994.00v-2.9M961.72 617.80v2.9M985.98 994.00v-2.9M985.98 617.80v2.9M1010.24 994.00v-2.9M1010.24 617.80v2.9M1034.50 994.00v-5.2M1034.50 617.80v5.2M1058.76 994.00v-2.9M1058.76 617.80v2.9M1083.02 994.00v-2.9M1083.02 617.80v2.9M1107.28 994.00v-2.9M1107.28 617.80v2.9M1131.54 994.00v-2.9M1131.54 617.80v2.9M1155.80 994.00v-5.2M1155.80 617.80v5.2M1180.06 994.00v-2.9M1180.06 617.80v2.9M1204.32 994.00v-2.9M1204.32 617.80v2.9M1228.58 994.00v-2.9M1228.58 617.80v2.9M1252.84 994.00v-2.9M1252.84 617.80v2.9M1277.10 994.00v-5.2M1277.10 617.80v5.2M1301.36 994.00v-2.9M1301.36 617.80v2.9M1325.62 994.00v-2.9M1325.62 617.80v2.9M1349.88 994.00v-2.9M1349.88 617.80v2.9M1374.14 994.00v-2.9M1374.14 617.80v2.9M1398.40 994.00v-5.2M1398.40 617.80v5.2M1422.66 994.00v-2.9M1422.66 617.80v2.9M1446.92 994.00v-2.9M1446.92 617.80v2.9M1471.18 994.00v-2.9M1471.18 617.80v2.9M1495.44 994.00v-2.9M1495.44 617.80v2.9M1519.70 994.00v-5.2M1519.70 617.80v5.2M1543.96 994.00v-2.9M1543.96 617.80v2.9M1568.22 994.00v-2.9M1568.22 617.80v2.9M913.20 993.80h5.2M1573.00 993.80h-5.2M913.20 975.00h2.9M1573.00 975.00h-2.9M913.20 956.20h2.9M1573.00 956.20h-2.9M913.20 937.40h2.9M1573.00 937.40h-2.9M913.20 918.60h5.2M1573.00 918.60h-5.2M913.20 899.80h2.9M1573.00 899.80h-2.9M913.20 881.00h2.9M1573.00 881.00h-2.9M913.20 862.20h2.9M1573.00 862.20h-2.9M913.20 843.40h5.2M1573.00 843.40h-5.2M913.20 824.60h2.9M1573.00 824.60h-2.9M913.20 805.80h2.9M1573.00 805.80h-2.9M913.20 787.00h2.9M1573.00 787.00h-2.9M913.20 768.20h5.2M1573.00 768.20h-5.2M913.20 749.40h2.9M1573.00 749.40h-2.9M913.20 730.60h2.9M1573.00 730.60h-2.9M913.20 711.80h2.9M1573.00 711.80h-2.9M913.20 693.00h5.2M1573.00 693.00h-5.2M913.20 674.20h2.9M1573.00 674.20h-2.9M913.20 655.40h2.9M1573.00 655.40h-2.9M913.20 636.60h2.9M1573.00 636.60h-2.9M913.20 617.80h5.2M1573.00 617.80h-5.2" stroke="#1a1a1a" stroke-width="1.8" fill="none"/>
<rect x="913.20" y="617.80" width="659.80" height="376.20" fill="none" stroke="#1a1a1a" stroke-width="2.1"/>
<line x1="1243.44" y1="616.80" x2="1243.44" y2="994.60" stroke="#d9582c" stroke-width="3.4" stroke-dasharray="12.6 12.5" stroke-dashoffset="4.7"/>
<text x="890.37" y="999.75" font-family="'Liberation Sans',sans-serif" font-size="25.4" style="" fill="#1a1a1a" >0</text>
<text x="869.47" y="924.55" font-family="'Liberation Sans',sans-serif" font-size="25.4" style="" fill="#1a1a1a" >0.2</text>
<text x="868.93" y="849.35" font-family="'Liberation Sans',sans-serif" font-size="25.4" style="" fill="#1a1a1a" >0.4</text>
<text x="869.31" y="774.15" font-family="'Liberation Sans',sans-serif" font-size="25.4" style="" fill="#1a1a1a" >0.6</text>
<text x="869.29" y="698.95" font-family="'Liberation Sans',sans-serif" font-size="25.4" style="" fill="#1a1a1a" >0.8</text>
<text x="869.18" y="623.75" font-family="'Liberation Sans',sans-serif" font-size="25.4" style="" fill="#1a1a1a" >1.0</text>
<text x="906.74" y="1020.30" font-family="'Liberation Sans',sans-serif" font-size="25.4" style="" fill="#1a1a1a" >0</text>
<text x="1028.06" y="1020.30" font-family="'Liberation Sans',sans-serif" font-size="25.4" style="" fill="#1a1a1a" >5</text>
<text x="1141.80" y="1020.30" font-family="'Liberation Sans',sans-serif" font-size="25.4" style="" fill="#1a1a1a" >10</text>
<text x="1263.14" y="1020.30" font-family="'Liberation Sans',sans-serif" font-size="25.4" style="" fill="#1a1a1a" >15</text>
<text x="1384.73" y="1020.30" font-family="'Liberation Sans',sans-serif" font-size="25.4" style="" fill="#1a1a1a" >20</text>
<text x="1506.07" y="1020.30" font-family="'Liberation Sans',sans-serif" font-size="25.4" style="" fill="#1a1a1a" >25</text>
</g>
<text x="70.75" y="35.10" font-family="'Liberation Serif',serif" font-size="42" style="" fill="#1a1a1a" >(a)</text>
<text transform="translate(136.66,36.40) scale(1.181,1)" font-family="'Liberation Serif',serif" font-size="36.4" style="" fill="#1a1a1a" >Δ</text>
<text transform="translate(164.05,36.40) scale(1.016,1)" font-family="'Liberation Serif',serif" font-size="31" style="font-style:italic;" fill="#1a1a1a" >ω</text>
<text transform="translate(187.26,41.40) scale(1.041,1)" font-family="'Liberation Serif',serif" font-size="24" style="font-style:italic;" fill="#1a1a1a" >p</text>
<text transform="translate(210.22,39.20) scale(1.45,1)" font-family="'Liberation Serif',serif" font-size="33" style="" fill="#1a1a1a" >=</text>
<text transform="translate(246.65,36.40) scale(1.056,1)" font-family="'Liberation Serif',serif" font-size="34.6" style="font-style:italic;" fill="#1a1a1a" >k</text>
<text transform="translate(273.89,40.80) scale(1.068,1)" font-family="'Liberation Serif',serif" font-size="38" style="" fill="#1a1a1a" >×</text>
<text transform="translate(305.16,36.40) scale(1.016,1)" font-family="'Liberation Serif',serif" font-size="34" style="" fill="#1a1a1a" >10</text>
<text transform="translate(339.23,22.70) scale(1.177,1)" font-family="'Liberation Serif',serif" font-size="22.9" style="" fill="#1a1a1a" >12</text>
<text transform="translate(367.71,36.40) scale(0.975,1)" font-family="'Liberation Serif',serif" font-size="35.3" style="" fill="#1a1a1a" >Hz</text>
<text x="877.45" y="35.10" font-family="'Liberation Serif',serif" font-size="42" style="" fill="#1a1a1a" >(b)</text>
<text transform="translate(945.26,36.40) scale(1.181,1)" font-family="'Liberation Serif',serif" font-size="36.4" style="" fill="#1a1a1a" >Δ</text>
<text transform="translate(972.65,36.40) scale(1.016,1)" font-family="'Liberation Serif',serif" font-size="31" style="font-style:italic;" fill="#1a1a1a" >ω</text>
<text transform="translate(995.86,41.40) scale(1.041,1)" font-family="'Liberation Serif',serif" font-size="24" style="font-style:italic;" fill="#1a1a1a" >p</text>
<text transform="translate(1018.82,39.20) scale(1.45,1)" font-family="'Liberation Serif',serif" font-size="33" style="" fill="#1a1a1a" >=</text>
<text transform="translate(1055.25,36.40) scale(1.056,1)" font-family="'Liberation Serif',serif" font-size="34.6" style="font-style:italic;" fill="#1a1a1a" >k</text>
<text transform="translate(1082.49,40.80) scale(1.068,1)" font-family="'Liberation Serif',serif" font-size="38" style="" fill="#1a1a1a" >×</text>
<text transform="translate(1113.76,36.40) scale(1.016,1)" font-family="'Liberation Serif',serif" font-size="34" style="" fill="#1a1a1a" >10</text>
<text transform="translate(1147.83,22.70) scale(1.177,1)" font-family="'Liberation Serif',serif" font-size="22.9" style="" fill="#1a1a1a" >12</text>
<text transform="translate(1176.31,36.40) scale(0.975,1)" font-family="'Liberation Serif',serif" font-size="35.3" style="" fill="#1a1a1a" >Hz</text>
<text x="71.85" y="585.90" font-family="'Liberation Serif',serif" font-size="42" style="" fill="#1a1a1a" >(c)</text>
<text transform="translate(137.26,587.20) scale(1.181,1)" font-family="'Liberation Serif',serif" font-size="36.4" style="" fill="#1a1a1a" >Δ</text>
<text transform="translate(164.65,587.20) scale(1.016,1)" font-family="'Liberation Serif',serif" font-size="31" style="font-style:italic;" fill="#1a1a1a" >ω</text>
<text transform="translate(186.54,592.40) scale(1.337,1)" font-family="'Liberation Serif',serif" font-size="22" style="font-style:italic;" fill="#1a1a1a" >s</text>
<text transform="translate(210.82,590.00) scale(1.45,1)" font-family="'Liberation Serif',serif" font-size="33" style="" fill="#1a1a1a" >=</text>
<text transform="translate(247.25,587.20) scale(1.056,1)" font-family="'Liberation Serif',serif" font-size="34.6" style="font-style:italic;" fill="#1a1a1a" >k</text>
<text transform="translate(274.49,591.60) scale(1.068,1)" font-family="'Liberation Serif',serif" font-size="38" style="" fill="#1a1a1a" >×</text>
<text transform="translate(305.76,587.20) scale(1.016,1)" font-family="'Liberation Serif',serif" font-size="34" style="" fill="#1a1a1a" >10</text>
<text transform="translate(339.83,573.50) scale(1.177,1)" font-family="'Liberation Serif',serif" font-size="22.9" style="" fill="#1a1a1a" >12</text>
<text transform="translate(368.31,587.20) scale(0.975,1)" font-family="'Liberation Serif',serif" font-size="35.3" style="" fill="#1a1a1a" >Hz</text>
<text x="877.45" y="586.30" font-family="'Liberation Serif',serif" font-size="42" style="" fill="#1a1a1a" >(d)</text>
<text transform="translate(945.26,587.60) scale(1.181,1)" font-family="'Liberation Serif',serif" font-size="36.4" style="" fill="#1a1a1a" >Δ</text>
<text transform="translate(972.65,587.60) scale(1.016,1)" font-family="'Liberation Serif',serif" font-size="31" style="font-style:italic;" fill="#1a1a1a" >ω</text>
<text transform="translate(994.54,592.80) scale(1.337,1)" font-family="'Liberation Serif',serif" font-size="22" style="font-style:italic;" fill="#1a1a1a" >s</text>
<text transform="translate(1018.82,590.40) scale(1.45,1)" font-family="'Liberation Serif',serif" font-size="33" style="" fill="#1a1a1a" >=</text>
<text transform="translate(1055.25,587.60) scale(1.056,1)" font-family="'Liberation Serif',serif" font-size="34.6" style="font-style:italic;" fill="#1a1a1a" >k</text>
<text transform="translate(1082.49,592.00) scale(1.068,1)" font-family="'Liberation Serif',serif" font-size="38" style="" fill="#1a1a1a" >×</text>
<text transform="translate(1113.76,587.60) scale(1.016,1)" font-family="'Liberation Serif',serif" font-size="34" style="" fill="#1a1a1a" >10</text>
<text transform="translate(1147.83,573.90) scale(1.177,1)" font-family="'Liberation Serif',serif" font-size="22.9" style="" fill="#1a1a1a" >12</text>
<text transform="translate(1176.31,587.60) scale(0.975,1)" font-family="'Liberation Serif',serif" font-size="35.3" style="" fill="#1a1a1a" >Hz</text>
<text transform="translate(31.60,372.55) rotate(-90)" font-family="'Liberation Serif',serif" font-size="37.72" fill="#1a1a1a">Concurrence <tspan style="font-style:italic">C</tspan></text>
<text transform="translate(841.80,370.35) rotate(-90)" font-family="'Liberation Serif',serif" font-size="37.69" fill="#1a1a1a">Concurrence <tspan style="font-style:italic">C</tspan></text>
<text transform="translate(31.60,930.55) rotate(-90)" font-family="'Liberation Serif',serif" font-size="37.72" fill="#1a1a1a">Concurrence <tspan style="font-style:italic">C</tspan></text>
<text transform="translate(841.80,928.25) rotate(-90)" font-family="'Liberation Serif',serif" font-size="37.67" fill="#1a1a1a">Concurrence <tspan style="font-style:italic">C</tspan></text>
<text transform="translate(196.35,514.30) scale(1.003,1)" font-family="'Liberation Serif',serif" font-size="37.6" style="" fill="#1a1a1a" >Quartz Length,</text>
<text transform="translate(433.41,514.30) scale(1.165,1)" font-family="'Liberation Serif',serif" font-size="37.6" style="font-style:italic;" fill="#1a1a1a" >L</text>
<text transform="translate(454.40,514.30) scale(0.921,1)" font-family="'Liberation Serif',serif" font-size="25.9" style="" fill="#1a1a1a" >1</text>
<text transform="translate(475.60,514.00) scale(1.177,1)" font-family="'Liberation Serif',serif" font-size="37.6" style="" fill="#1a1a1a" >=</text>
<text transform="translate(508.02,514.30) scale(1.17,1)" font-family="'Liberation Serif',serif" font-size="37.6" style="font-style:italic;" fill="#1a1a1a" >L</text>
<text transform="translate(529.24,514.30) scale(1.021,1)" font-family="'Liberation Serif',serif" font-size="25.9" style="" fill="#1a1a1a" >2</text>
<text transform="translate(552.74,514.30) scale(0.988,1)" font-family="'Liberation Serif',serif" font-size="37.6" style="" fill="#1a1a1a" >[mm]</text>
<text transform="translate(1058.75,514.00) scale(1.003,1)" font-family="'Liberation Serif',serif" font-size="37.6" style="" fill="#1a1a1a" >Quartz Length,</text>
<text transform="translate(1295.88,514.00) scale(1.088,1)" font-family="'Liberation Serif',serif" font-size="37.6" style="font-style:italic;" fill="#1a1a1a" >L</text>
<text transform="translate(1315.36,514.00) scale(1.175,1)" font-family="'Liberation Serif',serif" font-size="25.9" style="" fill="#1a1a1a" >2</text>
<text transform="translate(1340.44,514.00) scale(0.99,1)" font-family="'Liberation Serif',serif" font-size="37.6" style="" fill="#1a1a1a" >[mm]</text>
<text transform="translate(196.75,1064.00) scale(1.003,1)" font-family="'Liberation Serif',serif" font-size="37.6" style="" fill="#1a1a1a" >Quartz Length,</text>
<text transform="translate(433.81,1064.00) scale(1.165,1)" font-family="'Liberation Serif',serif" font-size="37.6" style="font-style:italic;" fill="#1a1a1a" >L</text>
<text transform="translate(454.80,1064.00) scale(0.921,1)" font-family="'Liberation Serif',serif" font-size="25.9" style="" fill="#1a1a1a" >1</text>
<text transform="translate(476.00,1063.70) scale(1.177,1)" font-family="'Liberation Serif',serif" font-size="37.6" style="" fill="#1a1a1a" >=</text>
<text transform="translate(508.42,1064.00) scale(1.17,1)" font-family="'Liberation Serif',serif" font-size="37.6" style="font-style:italic;" fill="#1a1a1a" >L</text>
<text transform="translate(529.64,1064.00) scale(1.021,1)" font-family="'Liberation Serif',serif" font-size="25.9" style="" fill="#1a1a1a" >2</text>
<text transform="translate(553.14,1064.00) scale(0.988,1)" font-family="'Liberation Serif',serif" font-size="37.6" style="" fill="#1a1a1a" >[mm]</text>
<text transform="translate(1058.75,1063.20) scale(1.003,1)" font-family="'Liberation Serif',serif" font-size="37.6" style="" fill="#1a1a1a" >Quartz Length,</text>
<text transform="translate(1295.88,1063.20) scale(1.088,1)" font-family="'Liberation Serif',serif" font-size="37.6" style="font-style:italic;" fill="#1a1a1a" >L</text>
<text transform="translate(1315.36,1063.20) scale(1.175,1)" font-family="'Liberation Serif',serif" font-size="25.9" style="" fill="#1a1a1a" >2</text>
<text transform="translate(1340.44,1063.20) scale(0.99,1)" font-family="'Liberation Serif',serif" font-size="37.6" style="" fill="#1a1a1a" >[mm]</text>
<text transform="translate(604.87,141.30) scale(1.033,1)" font-family="'Liberation Serif',serif" font-size="31.1" style="font-style:italic;" fill="#1a1a1a" >k</text>
<text transform="translate(628.94,143.10) scale(1.45,1)" font-family="'Liberation Serif',serif" font-size="28.5" style="" fill="#1a1a1a" >=</text>
<text transform="translate(661.15,141.30) scale(0.92,1)" font-family="'Liberation Serif',serif" font-size="31.5" style="" fill="#1a1a1a" >1</text>
<text transform="translate(564.97,330.60) scale(1.033,1)" font-family="'Liberation Serif',serif" font-size="31.1" style="font-style:italic;" fill="#1a1a1a" >k</text>
<text transform="translate(589.04,332.40) scale(1.45,1)" font-family="'Liberation Serif',serif" font-size="28.5" style="" fill="#1a1a1a" >=</text>
<text transform="translate(621.61,330.60) scale(0.956,1)" font-family="'Liberation Serif',serif" font-size="31.5" style="" fill="#1a1a1a" >4</text>
<text transform="translate(291.47,429.60) scale(1.033,1)" font-family="'Liberation Serif',serif" font-size="31.1" style="font-style:italic;" fill="#1a1a1a" >k</text>
<text transform="translate(315.54,431.40) scale(1.45,1)" font-family="'Liberation Serif',serif" font-size="28.5" style="" fill="#1a1a1a" >=</text>
<text transform="translate(346.75,429.60) scale(0.993,1)" font-family="'Liberation Serif',serif" font-size="31.5" style="" fill="#1a1a1a" >16</text>
<text transform="translate(1324.57,108.50) scale(1.033,1)" font-family="'Liberation Serif',serif" font-size="31.1" style="font-style:italic;" fill="#1a1a1a" >k</text>
<text transform="translate(1348.64,110.30) scale(1.45,1)" font-family="'Liberation Serif',serif" font-size="28.5" style="" fill="#1a1a1a" >=</text>
<text transform="translate(1380.85,108.50) scale(0.92,1)" font-family="'Liberation Serif',serif" font-size="31.5" style="" fill="#1a1a1a" >1</text>
<text transform="translate(1133.17,261.30) scale(1.033,1)" font-family="'Liberation Serif',serif" font-size="31.1" style="font-style:italic;" fill="#1a1a1a" >k</text>
<text transform="translate(1157.24,263.10) scale(1.45,1)" font-family="'Liberation Serif',serif" font-size="28.5" style="" fill="#1a1a1a" >=</text>
<text transform="translate(1189.81,261.30) scale(0.956,1)" font-family="'Liberation Serif',serif" font-size="31.5" style="" fill="#1a1a1a" >4</text>
<text transform="translate(971.57,409.90) scale(1.033,1)" font-family="'Liberation Serif',serif" font-size="31.1" style="font-style:italic;" fill="#1a1a1a" >k</text>
<text transform="translate(995.64,411.70) scale(1.45,1)" font-family="'Liberation Serif',serif" font-size="28.5" style="" fill="#1a1a1a" >=</text>
<text transform="translate(1026.85,409.90) scale(0.993,1)" font-family="'Liberation Serif',serif" font-size="31.5" style="" fill="#1a1a1a" >16</text>
<text transform="translate(571.87,669.90) scale(1.033,1)" font-family="'Liberation Serif',serif" font-size="31.1" style="font-style:italic;" fill="#1a1a1a" >k</text>
<text transform="translate(595.94,671.70) scale(1.45,1)" font-family="'Liberation Serif',serif" font-size="28.5" style="" fill="#1a1a1a" >=</text>
<text transform="translate(628.15,669.90) scale(0.92,1)" font-family="'Liberation Serif',serif" font-size="31.5" style="" fill="#1a1a1a" >1</text>
<text transform="translate(547.57,831.60) scale(1.033,1)" font-family="'Liberation Serif',serif" font-size="31.1" style="font-style:italic;" fill="#1a1a1a" >k</text>
<text transform="translate(571.64,833.40) scale(1.45,1)" font-family="'Liberation Serif',serif" font-size="28.5" style="" fill="#1a1a1a" >=</text>
<text transform="translate(604.21,831.60) scale(0.956,1)" font-family="'Liberation Serif',serif" font-size="31.5" style="" fill="#1a1a1a" >4</text>
<text transform="translate(560.87,966.40) scale(1.033,1)" font-family="'Liberation Serif',serif" font-size="31.1" style="font-style:italic;" fill="#1a1a1a" >k</text>
<text transform="translate(584.94,968.20) scale(1.45,1)" font-family="'Liberation Serif',serif" font-size="28.5" style="" fill="#1a1a1a" >=</text>
<text transform="translate(616.15,966.40) scale(0.993,1)" font-family="'Liberation Serif',serif" font-size="31.5" style="" fill="#1a1a1a" >16</text>
<text transform="translate(1144.27,670.90) scale(1.033,1)" font-family="'Liberation Serif',serif" font-size="31.1" style="font-style:italic;" fill="#1a1a1a" >k</text>
<text transform="translate(1168.34,672.70) scale(1.45,1)" font-family="'Liberation Serif',serif" font-size="28.5" style="" fill="#1a1a1a" >=</text>
<text transform="translate(1200.55,670.90) scale(0.92,1)" font-family="'Liberation Serif',serif" font-size="31.5" style="" fill="#1a1a1a" >1</text>
<text transform="translate(1048.87,755.50) scale(1.033,1)" font-family="'Liberation Serif',serif" font-size="31.1" style="font-style:italic;" fill="#1a1a1a" >k</text>
<text transform="translate(1072.94,757.30) scale(1.45,1)" font-family="'Liberation Serif',serif" font-size="28.5" style="" fill="#1a1a1a" >=</text>
<text transform="translate(1105.51,755.50) scale(0.956,1)" font-family="'Liberation Serif',serif" font-size="31.5" style="" fill="#1a1a1a" >4</text>
<text transform="translate(1127.87,903.20) scale(1.033,1)" font-family="'Liberation Serif',serif" font-size="31.1" style="font-style:italic;" fill="#1a1a1a" >k</text>
<text transform="translate(1151.94,905.00) scale(1.45,1)" font-family="'Liberation Serif',serif" font-size="28.5" style="" fill="#1a1a1a" >=</text>
<text transform="translate(1183.15,903.20) scale(0.993,1)" font-family="'Liberation Serif',serif" font-size="31.5" style="" fill="#1a1a1a" >16</text>
<text transform="translate(121.00,385.00) scale(1.17,1)" font-family="'Liberation Serif',serif" font-size="33.6" style="" fill="#1a1a1a" >Δ</text>
<text transform="translate(145.54,385.00) scale(0.986,1)" font-family="'Liberation Serif',serif" font-size="29.2" style="font-style:italic;" fill="#1a1a1a" >ω</text>
<text transform="translate(166.39,389.70) scale(1.141,1)" font-family="'Liberation Serif',serif" font-size="22" style="font-style:italic;" fill="#1a1a1a" >s</text>
<text transform="translate(186.08,387.10) scale(1.438,1)" font-family="'Liberation Serif',serif" font-size="29.6" style="" fill="#1a1a1a" >=</text>
<text transform="translate(217.35,385.00) scale(1.018,1)" font-family="'Liberation Serif',serif" font-size="32" style="" fill="#1a1a1a" >7</text>
<text transform="translate(241.60,388.60) scale(1.077,1)" font-family="'Liberation Serif',serif" font-size="34" style="" fill="#1a1a1a" >×</text>
<text transform="translate(270.35,385.00) scale(0.929,1)" font-family="'Liberation Serif',serif" font-size="32.5" style="" fill="#1a1a1a" >10</text>
<text transform="translate(301.51,371.90) scale(1.099,1)" font-family="'Liberation Serif',serif" font-size="20.6" style="" fill="#1a1a1a" >12</text>
<text transform="translate(326.51,385.00) scale(0.943,1)" font-family="'Liberation Serif',serif" font-size="32.8" style="" fill="#1a1a1a" >Hz</text>
<text transform="translate(1313.10,377.40) scale(1.17,1)" font-family="'Liberation Serif',serif" font-size="33.6" style="" fill="#1a1a1a" >Δ</text>
<text transform="translate(1337.64,377.40) scale(0.986,1)" font-family="'Liberation Serif',serif" font-size="29.2" style="font-style:italic;" fill="#1a1a1a" >ω</text>
<text transform="translate(1358.49,382.10) scale(1.141,1)" font-family="'Liberation Serif',serif" font-size="22" style="font-style:italic;" fill="#1a1a1a" >s</text>
<text transform="translate(1378.18,379.50) scale(1.438,1)" font-family="'Liberation Serif',serif" font-size="29.6" style="" fill="#1a1a1a" >=</text>
<text transform="translate(1409.45,377.40) scale(1.018,1)" font-family="'Liberation Serif',serif" font-size="32" style="" fill="#1a1a1a" >7</text>
<text transform="translate(1433.70,381.00) scale(1.077,1)" font-family="'Liberation Serif',serif" font-size="34" style="" fill="#1a1a1a" >×</text>
<text transform="translate(1462.45,377.40) scale(0.929,1)" font-family="'Liberation Serif',serif" font-size="32.5" style="" fill="#1a1a1a" >10</text>
<text transform="translate(1493.61,364.30) scale(1.099,1)" font-family="'Liberation Serif',serif" font-size="20.6" style="" fill="#1a1a1a" >12</text>
<text transform="translate(1518.61,377.40) scale(0.943,1)" font-family="'Liberation Serif',serif" font-size="32.8" style="" fill="#1a1a1a" >Hz</text>
<text transform="translate(119.80,938.20) scale(1.17,1)" font-family="'Liberation Serif',serif" font-size="33.6" style="" fill="#1a1a1a" >Δ</text>
<text transform="translate(144.34,938.20) scale(0.986,1)" font-family="'Liberation Serif',serif" font-size="29.2" style="font-style:italic;" fill="#1a1a1a" >ω</text>
<text transform="translate(165.94,942.60) scale(1.144,1)" font-family="'Liberation Serif',serif" font-size="21.5" style="font-style:italic;" fill="#1a1a1a" >p</text>
<text transform="translate(184.88,940.30) scale(1.438,1)" font-family="'Liberation Serif',serif" font-size="29.6" style="" fill="#1a1a1a" >=</text>
<text transform="translate(218.01,938.20) scale(0.941,1)" font-family="'Liberation Serif',serif" font-size="32" style="" fill="#1a1a1a" >4</text>
<text transform="translate(241.00,941.80) scale(1.077,1)" font-family="'Liberation Serif',serif" font-size="34" style="" fill="#1a1a1a" >×</text>
<text transform="translate(269.95,938.20) scale(0.929,1)" font-family="'Liberation Serif',serif" font-size="32.5" style="" fill="#1a1a1a" >10</text>
<text transform="translate(301.11,925.10) scale(1.099,1)" font-family="'Liberation Serif',serif" font-size="20.6" style="" fill="#1a1a1a" >12</text>
<text transform="translate(326.01,938.20) scale(0.943,1)" font-family="'Liberation Serif',serif" font-size="32.8" style="" fill="#1a1a1a" >Hz</text>
<text transform="translate(1312.90,933.40) scale(1.17,1)" font-family="'Liberation Serif',serif" font-size="33.6" style="" fill="#1a1a1a" >Δ</text>
<text transform="translate(1337.44,933.40) scale(0.986,1)" font-family="'Liberation Serif',serif" font-size="29.2" style="font-style:italic;" fill="#1a1a1a" >ω</text>
<text transform="translate(1359.04,937.80) scale(1.144,1)" font-family="'Liberation Serif',serif" font-size="21.5" style="font-style:italic;" fill="#1a1a1a" >p</text>
<text transform="translate(1377.98,935.50) scale(1.438,1)" font-family="'Liberation Serif',serif" font-size="29.6" style="" fill="#1a1a1a" >=</text>
<text transform="translate(1411.11,933.40) scale(0.941,1)" font-family="'Liberation Serif',serif" font-size="32" style="" fill="#1a1a1a" >4</text>
<text transform="translate(1434.10,937.00) scale(1.077,1)" font-family="'Liberation Serif',serif" font-size="34" style="" fill="#1a1a1a" >×</text>
<text transform="translate(1463.05,933.40) scale(0.929,1)" font-family="'Liberation Serif',serif" font-size="32.5" style="" fill="#1a1a1a" >10</text>
<text transform="translate(1494.21,920.30) scale(1.099,1)" font-family="'Liberation Serif',serif" font-size="20.6" style="" fill="#1a1a1a" >12</text>
<text transform="translate(1519.11,933.40) scale(0.943,1)" font-family="'Liberation Serif',serif" font-size="32.8" style="" fill="#1a1a1a" >Hz</text>
<text transform="translate(1312.63,417.80) scale(1.075,1)" font-family="'Liberation Serif',serif" font-size="34.5" style="font-style:italic;" fill="#1a1a1a" >L</text>
<text transform="translate(1334.26,417.80) scale(0.7,1)" font-family="'Liberation Serif',serif" font-size="25" style="" fill="#1a1a1a" >1</text>
<text transform="translate(1352.52,417.80) scale(1.081,1)" font-family="'Liberation Serif',serif" font-size="35" style="" fill="#1a1a1a" >=</text>
<text transform="translate(1382.09,417.80) scale(0.945,1)" font-family="'Liberation Serif',serif" font-size="35" style="" fill="#1a1a1a" >13.6</text>
<text transform="translate(1448.59,417.80) scale(0.936,1)" font-family="'Liberation Serif',serif" font-size="36" style="" fill="#1a1a1a" >mm</text>
<text transform="translate(1313.33,973.10) scale(1.075,1)" font-family="'Liberation Serif',serif" font-size="34.5" style="font-style:italic;" fill="#1a1a1a" >L</text>
<text transform="translate(1334.96,973.10) scale(0.7,1)" font-family="'Liberation Serif',serif" font-size="25" style="" fill="#1a1a1a" >1</text>
<text transform="translate(1353.22,973.10) scale(1.081,1)" font-family="'Liberation Serif',serif" font-size="35" style="" fill="#1a1a1a" >=</text>
<text transform="translate(1382.79,973.10) scale(0.945,1)" font-family="'Liberation Serif',serif" font-size="35" style="" fill="#1a1a1a" >13.6</text>
<text transform="translate(1449.29,973.10) scale(0.936,1)" font-family="'Liberation Serif',serif" font-size="36" style="" fill="#1a1a1a" >mm</text>
<text transform="translate(1100.48,384.00) scale(0.944,1)" font-family="'Liberation Serif',serif" font-size="26.8" style="" fill="#1a1a1a" >13.6</text>
<text transform="translate(1151.46,384.00) scale(0.951,1)" font-family="'Liberation Serif',serif" font-size="26.8" style="" fill="#1a1a1a" >mm</text>
<text transform="translate(1093.68,944.60) scale(0.944,1)" font-family="'Liberation Serif',serif" font-size="26.8" style="" fill="#1a1a1a" >13.6</text>
<text transform="translate(1144.66,944.60) scale(0.951,1)" font-family="'Liberation Serif',serif" font-size="26.8" style="" fill="#1a1a1a" >mm</text>
<line x1="1186.0" y1="394.4" x2="1225.00" y2="428.50" stroke="#1c1c1c" stroke-width="3.1" stroke-linecap="round"/>
<polygon points="1240.40,441.20 1215.50,433.00 1225.00,428.50 1228.50,417.90" fill="#1c1c1c"/>
<line x1="1197.7" y1="955.2" x2="1222.90" y2="976.80" stroke="#1c1c1c" stroke-width="3.1" stroke-linecap="round"/>
<polygon points="1238.30,989.50 1213.40,981.30 1222.90,976.80 1226.40,966.20" fill="#1c1c1c"/>
</svg></body></html>
